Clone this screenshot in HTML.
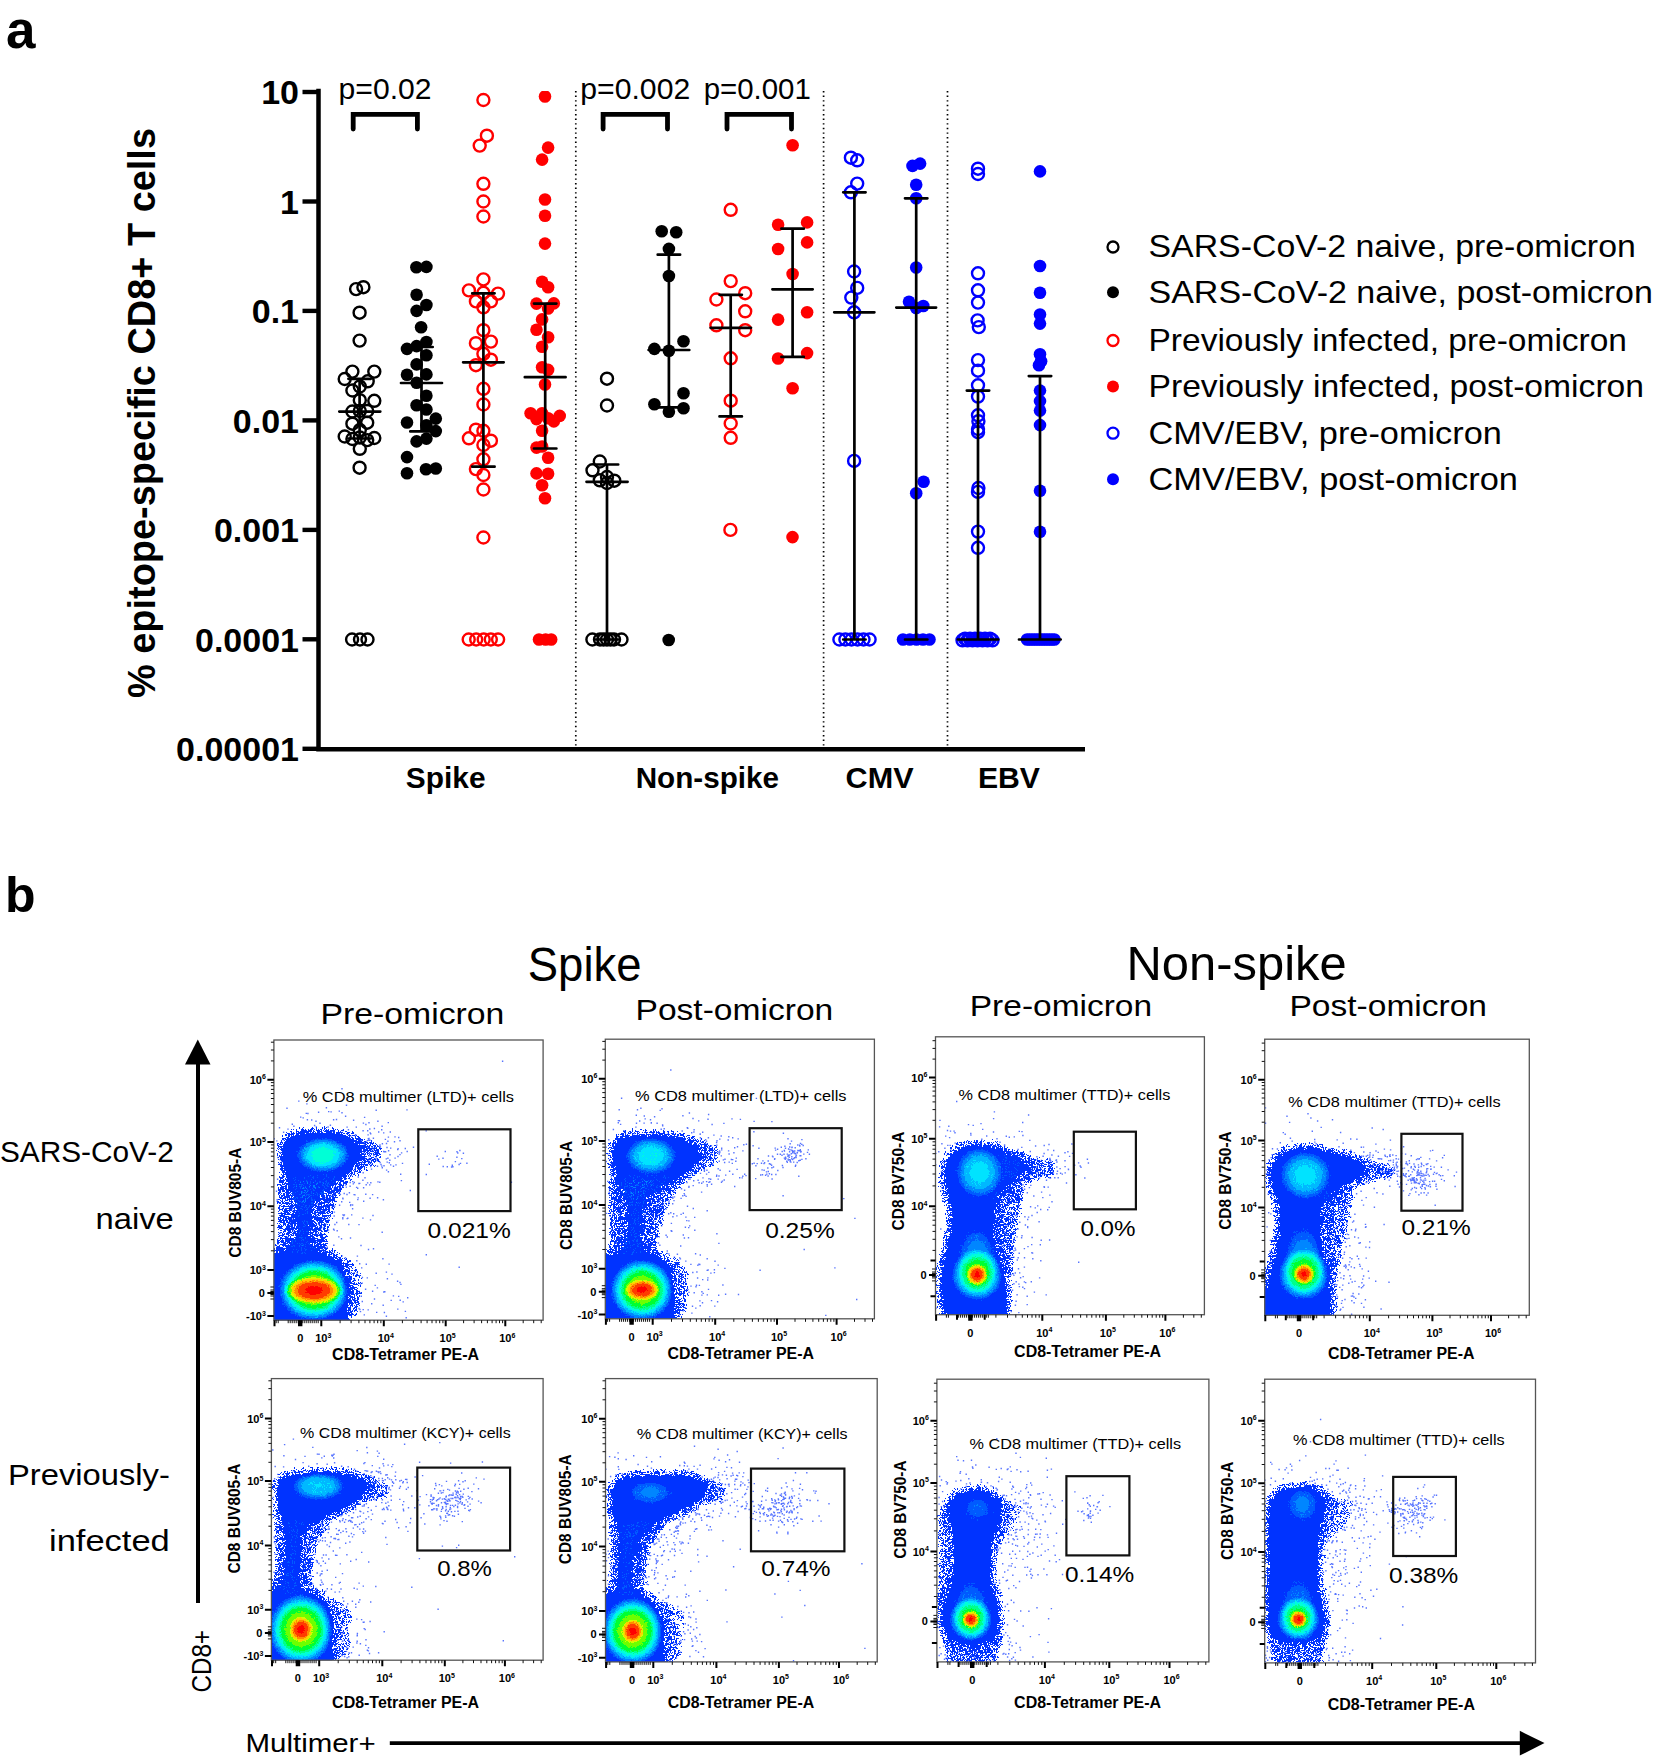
<!DOCTYPE html>
<html><head><meta charset="utf-8"><title>Figure</title>
<style>html,body{margin:0;padding:0;background:#fff;} svg{display:block;}</style></head>
<body>
<svg width="1654" height="1762" viewBox="0 0 1654 1762">
<defs>
<filter id="jet" x="0" y="0" width="1" height="1" color-interpolation-filters="sRGB">
 <feTurbulence type="fractalNoise" baseFrequency="0.8" numOctaves="1" seed="3" result="t"/>
 <feDisplacementMap in="SourceGraphic" in2="t" scale="3.5" xChannelSelector="R" yChannelSelector="G"/>
 <feColorMatrix type="matrix" values="1 0 0 0 0  0 1 0 0 0  0 0 1 0 0  1 0 0 0 0"/>
 <feComponentTransfer>
  <feFuncR type="discrete" tableValues="1 1 1 1 1 0 0 0 0 0 0 0 0 0 0 0 0 0 0 0 0 0 0 0 0 0 0 0 0 0 0 0 0 0 0 0 0 0 0 0 0 0 0 0 0 0 0 0 0 0 0 0 0 0 0 0 0 0 0 0 0 0 0 0 0 0 0 0 0 0 0 0 0 0 0 0 0.431 0.431 0.431 0.431 0.431 0.431 0.843 0.843 0.843 0.843 0.843 1 1 1 1 1 1 1 1 1 1 1 1 1"/>
  <feFuncG type="discrete" tableValues="1 1 1 1 1 0.2 0.2 0.2 0.2 0.2 0.2 0.2 0.2 0.2 0.2 0.2 0.2 0.2 0.2 0.2 0.2 0.2 0.2 0.2 0.2 0.2 0.2 0.2 0.353 0.353 0.353 0.353 0.353 0.353 0.353 0.353 0.529 0.529 0.529 0.529 0.529 0.529 0.529 0.529 0.725 0.725 0.725 0.725 0.725 0.725 0.725 0.894 0.894 0.894 0.894 0.894 0.894 1 1 1 1 1 1 1 1 1 1 1 1 1 1 1 1 1 1 1 1 1 1 1 1 1 0.98 0.98 0.98 0.98 0.98 0.804 0.804 0.804 0.804 0.804 0.549 0.549 0.549 0.549 0.235 0.235 0.235 0"/>
  <feFuncB type="discrete" tableValues="1 1 1 1 1 1 1 1 1 1 1 1 1 1 1 1 1 1 1 1 1 1 1 1 1 1 1 1 1 1 1 1 1 1 1 1 1 1 1 1 1 1 1 1 1 1 1 1 1 1 1 1 1 1 1 1 1 0.843 0.843 0.843 0.843 0.843 0.843 0.843 0.549 0.549 0.549 0.549 0.549 0.549 0.196 0.196 0.196 0.196 0.196 0.196 0 0 0 0 0 0 0 0 0 0 0 0 0 0 0 0 0 0 0 0 0 0 0 0"/>
  <feFuncA type="discrete" tableValues="0 0 0 0 0 1 1 1 1 1 1 1 1 1 1 1 1 1 1 1 1 1 1 1 1 1 1 1 1 1 1 1 1 1 1 1 1 1 1 1 1 1 1 1 1 1 1 1 1 1 1 1 1 1 1 1 1 1 1 1 1 1 1 1 1 1 1 1 1 1 1 1 1 1 1 1 1 1 1 1 1 1 1 1 1 1 1 1 1 1 1 1 1 1 1 1 1 1 1 1"/>
 </feComponentTransfer>
</filter>
<filter id="nz" x="-5%" y="-5%" width="110%" height="110%" color-interpolation-filters="sRGB">
 <feTurbulence type="fractalNoise" baseFrequency="0.9" numOctaves="2" seed="7"/>
 <feColorMatrix type="matrix" values="0 0 0 0 1  0 0 0 0 1  0 0 0 0 1  0 0 3.2 0 -1.1"/>
 <feComponentTransfer result="n"><feFuncA type="linear" slope="1" intercept="0"/></feComponentTransfer>
 <feComposite in="SourceGraphic" in2="n" operator="arithmetic" k1="2.0" k2="0.0" k3="0" k4="0"/>
</filter>
<filter id="eb" x="-20%" y="-20%" width="140%" height="140%" color-interpolation-filters="sRGB"><feMorphology operator="erode" radius="2.5"/><feGaussianBlur stdDeviation="2"/></filter>
<filter id="eb3" x="-30%" y="-30%" width="160%" height="160%" color-interpolation-filters="sRGB"><feGaussianBlur stdDeviation="3"/></filter>
<filter id="eb6" x="-40%" y="-40%" width="180%" height="180%" color-interpolation-filters="sRGB"><feGaussianBlur stdDeviation="7"/></filter>
<radialGradient id="rg"><stop offset="0" stop-color="#fff" stop-opacity="1"/><stop offset="0.4" stop-color="#fff" stop-opacity="0.93"/><stop offset="0.6" stop-color="#fff" stop-opacity="0.78"/><stop offset="0.8" stop-color="#fff" stop-opacity="0.45"/><stop offset="0.9" stop-color="#fff" stop-opacity="0.24"/><stop offset="1" stop-color="#fff" stop-opacity="0"/></radialGradient>
</defs>
<rect width="1654" height="1762" fill="#fff"/>
<text x="6" y="47.5" font-family="Liberation Sans, Arial, sans-serif" font-weight="700" font-size="53">a</text>
<text transform="translate(155.2,698) rotate(-90)" font-family="Liberation Sans, Arial, sans-serif" font-weight="700" font-size="38.6" textLength="570" lengthAdjust="spacingAndGlyphs">% epitope-specific CD8+ T cells</text>
<line x1="302.5" y1="92" x2="318" y2="92" stroke="#000" stroke-width="4.4"/>
<text x="299" y="104.3" text-anchor="end" font-family="Liberation Sans, Arial, sans-serif" font-weight="700" font-size="34">10</text>
<line x1="302.5" y1="201.5" x2="318" y2="201.5" stroke="#000" stroke-width="4.4"/>
<text x="299" y="213.8" text-anchor="end" font-family="Liberation Sans, Arial, sans-serif" font-weight="700" font-size="34">1</text>
<line x1="302.5" y1="310.9" x2="318" y2="310.9" stroke="#000" stroke-width="4.4"/>
<text x="299" y="323.2" text-anchor="end" font-family="Liberation Sans, Arial, sans-serif" font-weight="700" font-size="34">0.1</text>
<line x1="302.5" y1="420.4" x2="318" y2="420.4" stroke="#000" stroke-width="4.4"/>
<text x="299" y="432.7" text-anchor="end" font-family="Liberation Sans, Arial, sans-serif" font-weight="700" font-size="34">0.01</text>
<line x1="302.5" y1="529.9" x2="318" y2="529.9" stroke="#000" stroke-width="4.4"/>
<text x="299" y="542.1" text-anchor="end" font-family="Liberation Sans, Arial, sans-serif" font-weight="700" font-size="34">0.001</text>
<line x1="302.5" y1="639.3" x2="318" y2="639.3" stroke="#000" stroke-width="4.4"/>
<text x="299" y="651.6" text-anchor="end" font-family="Liberation Sans, Arial, sans-serif" font-weight="700" font-size="34">0.0001</text>
<line x1="302.5" y1="748.8" x2="318" y2="748.8" stroke="#000" stroke-width="4.4"/>
<text x="299" y="761" text-anchor="end" font-family="Liberation Sans, Arial, sans-serif" font-weight="700" font-size="34">0.00001</text>
<path d="M318.5 88.7 V751.5 M316.3 749.3 H1085" stroke="#000" stroke-width="4.5" fill="none"/>
<line x1="575.8" y1="91" x2="575.8" y2="747" stroke="#000" stroke-width="1.7" stroke-dasharray="1.4 3.2"/>
<line x1="823.6" y1="91" x2="823.6" y2="747" stroke="#000" stroke-width="1.7" stroke-dasharray="1.4 3.2"/>
<line x1="947.5" y1="91" x2="947.5" y2="747" stroke="#000" stroke-width="1.7" stroke-dasharray="1.4 3.2"/>
<text x="405.8" y="788" font-family="Liberation Sans, Arial, sans-serif" font-weight="700" font-size="29" textLength="79.7" lengthAdjust="spacingAndGlyphs">Spike</text>
<text x="635.7" y="788" font-family="Liberation Sans, Arial, sans-serif" font-weight="700" font-size="29" textLength="143.4" lengthAdjust="spacingAndGlyphs">Non-spike</text>
<text x="845.6" y="788" font-family="Liberation Sans, Arial, sans-serif" font-weight="700" font-size="29" textLength="68" lengthAdjust="spacingAndGlyphs">CMV</text>
<text x="977.9" y="788" font-family="Liberation Sans, Arial, sans-serif" font-weight="700" font-size="29" textLength="62.1" lengthAdjust="spacingAndGlyphs">EBV</text>
<text x="338.6" y="98.8" font-family="Liberation Sans, Arial, sans-serif" font-size="30" textLength="93" lengthAdjust="spacingAndGlyphs">p=0.02</text>
<text x="580.3" y="98.8" font-family="Liberation Sans, Arial, sans-serif" font-size="30" textLength="109.9" lengthAdjust="spacingAndGlyphs">p=0.002</text>
<text x="703.7" y="98.8" font-family="Liberation Sans, Arial, sans-serif" font-size="30" textLength="107.1" lengthAdjust="spacingAndGlyphs">p=0.001</text>
<path d="M353.2 129.1 V114.4 H417.4 V129.1" stroke="#000" stroke-width="4.8" fill="none" stroke-linecap="round"/>
<path d="M603.1 129.1 V114.4 H667.5 V129.1" stroke="#000" stroke-width="4.8" fill="none" stroke-linecap="round"/>
<path d="M727.0 129.1 V114.4 H791.5 V129.1" stroke="#000" stroke-width="4.8" fill="none" stroke-linecap="round"/>
<clipPath id="pa"><rect x="318" y="91" width="770" height="658"/></clipPath>
<g clip-path="url(#pa)">
<g fill="none" stroke="#000" stroke-width="2.4">
<circle cx="356.1" cy="289.1" r="6.0"/>
<circle cx="363.4" cy="287.2" r="6.0"/>
<circle cx="359.6" cy="312.7" r="6.0"/>
<circle cx="359.6" cy="340.6" r="6.0"/>
<circle cx="352.4" cy="371.6" r="6.0"/>
<circle cx="374.3" cy="371.6" r="6.0"/>
<circle cx="344.7" cy="379" r="6.0"/>
<circle cx="367.7" cy="381.3" r="6.0"/>
<circle cx="359.8" cy="386.5" r="6.0"/>
<circle cx="352.4" cy="390.5" r="6.0"/>
<circle cx="359.8" cy="400.2" r="6.0"/>
<circle cx="374.3" cy="400.8" r="6.0"/>
<circle cx="352.4" cy="411.5" r="6.0"/>
<circle cx="359.8" cy="411" r="6.0"/>
<circle cx="367.2" cy="411" r="6.0"/>
<circle cx="352.4" cy="423.7" r="6.0"/>
<circle cx="367.2" cy="422.7" r="6.0"/>
<circle cx="359.8" cy="430" r="6.0"/>
<circle cx="344.7" cy="436.5" r="6.0"/>
<circle cx="352.4" cy="439" r="6.0"/>
<circle cx="359.8" cy="437.5" r="6.0"/>
<circle cx="367.2" cy="440.1" r="6.0"/>
<circle cx="374.3" cy="438" r="6.0"/>
<circle cx="359.8" cy="448.8" r="6.0"/>
<circle cx="359.6" cy="467.7" r="6.0"/>
<circle cx="352.1" cy="639.5" r="6.0"/>
<circle cx="360" cy="639.5" r="6.0"/>
<circle cx="367.5" cy="639.5" r="6.0"/>
</g>
<g fill="#000">
<circle cx="416.4" cy="267.3" r="6.3"/>
<circle cx="426.4" cy="266.9" r="6.3"/>
<circle cx="416.6" cy="294.8" r="6.3"/>
<circle cx="426.4" cy="305" r="6.3"/>
<circle cx="416.6" cy="310.9" r="6.3"/>
<circle cx="421.1" cy="327.3" r="6.3"/>
<circle cx="426.4" cy="342" r="6.3"/>
<circle cx="416.6" cy="346.1" r="6.3"/>
<circle cx="407" cy="348.9" r="6.3"/>
<circle cx="426.4" cy="355.3" r="6.3"/>
<circle cx="416.6" cy="364.4" r="6.3"/>
<circle cx="407" cy="374.8" r="6.3"/>
<circle cx="426.4" cy="374.4" r="6.3"/>
<circle cx="416.6" cy="382.8" r="6.3"/>
<circle cx="426.4" cy="395.8" r="6.3"/>
<circle cx="416.6" cy="405.2" r="6.3"/>
<circle cx="426.4" cy="409.5" r="6.3"/>
<circle cx="435.8" cy="418.6" r="6.3"/>
<circle cx="407" cy="422.5" r="6.3"/>
<circle cx="426.4" cy="425.3" r="6.3"/>
<circle cx="435.8" cy="431.1" r="6.3"/>
<circle cx="426.4" cy="438.6" r="6.3"/>
<circle cx="416.6" cy="441.4" r="6.3"/>
<circle cx="407" cy="457.1" r="6.3"/>
<circle cx="407" cy="473.2" r="6.3"/>
<circle cx="426" cy="469.3" r="6.3"/>
<circle cx="435.8" cy="468.5" r="6.3"/>
</g>
<g fill="none" stroke="#ff0000" stroke-width="2.4">
<circle cx="483.4" cy="100" r="6.0"/>
<circle cx="486.9" cy="135.7" r="6.0"/>
<circle cx="479.7" cy="145.6" r="6.0"/>
<circle cx="483.4" cy="183.8" r="6.0"/>
<circle cx="483.4" cy="201.5" r="6.0"/>
<circle cx="483.4" cy="216.5" r="6.0"/>
<circle cx="483.4" cy="279.4" r="6.0"/>
<circle cx="468.9" cy="290.4" r="6.0"/>
<circle cx="483.4" cy="292.8" r="6.0"/>
<circle cx="498" cy="293.6" r="6.0"/>
<circle cx="475.9" cy="301.4" r="6.0"/>
<circle cx="490.9" cy="301.4" r="6.0"/>
<circle cx="483.4" cy="307.3" r="6.0"/>
<circle cx="483.4" cy="330.2" r="6.0"/>
<circle cx="475.9" cy="343.2" r="6.0"/>
<circle cx="490.9" cy="341.6" r="6.0"/>
<circle cx="483.4" cy="353.8" r="6.0"/>
<circle cx="490.9" cy="359.7" r="6.0"/>
<circle cx="475.9" cy="365.2" r="6.0"/>
<circle cx="483.4" cy="388.8" r="6.0"/>
<circle cx="483.4" cy="404.5" r="6.0"/>
<circle cx="475.9" cy="429.7" r="6.0"/>
<circle cx="483.4" cy="430.8" r="6.0"/>
<circle cx="468.9" cy="438.3" r="6.0"/>
<circle cx="490.9" cy="440.7" r="6.0"/>
<circle cx="483.4" cy="445" r="6.0"/>
<circle cx="483.4" cy="459.3" r="6.0"/>
<circle cx="475.9" cy="469.1" r="6.0"/>
<circle cx="483.4" cy="475" r="6.0"/>
<circle cx="483.4" cy="489.5" r="6.0"/>
<circle cx="483.4" cy="537.5" r="6.0"/>
<circle cx="468.7" cy="639.5" r="6.0"/>
<circle cx="476.2" cy="639.5" r="6.0"/>
<circle cx="483.7" cy="639.5" r="6.0"/>
<circle cx="490.8" cy="639.5" r="6.0"/>
<circle cx="498.1" cy="639.5" r="6.0"/>
</g>
<g fill="#ff0000">
<circle cx="545" cy="96.5" r="6.3"/>
<circle cx="548.1" cy="147.6" r="6.3"/>
<circle cx="542.1" cy="159.6" r="6.3"/>
<circle cx="545" cy="199.5" r="6.3"/>
<circle cx="545" cy="215.7" r="6.3"/>
<circle cx="545" cy="243.6" r="6.3"/>
<circle cx="542.1" cy="281.8" r="6.3"/>
<circle cx="548.1" cy="287.3" r="6.3"/>
<circle cx="536.5" cy="303.6" r="6.3"/>
<circle cx="553.8" cy="303.4" r="6.3"/>
<circle cx="548.1" cy="308.5" r="6.3"/>
<circle cx="542.1" cy="319.4" r="6.3"/>
<circle cx="536.5" cy="329.7" r="6.3"/>
<circle cx="548.1" cy="337.3" r="6.3"/>
<circle cx="542.1" cy="346.7" r="6.3"/>
<circle cx="542.1" cy="367.2" r="6.3"/>
<circle cx="548.1" cy="369.9" r="6.3"/>
<circle cx="545" cy="384.5" r="6.3"/>
<circle cx="530.6" cy="413.2" r="6.3"/>
<circle cx="542.1" cy="413.2" r="6.3"/>
<circle cx="536.5" cy="419.1" r="6.3"/>
<circle cx="548.1" cy="418.3" r="6.3"/>
<circle cx="553.8" cy="421.4" r="6.3"/>
<circle cx="559.7" cy="415.9" r="6.3"/>
<circle cx="542.1" cy="430.8" r="6.3"/>
<circle cx="536.5" cy="447.6" r="6.3"/>
<circle cx="542.1" cy="446.5" r="6.3"/>
<circle cx="548.1" cy="457.7" r="6.3"/>
<circle cx="536.5" cy="473.4" r="6.3"/>
<circle cx="548.1" cy="473.8" r="6.3"/>
<circle cx="542.1" cy="485.2" r="6.3"/>
<circle cx="545" cy="498.2" r="6.3"/>
<circle cx="539" cy="639.5" r="6.3"/>
<circle cx="545.6" cy="639.5" r="6.3"/>
<circle cx="551.2" cy="639.5" r="6.3"/>
</g>
<g fill="none" stroke="#000" stroke-width="2.4">
<circle cx="607" cy="378.7" r="6.0"/>
<circle cx="607" cy="405.5" r="6.0"/>
<circle cx="599.8" cy="461.5" r="6.0"/>
<circle cx="592.5" cy="470.3" r="6.0"/>
<circle cx="599.8" cy="480.3" r="6.0"/>
<circle cx="607" cy="483" r="6.0"/>
<circle cx="614.3" cy="480.7" r="6.0"/>
<circle cx="607" cy="477" r="6.0"/>
<circle cx="592.4" cy="639.5" r="6.0"/>
<circle cx="600" cy="639.5" r="6.0"/>
<circle cx="603.5" cy="639.5" r="6.0"/>
<circle cx="607" cy="639.5" r="6.0"/>
<circle cx="610.5" cy="639.5" r="6.0"/>
<circle cx="614" cy="639.5" r="6.0"/>
<circle cx="621.5" cy="639.5" r="6.0"/>
</g>
<g fill="#000">
<circle cx="661.7" cy="231.2" r="6.3"/>
<circle cx="676.2" cy="232.2" r="6.3"/>
<circle cx="668.9" cy="248.9" r="6.3"/>
<circle cx="668.9" cy="276" r="6.3"/>
<circle cx="683.5" cy="341.2" r="6.3"/>
<circle cx="654.4" cy="348.9" r="6.3"/>
<circle cx="668.9" cy="350.8" r="6.3"/>
<circle cx="683.5" cy="393.3" r="6.3"/>
<circle cx="654.4" cy="404.3" r="6.3"/>
<circle cx="668.9" cy="411.8" r="6.3"/>
<circle cx="683.5" cy="408.2" r="6.3"/>
<circle cx="668.7" cy="640" r="6.3"/>
</g>
<g fill="none" stroke="#ff0000" stroke-width="2.4">
<circle cx="730.7" cy="209.8" r="6.0"/>
<circle cx="730.7" cy="281.1" r="6.0"/>
<circle cx="745.2" cy="293.2" r="6.0"/>
<circle cx="716.4" cy="299.5" r="6.0"/>
<circle cx="745.2" cy="311.3" r="6.0"/>
<circle cx="716.4" cy="325.3" r="6.0"/>
<circle cx="745.2" cy="330.2" r="6.0"/>
<circle cx="730.7" cy="358.3" r="6.0"/>
<circle cx="730.7" cy="400.7" r="6.0"/>
<circle cx="730.7" cy="423.5" r="6.0"/>
<circle cx="730.7" cy="437.8" r="6.0"/>
<circle cx="730.4" cy="529.9" r="6.0"/>
</g>
<g fill="#ff0000">
<circle cx="792.6" cy="145.3" r="6.3"/>
<circle cx="778.1" cy="224.7" r="6.3"/>
<circle cx="807.1" cy="222.4" r="6.3"/>
<circle cx="778.1" cy="249" r="6.3"/>
<circle cx="807.1" cy="242.4" r="6.3"/>
<circle cx="792.6" cy="274" r="6.3"/>
<circle cx="807.1" cy="312.3" r="6.3"/>
<circle cx="778.1" cy="319.6" r="6.3"/>
<circle cx="807.1" cy="353.1" r="6.3"/>
<circle cx="778.1" cy="358.5" r="6.3"/>
<circle cx="792.6" cy="388.2" r="6.3"/>
<circle cx="792.5" cy="537.1" r="6.3"/>
</g>
<g fill="none" stroke="#0000ff" stroke-width="2.4">
<circle cx="850.9" cy="157.7" r="6.0"/>
<circle cx="857.2" cy="160.3" r="6.0"/>
<circle cx="857.2" cy="183.6" r="6.0"/>
<circle cx="850.9" cy="192.3" r="6.0"/>
<circle cx="854.1" cy="271.5" r="6.0"/>
<circle cx="857.2" cy="287.9" r="6.0"/>
<circle cx="851.3" cy="297.6" r="6.0"/>
<circle cx="854.1" cy="312.3" r="6.0"/>
<circle cx="854.1" cy="460.9" r="6.0"/>
<circle cx="839.4" cy="639.5" r="6.0"/>
<circle cx="845.4" cy="639.5" r="6.0"/>
<circle cx="851.5" cy="639.5" r="6.0"/>
<circle cx="857.5" cy="639.5" r="6.0"/>
<circle cx="863.5" cy="639.5" r="6.0"/>
<circle cx="869.6" cy="639.5" r="6.0"/>
</g>
<g fill="#0000ff">
<circle cx="912.5" cy="165.9" r="6.3"/>
<circle cx="920.1" cy="163.6" r="6.3"/>
<circle cx="916.2" cy="184.8" r="6.3"/>
<circle cx="916.2" cy="198.2" r="6.3"/>
<circle cx="916.2" cy="267.5" r="6.3"/>
<circle cx="909" cy="301.7" r="6.3"/>
<circle cx="923.3" cy="306" r="6.3"/>
<circle cx="916.2" cy="308" r="6.3"/>
<circle cx="923.6" cy="481.8" r="6.3"/>
<circle cx="916.2" cy="493.3" r="6.3"/>
<circle cx="903" cy="639.5" r="6.3"/>
<circle cx="909.8" cy="639.5" r="6.3"/>
<circle cx="916.5" cy="639.5" r="6.3"/>
<circle cx="923" cy="639.5" r="6.3"/>
<circle cx="929.5" cy="639.5" r="6.3"/>
</g>
<g fill="none" stroke="#0000ff" stroke-width="2.4">
<circle cx="978" cy="168.7" r="6.0"/>
<circle cx="978" cy="174" r="6.0"/>
<circle cx="978" cy="273.3" r="6.0"/>
<circle cx="978" cy="290.3" r="6.0"/>
<circle cx="978" cy="302.6" r="6.0"/>
<circle cx="977.6" cy="320.4" r="6.0"/>
<circle cx="978.8" cy="327.1" r="6.0"/>
<circle cx="978" cy="360.1" r="6.0"/>
<circle cx="978" cy="370.7" r="6.0"/>
<circle cx="978" cy="385.3" r="6.0"/>
<circle cx="978" cy="396.6" r="6.0"/>
<circle cx="978" cy="415.3" r="6.0"/>
<circle cx="978.4" cy="421.2" r="6.0"/>
<circle cx="978" cy="429" r="6.0"/>
<circle cx="978" cy="432.2" r="6.0"/>
<circle cx="978.4" cy="488" r="6.0"/>
<circle cx="978" cy="491.9" r="6.0"/>
<circle cx="978" cy="531.6" r="6.0"/>
<circle cx="978" cy="547.8" r="6.0"/>
<circle cx="962.5" cy="640.3" r="6.0"/>
<circle cx="965" cy="638.7" r="6.0"/>
<circle cx="967.5" cy="640.3" r="6.0"/>
<circle cx="970" cy="638.7" r="6.0"/>
<circle cx="972.5" cy="640.3" r="6.0"/>
<circle cx="975" cy="638.7" r="6.0"/>
<circle cx="977.5" cy="640.3" r="6.0"/>
<circle cx="980" cy="638.7" r="6.0"/>
<circle cx="982.5" cy="640.3" r="6.0"/>
<circle cx="985" cy="638.7" r="6.0"/>
<circle cx="987.5" cy="640.3" r="6.0"/>
<circle cx="990" cy="638.7" r="6.0"/>
<circle cx="992.5" cy="640.3" r="6.0"/>
</g>
<g fill="#0000ff">
<circle cx="1040" cy="171.4" r="6.3"/>
<circle cx="1040" cy="266" r="6.3"/>
<circle cx="1040" cy="292.7" r="6.3"/>
<circle cx="1040" cy="314.5" r="6.3"/>
<circle cx="1040" cy="323.6" r="6.3"/>
<circle cx="1040" cy="354.2" r="6.3"/>
<circle cx="1041.1" cy="361.3" r="6.3"/>
<circle cx="1039" cy="365.2" r="6.3"/>
<circle cx="1040" cy="390.6" r="6.3"/>
<circle cx="1040" cy="401.1" r="6.3"/>
<circle cx="1040" cy="410.6" r="6.3"/>
<circle cx="1040" cy="425.1" r="6.3"/>
<circle cx="1040" cy="490.7" r="6.3"/>
<circle cx="1040" cy="531.7" r="6.3"/>
<circle cx="1027" cy="639.5" r="6.3"/>
<circle cx="1029.5" cy="639.5" r="6.3"/>
<circle cx="1032" cy="639.5" r="6.3"/>
<circle cx="1034.5" cy="639.5" r="6.3"/>
<circle cx="1037" cy="639.5" r="6.3"/>
<circle cx="1039.5" cy="639.5" r="6.3"/>
<circle cx="1042" cy="639.5" r="6.3"/>
<circle cx="1044.5" cy="639.5" r="6.3"/>
<circle cx="1047" cy="639.5" r="6.3"/>
<circle cx="1049.5" cy="639.5" r="6.3"/>
<circle cx="1052" cy="639.5" r="6.3"/>
<circle cx="1054.5" cy="639.5" r="6.3"/>
</g>
<g stroke="#000" stroke-width="2.7" stroke-linecap="round" fill="none">
<path d="M359.6 378.8 V438.5 M348.4 378.8 H370.8 M348.4 438.5 H370.8 M339.3 411.6 H380.3"/>
<path d="M421.5 347 V431.4 M410.3 347 H432.7 M410.3 431.4 H432.7 M401 383 H442"/>
<path d="M483.4 293.3 V466.7 M472.2 293.3 H494.6 M472.2 466.7 H494.6 M463.1 362.3 H503.7"/>
<path d="M545.2 303.6 V448.5 M534 303.6 H556.4 M534 448.5 H556.4 M524.8 377.2 H565.6"/>
<path d="M607 464.5 V639.5 M595.8 464.5 H618.2 M595.8 639.5 H618.2 M586.5 481.8 H627.6"/>
<path d="M668.9 254.7 V407.4 M657.7 254.7 H680.1 M657.7 407.4 H680.1 M648.6 350 H689.3"/>
<path d="M730.7 294.8 V416.4 M719.5 294.8 H741.9 M719.5 416.4 H741.9 M710.6 327.8 H751"/>
<path d="M792.6 228.7 V356.9 M781.4 228.7 H803.8 M781.4 356.9 H803.8 M772.4 289.3 H812.7"/>
<path d="M854.4 192.3 V639.5 M843.2 192.3 H865.6 M843.2 639.5 H865.6 M834.2 312.3 H874.4"/>
<path d="M916.2 198.3 V639.5 M905 198.3 H927.4 M905 639.5 H927.4 M896.3 307.6 H936.1"/>
<path d="M978 390.6 V639.5 M966.8 390.6 H989.2 M966.8 639.5 H989.2 M957.8 639.5 H998.3"/>
<path d="M1040 376.1 V639.5 M1028.8 376.1 H1051.2 M1028.8 639.5 H1051.2 M1019 639.5 H1060.7"/>
</g></g>
<circle cx="1113" cy="247" r="5.5" fill="none" stroke="#000" stroke-width="2.3"/>
<text x="1148.5" y="257.3" font-family="Liberation Sans, Arial, sans-serif" font-size="32" textLength="487.3" lengthAdjust="spacingAndGlyphs">SARS-CoV-2 naive, pre-omicron</text>
<circle cx="1113" cy="292.2" r="6" fill="#000"/>
<text x="1148.5" y="302.5" font-family="Liberation Sans, Arial, sans-serif" font-size="32" textLength="504.4" lengthAdjust="spacingAndGlyphs">SARS-CoV-2 naive, post-omicron</text>
<circle cx="1113" cy="340.5" r="5.5" fill="none" stroke="#ff0000" stroke-width="2.3"/>
<text x="1148.5" y="350.8" font-family="Liberation Sans, Arial, sans-serif" font-size="32" textLength="478.5" lengthAdjust="spacingAndGlyphs">Previously infected, pre-omicron</text>
<circle cx="1113" cy="386.5" r="6" fill="#ff0000"/>
<text x="1148.5" y="396.8" font-family="Liberation Sans, Arial, sans-serif" font-size="32" textLength="495.5" lengthAdjust="spacingAndGlyphs">Previously infected, post-omicron</text>
<circle cx="1113" cy="433.2" r="5.5" fill="none" stroke="#0000ff" stroke-width="2.3"/>
<text x="1148.5" y="443.5" font-family="Liberation Sans, Arial, sans-serif" font-size="32" textLength="353.3" lengthAdjust="spacingAndGlyphs">CMV/EBV, pre-omicron</text>
<circle cx="1113" cy="479.3" r="6" fill="#0000ff"/>
<text x="1148.5" y="489.6" font-family="Liberation Sans, Arial, sans-serif" font-size="32" textLength="369.4" lengthAdjust="spacingAndGlyphs">CMV/EBV, post-omicron</text>
<text x="5" y="912" font-family="Liberation Sans, Arial, sans-serif" font-size="50" font-weight="700">b</text>
<text x="527.8" y="980.5" font-family="Liberation Sans, Arial, sans-serif" font-size="49" textLength="113.7" lengthAdjust="spacingAndGlyphs">Spike</text>
<text x="1126.5" y="980.3" font-family="Liberation Sans, Arial, sans-serif" font-size="47.5" textLength="220.2" lengthAdjust="spacingAndGlyphs">Non-spike</text>
<text x="320.5" y="1024.3" font-family="Liberation Sans, Arial, sans-serif" font-size="30.4" textLength="183.9" lengthAdjust="spacingAndGlyphs">Pre-omicron</text>
<text x="635.5" y="1019.6" font-family="Liberation Sans, Arial, sans-serif" font-size="30.4" textLength="197.8" lengthAdjust="spacingAndGlyphs">Post-omicron</text>
<text x="969.8" y="1016.4" font-family="Liberation Sans, Arial, sans-serif" font-size="30.4" textLength="182.3" lengthAdjust="spacingAndGlyphs">Pre-omicron</text>
<text x="1289.5" y="1016.4" font-family="Liberation Sans, Arial, sans-serif" font-size="30.4" textLength="197.5" lengthAdjust="spacingAndGlyphs">Post-omicron</text>
<text x="0" y="1162" font-family="Liberation Sans, Arial, sans-serif" font-size="30.3" textLength="173.8" lengthAdjust="spacingAndGlyphs">SARS-CoV-2</text>
<text x="95.5" y="1228.5" font-family="Liberation Sans, Arial, sans-serif" font-size="30.3" textLength="78.3" lengthAdjust="spacingAndGlyphs">naive</text>
<text x="8" y="1485.4" font-family="Liberation Sans, Arial, sans-serif" font-size="30.3" textLength="161.8" lengthAdjust="spacingAndGlyphs">Previously-</text>
<text x="49" y="1551.4" font-family="Liberation Sans, Arial, sans-serif" font-size="30.3" textLength="120.8" lengthAdjust="spacingAndGlyphs">infected</text>
<text transform="translate(211,1692.5) rotate(-90)" font-family="Liberation Sans, Arial, sans-serif" font-size="27.4" textLength="62.5" lengthAdjust="spacingAndGlyphs">CD8+</text>
<text x="245.5" y="1752" font-family="Liberation Sans, Arial, sans-serif" font-size="25.8" textLength="130.1" lengthAdjust="spacingAndGlyphs">Multimer+</text>
<path d="M198 1603 V1062" stroke="#000" stroke-width="4"/>
<path d="M185 1064.5 L197.8 1039.5 L210.5 1064.5 Z" fill="#000"/>
<path d="M389.8 1743.1 H1522" stroke="#000" stroke-width="3.8"/>
<path d="M1519.8 1730.8 L1544.5 1743.1 L1519.8 1755.5 Z" fill="#000"/>
<clipPath id="cp0"><rect x="273.9" y="1040" width="269.2" height="280.2"/></clipPath>
<g clip-path="url(#cp0)">
<path d="M333.6 1119.7h0M277.8 1157.5h0M367.3 1147.9h0M395.1 1158.1h0M426.2 1130.9h0M350.2 1182.5h0M398.0 1156.5h0M281.6 1158.6h0M358.3 1177.0h0M346.5 1105.3h0M363.1 1130.7h0M328.1 1127.0h0M347.0 1194.5h0M326.4 1107.8h0M374.4 1128.5h0M276.8 1140.9h0M364.4 1144.2h0M413.5 1147.3h0M396.0 1164.9h0M316.0 1121.2h0M359.0 1183.5h0M369.0 1138.5h0M283.6 1132.2h0M330.4 1125.2h0M339.3 1111.1h0M401.6 1152.9h0M429.3 1164.3h0M375.7 1151.1h0M367.7 1130.8h0M377.5 1166.3h0M384.4 1151.8h0M369.0 1122.8h0M339.6 1191.8h0M369.9 1140.3h0M383.4 1199.7h0M279.5 1127.7h0M300.7 1117.1h0M364.7 1142.8h0M342.7 1130.5h0M334.5 1192.7h0M318.6 1112.3h0M363.4 1123.1h0M282.0 1161.8h0M307.4 1119.8h0M298.8 1101.1h0M345.6 1116.2h0M380.0 1145.0h0M371.5 1169.1h0M277.6 1179.3h0M303.2 1117.9h0M365.9 1124.5h0M307.9 1113.5h0M386.3 1158.9h0M334.4 1212.1h0M377.4 1160.8h0M356.3 1127.1h0M355.2 1168.3h0M292.3 1124.2h0M358.6 1164.9h0M311.7 1120.0h0M365.0 1177.7h0M387.2 1162.1h0M342.0 1088.8h0M368.1 1134.9h0M274.3 1138.7h0M288.0 1129.1h0M367.0 1150.0h0M334.5 1187.2h0M331.1 1111.9h0M279.5 1163.6h0M306.3 1113.4h0M332.8 1131.5h0M320.0 1123.2h0M386.5 1143.5h0M388.3 1122.6h0M347.4 1133.9h0M348.4 1129.7h0M405.3 1148.5h0M280.2 1152.7h0M371.9 1147.9h0M349.4 1192.7h0M328.7 1111.6h0M342.0 1112.7h0M345.0 1182.9h0M292.6 1208.5h0M402.5 1163.4h0M276.5 1191.2h0M364.9 1158.2h0M368.6 1160.5h0M316.3 1126.9h0M352.7 1181.6h0M351.0 1136.1h0M368.9 1140.2h0M354.6 1171.1h0M362.1 1162.4h0M293.9 1126.3h0M306.9 1103.9h0M340.4 1194.5h0M287.0 1108.3h0M283.5 1139.9h0M334.7 1206.1h0M395.0 1136.9h0M357.6 1166.6h0M407.2 1151.5h0M336.5 1119.5h0M280.2 1159.7h0M377.9 1121.3h0M407.0 1109.9h0M347.1 1127.1h0M369.2 1158.5h0M314.6 1125.5h0M364.2 1148.0h0M390.0 1154.8h0M389.3 1162.8h0M380.4 1147.0h0M387.9 1158.3h0M368.6 1160.4h0M378.7 1132.0h0M354.9 1135.5h0M388.4 1137.1h0M368.2 1161.5h0M381.0 1164.5h0M372.7 1150.3h0M367.4 1140.6h0M361.7 1140.7h0M378.7 1161.4h0M370.7 1133.8h0M382.1 1126.2h0M370.7 1166.5h0M363.2 1162.6h0M376.2 1158.0h0M400.7 1174.2h0M381.8 1166.1h0M376.2 1110.3h0M369.8 1129.0h0M371.5 1164.4h0M371.5 1151.2h0M366.1 1159.1h0M371.4 1160.5h0M383.7 1151.5h0M373.7 1148.9h0M388.6 1150.8h0M379.8 1146.3h0M363.2 1172.7h0M390.7 1148.1h0M386.6 1170.1h0M364.3 1150.5h0M373.8 1155.6h0M380.1 1162.5h0M368.3 1138.7h0M364.6 1117.4h0M376.1 1147.7h0M377.0 1160.3h0M400.0 1154.6h0M382.3 1167.7h0M387.0 1147.5h0M375.0 1146.0h0M381.7 1129.8h0M369.1 1153.4h0M385.6 1151.7h0M373.4 1138.2h0M366.5 1146.9h0M398.1 1148.7h0M393.5 1166.3h0M370.2 1132.9h0M390.7 1164.9h0M387.9 1141.2h0M384.0 1165.7h0M376.3 1152.2h0M394.5 1141.7h0M382.4 1143.7h0M373.4 1153.4h0M385.4 1139.4h0M363.7 1153.3h0M375.5 1159.0h0M398.7 1137.5h0M400.0 1140.7h0M363.2 1309.6h0M359.3 1275.7h0M354.3 1272.6h0M374.5 1299.0h0M278.0 1244.0h0M355.2 1298.7h0M371.7 1303.7h0M361.7 1267.9h0M359.7 1263.7h0M290.6 1222.5h0M327.3 1247.3h0M334.2 1216.0h0M356.8 1260.7h0M357.4 1256.1h0M360.5 1284.1h0M352.8 1299.6h0M406.2 1317.8h0M360.5 1311.6h0M365.6 1289.2h0M357.2 1272.7h0M376.7 1312.4h0M366.3 1264.3h0M362.4 1277.5h0M397.6 1281.2h0M361.0 1245.5h0M347.1 1271.5h0M349.2 1283.3h0M345.4 1257.6h0M383.8 1292.0h0M362.3 1283.1h0M361.3 1296.3h0M359.9 1309.5h0M400.9 1284.4h0M373.5 1248.7h0M364.3 1314.9h0M387.4 1278.7h0M357.8 1199.6h0M333.8 1245.2h0M342.1 1255.9h0M332.3 1253.1h0M316.5 1233.6h0M360.0 1292.7h0M397.8 1309.1h0M367.3 1277.9h0M354.6 1279.9h0M407.7 1297.7h0M348.5 1277.0h0M372.6 1291.3h0M377.4 1287.9h0M350.3 1295.2h0M362.3 1301.5h0M382.9 1258.8h0M386.4 1272.1h0M357.5 1293.5h0M383.2 1305.2h0M359.3 1291.4h0M376.2 1273.2h0M405.4 1311.4h0M391.2 1300.4h0M368.2 1309.9h0M403.2 1301.9h0M400.2 1300.2h0M350.0 1273.2h0M398.7 1296.4h0M384.4 1312.5h0M386.4 1316.2h0M400.0 1282.5h0M375.2 1285.4h0M426.3 1254.8h0M392.0 1274.1h0M389.1 1264.1h0M393.4 1295.9h0M359.0 1308.5h0M459.1 1164.5h0M463.4 1153.2h0M438.8 1159.1h0M437.2 1156.3h0M457.8 1153.0h0M456.9 1157.2h0M466.9 1163.3h0M447.3 1166.7h0M460.5 1163.4h0M455.4 1161.6h0M443.2 1166.5h0M451.6 1167.0h0M452.3 1165.2h0M452.9 1166.7h0M443.0 1158.2h0M457.0 1151.8h0M445.3 1151.5h0M459.9 1150.5h0M351.7 1214.9h0M461.8 1158.6h0M401.4 1180.6h0M410.3 1190.5h0M511.4 1182.3h0M355.7 1134.7h0M368.5 1249.5h0M384.8 1291.7h0M502.6 1061.3h0M397.7 1149.6h0M459.2 1267.2h0M353.6 1120.3h0M372.8 1147.6h0M382.2 1232.2h0M365.8 1194.3h0M348.8 1224.5h0M426.3 1174.5h0M345.6 1185.0h0M338.8 1236.9h0M354.1 1194.6h0M363.7 1201.2h0M313.3 1210.0h0M325.9 1206.0h0M351.5 1175.3h0M325.7 1205.6h0M353.3 1183.9h0M320.3 1226.2h0M342.9 1186.3h0M358.2 1197.9h0M327.2 1202.0h0M328.5 1230.0h0M383.7 1132.9h0M328.8 1219.5h0M372.6 1194.6h0M338.8 1193.5h0M342.9 1214.9h0M337.2 1230.7h0M344.4 1214.9h0M335.8 1201.4h0M350.8 1204.6h0M362.9 1218.1h0M342.8 1198.3h0M281.0 1213.1h0M378.0 1181.9h0M354.3 1182.5h0M350.6 1205.6h0M337.9 1187.5h0M359.0 1224.6h0M389.8 1160.2h0M355.0 1194.9h0M350.1 1186.3h0M349.7 1202.4h0M341.3 1188.5h0M339.6 1205.2h0M352.6 1205.0h0M388.4 1171.7h0M341.7 1201.7h0M369.7 1184.9h0M347.2 1218.6h0M346.3 1187.1h0M362.9 1180.3h0M320.5 1209.8h0M365.9 1141.6h0M369.1 1156.0h0M343.8 1215.5h0M293.4 1218.9h0M316.2 1205.9h0M324.3 1203.2h0M363.6 1187.8h0M364.9 1158.3h0M366.6 1142.4h0M379.8 1182.2h0M370.3 1163.3h0M343.0 1198.9h0M370.1 1198.2h0M328.6 1201.3h0M359.7 1183.4h0M377.6 1197.8h0M333.7 1189.1h0M352.6 1208.7h0M366.2 1184.7h0M331.7 1207.5h0M357.7 1188.2h0M325.4 1197.7h0M326.3 1207.5h0M319.3 1206.3h0M390.3 1132.0h0M333.3 1195.4h0M336.5 1189.4h0M367.6 1182.9h0M370.5 1219.9h0M344.2 1193.5h0M346.1 1178.7h0M370.8 1182.8h0M356.6 1187.4h0M350.5 1179.6h0M292.2 1201.6h0M347.8 1218.2h0M292.2 1219.2h0M314.8 1239.2h0M350.5 1238.0h0M330.8 1195.2h0M334.9 1224.5h0M293.3 1233.6h0M326.9 1231.3h0M322.2 1249.2h0M328.0 1204.3h0M323.3 1227.4h0M287.9 1229.7h0M316.9 1242.3h0M290.9 1225.2h0M349.3 1277.5h0M317.0 1204.1h0M287.9 1237.2h0M310.7 1236.7h0M294.7 1211.5h0M310.8 1226.1h0M315.8 1214.9h0M325.0 1211.6h0M319.9 1229.8h0M333.9 1199.8h0M324.8 1251.5h0M334.2 1230.1h0M277.3 1246.6h0M333.6 1229.2h0M321.1 1228.6h0M330.6 1196.1h0M318.4 1210.2h0M289.2 1225.4h0M373.0 1215.5h0M314.4 1226.5h0M289.4 1228.3h0M336.7 1222.5h0M276.8 1248.0h0M325.5 1247.4h0M341.5 1238.8h0M312.3 1241.5h0M291.6 1228.0h0M293.0 1230.7h0M310.5 1227.8h0M280.2 1233.0h0M287.8 1218.6h0M320.3 1212.7h0M318.4 1224.4h0M317.6 1217.4h0M319.2 1235.1h0M291.8 1210.1h0M310.1 1234.0h0M324.3 1203.2h0M278.9 1250.2h0M342.8 1217.8h0M326.3 1197.5h0M312.2 1227.5h0M289.5 1221.8h0M322.6 1210.6h0M314.5 1231.1h0M322.1 1217.7h0M277.2 1201.3h0M277.2 1199.6h0M312.4 1233.6h0M319.5 1218.0h0M313.8 1221.6h0M316.7 1216.1h0M320.9 1233.1h0M311.3 1229.8h0M342.8 1218.8h0M295.5 1222.9h0M319.3 1212.0h0M325.9 1224.0h0" stroke="#3a5cff" stroke-opacity="0.85" stroke-width="1.4" stroke-linecap="square"/>
<g filter="url(#jet)">
<rect x="261.9" y="1028" width="293.2" height="304.2" fill="#000"/>
<g filter="url(#nz)">
<path d="M281.9 1144 L287.9 1135 L303.9 1132 L323.9 1131.5 L339.9 1133 L352.9 1137 L360.9 1144 L362.9 1153 L358.9 1164 L349.9 1174 L335.9 1186 L323.9 1195 L313.9 1206 L309.9 1222 L308.9 1240 L317.9 1249 L331.9 1254 L342.9 1262 L347.9 1280 L348.9 1302 L347.9 1330 L263.9 1330 L263.9 1254 L287.9 1248 L295.9 1230 L295.9 1208 L287.9 1188 L282.9 1168 L280.9 1152Z" fill="#fff" fill-opacity="0.13" filter="url(#eb6)"/>
<path d="M277.9 1180 L345.9 1176 L333.9 1205 L325.9 1240 L323.9 1252 L279.9 1252 L277.9 1220Z" fill="#fff" fill-opacity="0.075" filter="url(#eb3)"/>
<path d="M351.9 1138 L381.9 1144 L381.9 1162 L357.9 1174Z" fill="#fff" fill-opacity="0.06" filter="url(#eb3)"/>
<path d="M343.9 1255 L363.9 1270 L361.9 1315 L345.9 1315Z" fill="#fff" fill-opacity="0.04" filter="url(#eb3)"/>
</g>
<path d="M281.9 1144 L287.9 1135 L303.9 1132 L323.9 1131.5 L339.9 1133 L352.9 1137 L360.9 1144 L362.9 1153 L358.9 1164 L349.9 1174 L335.9 1186 L323.9 1195 L313.9 1206 L309.9 1222 L308.9 1240 L317.9 1249 L331.9 1254 L342.9 1262 L347.9 1280 L348.9 1302 L347.9 1330 L263.9 1330 L263.9 1254 L287.9 1248 L295.9 1230 L295.9 1208 L287.9 1188 L282.9 1168 L280.9 1152Z" fill="#333" filter="url(#eb)" style="mix-blend-mode:lighten"/>
<ellipse cx="322.9" cy="1155" rx="27" ry="18" fill="url(#rg)" fill-opacity="0.5"/>
<ellipse cx="313.9" cy="1290" rx="36" ry="31" fill="url(#rg)" fill-opacity="0.8"/>
<ellipse cx="313.9" cy="1290.5" rx="30" ry="14" fill="url(#rg)" fill-opacity="1.0"/>
</g></g>
<rect x="273.9" y="1040" width="269.2" height="280.2" fill="none" stroke="#555" stroke-width="1.3"/>
<path d="M270.9 1250.8h3M270.9 1239.6h3M270.9 1231.6h3M270.9 1225.4h3M270.9 1220.4h3M270.9 1216.1h3M270.9 1212.4h3M270.9 1209.1h3M270.9 1186.9h3M270.9 1175.6h3M270.9 1167.5h3M270.9 1161.3h3M270.9 1156.2h3M270.9 1151.9h3M270.9 1148.2h3M270.9 1144.9h3M270.9 1123.2h3M270.9 1112.3h3M270.9 1104.5h3M270.9 1098.5h3M270.9 1093.5h3M270.9 1089.4h3M270.9 1085.7h3M270.9 1082.6h3M270.9 1060.9h3M270.9 1050h3M270.9 1042.2h3M270.4 1299h3.5M270.4 1296h3.5M270.4 1294.5h3.5M270.4 1293h3.5M270.4 1291.5h3.5M270.4 1290h3.5M270.4 1287h3.5M340.1 1320.2v3M351.1 1320.2v3M358.9 1320.2v3M365 1320.2v3M369.9 1320.2v3M374.1 1320.2v3M377.7 1320.2v3M380.9 1320.2v3M402.4 1320.2v3M413.3 1320.2v3M421.1 1320.2v3M427.1 1320.2v3M432 1320.2v3M436.1 1320.2v3M439.7 1320.2v3M442.9 1320.2v3M463.6 1320.2v3M474.1 1320.2v3M481.6 1320.2v3M487.4 1320.2v3M492.1 1320.2v3M496.1 1320.2v3M499.5 1320.2v3M502.6 1320.2v3M523.2 1320.2v3M533.7 1320.2v3M541.2 1320.2v3M276.2 1320.2v3M278.2 1320.2v3M288.2 1320.2v3M290.2 1320.2v3M292.2 1320.2v3M294.2 1320.2v3M296.2 1320.2v3M298.2 1320.2v3M299.2 1320.2v3M300.2 1320.2v3M301.2 1320.2v3M302.2 1320.2v3M304.2 1320.2v3M306.2 1320.2v3M308.2 1320.2v3M310.2 1320.2v3M312.2 1320.2v3M314.2 1320.2v3M316.2 1320.2v3M318.2 1320.2v3" stroke="#111" stroke-width="1" fill="none"/>
<path d="M267.4 1316h6.5M267.4 1293h6.5M267.4 1270h6.5M267.4 1206.2h6.5M267.4 1142h6.5M267.4 1079.7h6.5M299 1320.2v6M300.2 1320.2v6M301.4 1320.2v6M274.5 1320.2v6M321.3 1320.2v6M383.8 1320.2v6M445.7 1320.2v6M505.3 1320.2v6" stroke="#000" stroke-width="2" fill="none"/>
<text x="265.9" y="1320" font-family="Liberation Sans, Arial, sans-serif" font-weight="700" font-size="11" text-anchor="end">-10<tspan font-size="7" dy="-4.5">3</tspan></text>
<text x="264.9" y="1297" font-family="Liberation Sans, Arial, sans-serif" font-weight="700" font-size="11" text-anchor="end">0</text>
<text x="265.9" y="1274" font-family="Liberation Sans, Arial, sans-serif" font-weight="700" font-size="11" text-anchor="end">10<tspan font-size="7" dy="-4.5">3</tspan></text>
<text x="265.9" y="1210.2" font-family="Liberation Sans, Arial, sans-serif" font-weight="700" font-size="11" text-anchor="end">10<tspan font-size="7" dy="-4.5">4</tspan></text>
<text x="265.9" y="1146" font-family="Liberation Sans, Arial, sans-serif" font-weight="700" font-size="11" text-anchor="end">10<tspan font-size="7" dy="-4.5">5</tspan></text>
<text x="265.9" y="1083.7" font-family="Liberation Sans, Arial, sans-serif" font-weight="700" font-size="11" text-anchor="end">10<tspan font-size="7" dy="-4.5">6</tspan></text>
<text x="300.2" y="1342.2" font-family="Liberation Sans, Arial, sans-serif" font-weight="700" font-size="11" text-anchor="middle">0</text>
<text x="323.3" y="1342.2" font-family="Liberation Sans, Arial, sans-serif" font-weight="700" font-size="11" text-anchor="middle">10<tspan font-size="7" dy="-4.5">3</tspan></text>
<text x="385.8" y="1342.2" font-family="Liberation Sans, Arial, sans-serif" font-weight="700" font-size="11" text-anchor="middle">10<tspan font-size="7" dy="-4.5">4</tspan></text>
<text x="447.7" y="1342.2" font-family="Liberation Sans, Arial, sans-serif" font-weight="700" font-size="11" text-anchor="middle">10<tspan font-size="7" dy="-4.5">5</tspan></text>
<text x="507.3" y="1342.2" font-family="Liberation Sans, Arial, sans-serif" font-weight="700" font-size="11" text-anchor="middle">10<tspan font-size="7" dy="-4.5">6</tspan></text>
<rect x="418.3" y="1129.3" width="92.2" height="81.8" fill="none" stroke="#111" stroke-width="2.2"/>
<text x="302.7" y="1102" font-family="Liberation Sans, Arial, sans-serif" font-size="15" textLength="211.3" lengthAdjust="spacingAndGlyphs">% CD8 multimer (LTD)+ cells</text>
<text x="427.6" y="1238" font-family="Liberation Sans, Arial, sans-serif" font-size="22" textLength="83.2" lengthAdjust="spacingAndGlyphs">0.021%</text>
<text transform="translate(240.6,1257.7) rotate(-90)" font-family="Liberation Sans, Arial, sans-serif" font-weight="700" font-size="16" textLength="110.1" lengthAdjust="spacingAndGlyphs">CD8 BUV805-A</text>
<text x="332.1" y="1360" font-family="Liberation Sans, Arial, sans-serif" font-size="16" font-weight="700" textLength="147" lengthAdjust="spacingAndGlyphs">CD8-Tetramer PE-A</text>
<clipPath id="cp1"><rect x="605.3" y="1039.2" width="269.1" height="279.6"/></clipPath>
<g clip-path="url(#cp1)">
<path d="M660.2 1110.4h0M724.2 1180.0h0M664.0 1132.3h0M650.5 1119.8h0M708.4 1137.8h0M620.6 1124.4h0M723.9 1123.4h0M732.7 1159.6h0M707.3 1186.1h0M698.4 1167.0h0M691.7 1132.7h0M705.3 1155.2h0M721.2 1136.0h0M609.6 1189.2h0M711.4 1158.6h0M722.4 1181.1h0M654.3 1201.5h0M607.9 1153.8h0M636.3 1115.2h0M681.5 1188.7h0M712.1 1124.5h0M718.2 1179.1h0M609.6 1159.8h0M729.6 1171.2h0M664.2 1128.8h0M619.5 1120.8h0M644.1 1123.1h0M732.0 1118.9h0M734.7 1186.5h0M623.8 1130.7h0M640.9 1108.2h0M661.2 1129.2h0M711.6 1184.3h0M652.4 1133.7h0M621.6 1098.2h0M713.0 1165.3h0M609.3 1192.2h0M706.2 1152.7h0M689.4 1113.0h0M700.2 1133.9h0M719.5 1152.9h0M662.6 1124.9h0M704.2 1169.0h0M725.7 1175.1h0M716.7 1175.2h0M608.8 1139.7h0M678.5 1135.9h0M703.1 1156.6h0M618.3 1122.7h0M728.8 1136.8h0M709.0 1178.7h0M606.1 1147.2h0M743.8 1144.8h0M662.7 1125.8h0M644.3 1116.0h0M753.9 1131.7h0M645.2 1118.9h0M635.9 1127.1h0M634.1 1133.8h0M654.6 1116.8h0M708.6 1114.5h0M618.4 1120.6h0M732.7 1137.8h0M703.5 1159.4h0M693.6 1097.9h0M706.4 1157.9h0M619.2 1109.8h0M606.3 1161.5h0M658.0 1204.8h0M695.2 1173.6h0M693.0 1118.5h0M636.5 1123.3h0M668.2 1133.3h0M694.1 1129.8h0M639.7 1121.0h0M687.3 1127.7h0M613.4 1129.5h0M682.2 1131.0h0M698.7 1120.9h0M701.6 1192.1h0M611.8 1164.3h0M657.1 1123.3h0M618.2 1186.8h0M703.3 1181.9h0M719.0 1176.0h0M637.5 1109.8h0M688.9 1187.3h0M616.4 1182.3h0M740.4 1119.4h0M687.8 1128.3h0M651.3 1122.8h0M613.5 1199.3h0M700.5 1173.4h0M723.4 1159.9h0M613.9 1180.6h0M742.9 1150.9h0M665.4 1201.6h0M682.9 1115.8h0M651.3 1123.0h0M699.1 1182.8h0M613.5 1203.2h0M737.5 1146.8h0M662.0 1108.8h0M719.9 1152.1h0M719.2 1154.3h0M710.8 1160.1h0M717.0 1140.8h0M729.2 1162.1h0M703.4 1166.8h0M710.5 1146.2h0M709.6 1150.6h0M721.3 1155.9h0M734.7 1147.8h0M732.8 1174.3h0M712.7 1164.1h0M752.3 1163.7h0M721.5 1182.2h0M701.8 1154.4h0M736.3 1158.1h0M709.0 1148.3h0M716.6 1142.5h0M719.8 1139.1h0M733.9 1152.7h0M691.1 1173.9h0M712.6 1164.7h0M703.0 1177.9h0M721.7 1149.9h0M705.5 1153.8h0M720.1 1170.2h0M728.2 1140.0h0M737.1 1169.4h0M711.4 1145.8h0M701.4 1139.1h0M729.1 1154.0h0M713.9 1135.1h0M716.6 1176.4h0M703.0 1166.2h0M708.3 1160.2h0M718.2 1168.7h0M716.8 1145.1h0M724.6 1162.5h0M725.0 1159.2h0M731.4 1159.5h0M706.5 1141.3h0M719.6 1150.9h0M714.7 1156.3h0M700.2 1134.4h0M702.7 1132.2h0M719.3 1161.3h0M708.8 1172.4h0M721.7 1148.2h0M735.8 1161.2h0M706.6 1181.6h0M728.6 1150.9h0M708.0 1119.3h0M712.5 1163.8h0M702.4 1153.7h0M718.3 1152.1h0M711.7 1158.6h0M746.4 1144.3h0M738.2 1138.9h0M693.9 1132.0h0M732.3 1163.4h0M710.7 1179.3h0M705.9 1155.9h0M705.6 1139.6h0M704.4 1171.2h0M705.1 1150.4h0M712.7 1150.2h0M700.4 1137.8h0M718.9 1243.4h0M688.9 1220.9h0M691.0 1286.1h0M666.1 1235.2h0M708.1 1270.0h0M707.7 1280.0h0M678.8 1275.8h0M695.8 1308.1h0M675.6 1311.1h0M677.4 1254.2h0M646.8 1244.5h0M680.4 1258.9h0M674.4 1257.2h0M714.4 1269.8h0M684.4 1238.0h0M681.1 1214.4h0M717.6 1301.8h0M675.7 1306.9h0M680.1 1291.9h0M694.2 1292.8h0M679.7 1257.9h0M667.3 1253.4h0M677.0 1264.7h0M675.1 1281.4h0M685.8 1261.1h0M667.3 1251.0h0M738.5 1294.5h0M703.2 1293.4h0M668.9 1254.0h0M725.6 1294.3h0M683.2 1310.7h0M702.5 1302.7h0M685.4 1307.8h0M650.1 1247.7h0M688.0 1289.6h0M649.9 1212.4h0M657.6 1206.4h0M686.1 1196.4h0M685.4 1227.2h0M718.7 1295.2h0M707.2 1270.4h0M718.2 1265.1h0M709.8 1316.7h0M724.9 1268.4h0M707.2 1258.7h0M699.4 1285.4h0M684.5 1291.1h0M699.9 1300.9h0M701.9 1295.1h0M685.6 1281.9h0M698.9 1264.1h0M708.5 1289.4h0M679.5 1314.7h0M691.9 1313.1h0M707.9 1277.9h0M710.9 1273.1h0M697.9 1265.3h0M681.8 1276.2h0M696.5 1285.3h0M707.3 1294.9h0M690.9 1264.4h0M678.9 1272.7h0M701.9 1291.7h0M714.8 1306.1h0M679.7 1274.1h0M692.8 1272.5h0M700.3 1255.0h0M700.2 1305.8h0M696.9 1272.0h0M689.0 1292.4h0M711.5 1300.6h0M692.5 1306.2h0M679.5 1274.3h0M702.7 1279.6h0M714.4 1272.6h0M688.3 1295.4h0M681.3 1285.1h0M715.0 1261.2h0M696.0 1286.7h0M699.8 1264.5h0M697.6 1278.0h0M799.1 1150.8h0M784.5 1151.1h0M797.4 1152.4h0M782.2 1151.5h0M790.9 1162.1h0M795.4 1166.2h0M791.9 1147.5h0M782.4 1165.5h0M800.1 1155.7h0M790.1 1149.9h0M791.5 1141.1h0M783.0 1167.5h0M790.2 1143.7h0M792.6 1159.6h0M800.3 1150.9h0M800.8 1152.1h0M791.3 1153.8h0M797.2 1162.5h0M789.6 1151.7h0M803.8 1154.1h0M795.9 1156.1h0M799.6 1150.6h0M785.8 1158.5h0M791.7 1150.1h0M796.0 1157.5h0M808.3 1149.9h0M792.1 1147.3h0M797.8 1145.0h0M788.2 1159.3h0M793.7 1162.1h0M796.4 1155.1h0M788.0 1138.7h0M791.8 1156.7h0M785.5 1148.3h0M809.4 1154.3h0M795.7 1165.2h0M788.5 1155.8h0M789.2 1157.2h0M790.2 1161.5h0M780.3 1154.2h0M794.3 1153.0h0M800.5 1143.4h0M793.5 1151.5h0M785.2 1159.3h0M803.2 1145.5h0M798.9 1160.6h0M799.7 1145.1h0M788.5 1160.1h0M786.8 1161.2h0M797.1 1153.0h0M801.9 1159.4h0M785.5 1157.3h0M799.8 1146.0h0M794.5 1157.8h0M784.3 1150.4h0M801.1 1151.4h0M787.7 1156.1h0M790.3 1160.3h0M805.9 1158.7h0M791.8 1158.8h0M798.8 1160.8h0M795.2 1153.5h0M789.7 1147.0h0M787.3 1154.1h0M775.2 1148.1h0M777.6 1149.3h0M785.9 1158.1h0M787.3 1162.3h0M792.5 1151.2h0M789.7 1159.6h0M792.6 1151.9h0M788.6 1149.0h0M801.8 1144.4h0M796.1 1157.5h0M792.6 1152.9h0M793.8 1158.6h0M801.9 1139.6h0M784.4 1158.1h0M781.3 1147.2h0M807.5 1152.4h0M784.9 1146.3h0M794.7 1151.0h0M795.2 1147.8h0M800.3 1149.8h0M795.4 1153.9h0M797.9 1150.5h0M789.7 1155.1h0M788.9 1154.9h0M800.2 1160.2h0M792.7 1150.6h0M784.0 1154.3h0M769.4 1173.8h0M768.2 1161.0h0M773.0 1156.9h0M746.0 1175.6h0M771.6 1165.3h0M766.8 1174.1h0M754.1 1163.2h0M755.9 1165.7h0M764.6 1162.7h0M762.9 1160.9h0M761.5 1163.3h0M764.0 1163.6h0M742.8 1176.3h0M768.3 1171.5h0M773.5 1167.0h0M762.5 1174.8h0M782.0 1155.2h0M762.1 1169.9h0M783.4 1133.2h0M769.4 1163.8h0M774.6 1159.2h0M775.9 1174.5h0M775.6 1150.1h0M774.8 1158.6h0M771.9 1167.8h0M758.9 1148.3h0M771.7 1174.5h0M755.7 1178.6h0M777.8 1170.5h0M772.5 1156.1h0M765.6 1175.2h0M770.6 1164.2h0M764.1 1170.3h0M768.1 1176.0h0M767.8 1168.0h0M760.7 1175.0h0M772.1 1179.0h0M766.5 1171.9h0M768.5 1156.0h0M742.2 1177.9h0M744.7 1174.3h0M757.2 1163.6h0M777.5 1154.3h0M739.7 1177.7h0M707.2 1184.6h0M854.9 1218.4h0M834.9 1267.9h0M771.9 1121.6h0M798.8 1176.3h0M804.2 1249.5h0M722.9 1285.0h0M695.6 1253.7h0M760.1 1270.3h0M753.1 1145.7h0M800.8 1155.7h0M711.4 1153.9h0M670.8 1070.0h0M843.8 1198.6h0M758.0 1158.8h0M756.4 1098.4h0M856.7 1299.5h0M825.8 1315.4h0M783.1 1195.7h0M754.1 1121.4h0M662.9 1191.6h0M658.4 1202.6h0M645.1 1209.8h0M686.8 1220.6h0M693.2 1185.6h0M659.8 1200.5h0M674.5 1196.9h0M672.7 1203.7h0M682.8 1195.8h0M656.3 1218.1h0M687.5 1206.2h0M646.4 1226.2h0M668.7 1213.8h0M649.4 1217.8h0M624.2 1203.1h0M662.4 1194.5h0M704.4 1170.0h0M705.7 1143.5h0M680.3 1180.9h0M624.7 1131.5h0M693.7 1180.7h0M657.0 1192.6h0M706.6 1174.1h0M689.7 1225.9h0M706.9 1170.2h0M707.2 1210.7h0M694.7 1217.4h0M701.0 1154.1h0M646.4 1207.9h0M647.3 1233.1h0M688.7 1227.6h0M709.9 1181.8h0M698.7 1164.2h0M654.0 1196.9h0M653.0 1213.4h0M683.3 1235.0h0M690.2 1179.1h0M672.4 1197.5h0M689.0 1186.4h0M708.9 1182.4h0M695.1 1171.3h0M666.8 1190.3h0M663.8 1191.5h0M672.8 1198.3h0M668.5 1205.2h0M688.7 1179.2h0M668.9 1202.3h0M698.1 1180.2h0M687.0 1182.5h0M653.6 1207.4h0M681.1 1198.4h0M684.7 1195.2h0M652.4 1207.9h0M672.9 1216.8h0M663.3 1189.8h0M672.8 1197.2h0M674.0 1200.6h0M663.3 1204.3h0M701.7 1183.3h0M662.4 1204.9h0M651.3 1244.1h0M657.3 1204.7h0M683.3 1213.3h0M693.3 1208.5h0M684.2 1193.6h0M651.2 1202.1h0M623.3 1200.5h0M667.2 1188.6h0M676.9 1215.9h0M684.6 1190.3h0M673.7 1213.8h0M660.5 1198.5h0M662.5 1206.0h0M685.9 1217.1h0M688.5 1237.8h0M614.4 1213.8h0M616.7 1194.5h0M655.0 1203.3h0M652.9 1216.6h0M661.4 1207.2h0M670.8 1212.7h0M667.3 1237.0h0M694.8 1230.2h0M611.3 1176.9h0M647.7 1244.9h0M610.3 1216.4h0M658.2 1230.8h0M623.6 1219.4h0M619.6 1212.9h0M644.2 1235.1h0M644.9 1227.2h0M620.0 1242.2h0M616.3 1243.2h0M648.7 1247.7h0M656.9 1237.3h0M648.9 1214.8h0M657.9 1214.0h0M658.4 1243.0h0M671.4 1223.4h0M671.8 1231.3h0M643.9 1221.7h0M643.6 1228.6h0M606.6 1213.4h0M660.6 1220.9h0M662.1 1188.8h0M609.2 1193.7h0M659.8 1245.2h0M620.2 1235.6h0M611.2 1234.6h0M620.3 1215.7h0M642.6 1218.7h0M656.5 1253.2h0M661.6 1225.7h0M645.0 1214.3h0M624.1 1209.1h0M645.0 1240.5h0M607.7 1181.4h0M651.7 1210.6h0M671.2 1230.8h0M656.6 1199.4h0M669.1 1200.9h0M616.0 1208.5h0M626.3 1236.4h0M612.6 1214.4h0M673.7 1191.8h0M620.3 1209.5h0M619.7 1207.1h0M625.0 1226.6h0M620.5 1238.7h0M621.1 1229.1h0M618.0 1233.0h0M614.8 1199.7h0M643.1 1231.6h0M653.8 1221.2h0M666.2 1209.1h0M716.9 1233.8h0M656.0 1207.0h0M660.5 1211.2h0M659.3 1236.9h0M616.6 1242.2h0M611.7 1229.6h0M646.5 1225.9h0M663.0 1201.8h0M680.7 1246.0h0M625.0 1214.8h0M647.6 1211.3h0M622.3 1220.9h0M646.2 1238.3h0M657.7 1205.8h0M620.4 1206.5h0M618.5 1244.3h0M621.2 1212.5h0M656.2 1224.2h0" stroke="#3a5cff" stroke-opacity="0.85" stroke-width="1.4" stroke-linecap="square"/>
<g filter="url(#jet)">
<rect x="593.3" y="1027.2" width="293.1" height="303.6" fill="#000"/>
<g filter="url(#nz)">
<path d="M612.3 1145.2 L617.3 1137.2 L635.3 1134.2 L660.3 1134.2 L680.3 1136.2 L694.3 1141.2 L701.3 1150.2 L700.3 1161.2 L693.3 1170.2 L679.3 1179.2 L661.3 1189.2 L649.3 1197.2 L643.3 1211.2 L641.3 1229.2 L641.3 1244.2 L649.3 1251.2 L663.3 1256.2 L672.3 1265.2 L675.3 1284.2 L675.3 1329.2 L595.3 1329.2 L595.3 1257.2 L619.3 1251.2 L627.3 1234.2 L627.3 1211.2 L621.3 1191.2 L614.3 1174.2 L611.3 1159.2Z" fill="#fff" fill-opacity="0.13" filter="url(#eb6)"/>
<path d="M609.3 1179.2 L685.3 1175.2 L667.3 1204.2 L657.3 1239.2 L655.3 1253.2 L611.3 1253.2 L609.3 1219.2Z" fill="#fff" fill-opacity="0.075" filter="url(#eb3)"/>
<path d="M693.3 1139.2 L717.3 1145.2 L717.3 1164.2 L695.3 1173.2Z" fill="#fff" fill-opacity="0.06" filter="url(#eb3)"/>
<path d="M671.3 1254.2 L691.3 1269.2 L689.3 1314.2 L673.3 1314.2Z" fill="#fff" fill-opacity="0.04" filter="url(#eb3)"/>
</g>
<path d="M612.3 1145.2 L617.3 1137.2 L635.3 1134.2 L660.3 1134.2 L680.3 1136.2 L694.3 1141.2 L701.3 1150.2 L700.3 1161.2 L693.3 1170.2 L679.3 1179.2 L661.3 1189.2 L649.3 1197.2 L643.3 1211.2 L641.3 1229.2 L641.3 1244.2 L649.3 1251.2 L663.3 1256.2 L672.3 1265.2 L675.3 1284.2 L675.3 1329.2 L595.3 1329.2 L595.3 1257.2 L619.3 1251.2 L627.3 1234.2 L627.3 1211.2 L621.3 1191.2 L614.3 1174.2 L611.3 1159.2Z" fill="#333" filter="url(#eb)" style="mix-blend-mode:lighten"/>
<ellipse cx="651" cy="1155.9" rx="26" ry="19" fill="url(#rg)" fill-opacity="0.45"/>
<ellipse cx="642" cy="1289.8" rx="32" ry="31" fill="url(#rg)" fill-opacity="0.78"/>
<ellipse cx="642" cy="1289.8" rx="18" ry="11" fill="url(#rg)" fill-opacity="1.0"/>
</g></g>
<rect x="605.3" y="1039.2" width="269.1" height="279.6" fill="none" stroke="#555" stroke-width="1.3"/>
<path d="M602.3 1249.5h3M602.3 1238.3h3M602.3 1230.4h3M602.3 1224.2h3M602.3 1219.2h3M602.3 1214.9h3M602.3 1211.2h3M602.3 1208h3M602.3 1185.8h3M602.3 1174.5h3M602.3 1166.5h3M602.3 1160.3h3M602.3 1155.2h3M602.3 1150.9h3M602.3 1147.2h3M602.3 1143.9h3M602.3 1122.3h3M602.3 1111.3h3M602.3 1103.6h3M602.3 1097.5h3M602.3 1092.6h3M602.3 1088.4h3M602.3 1084.8h3M602.3 1081.7h3M602.3 1060.1h3M602.3 1049.2h3M602.3 1041.4h3M601.8 1297.6h3.5M601.8 1294.7h3.5M601.8 1293.2h3.5M601.8 1291.7h3.5M601.8 1290.2h3.5M601.8 1288.7h3.5M601.8 1285.7h3.5M671.5 1318.8v3M682.5 1318.8v3M690.3 1318.8v3M696.4 1318.8v3M701.3 1318.8v3M705.5 1318.8v3M709.1 1318.8v3M712.3 1318.8v3M733.8 1318.8v3M744.7 1318.8v3M752.4 1318.8v3M758.4 1318.8v3M763.3 1318.8v3M767.5 1318.8v3M771 1318.8v3M774.2 1318.8v3M795 1318.8v3M805.5 1318.8v3M812.9 1318.8v3M818.7 1318.8v3M823.4 1318.8v3M827.4 1318.8v3M830.8 1318.8v3M833.9 1318.8v3M854.5 1318.8v3M865 1318.8v3M872.5 1318.8v3M607.6 1318.8v3M609.6 1318.8v3M619.6 1318.8v3M621.6 1318.8v3M623.6 1318.8v3M625.6 1318.8v3M627.6 1318.8v3M629.6 1318.8v3M630.6 1318.8v3M631.6 1318.8v3M632.6 1318.8v3M633.6 1318.8v3M635.6 1318.8v3M637.6 1318.8v3M639.6 1318.8v3M641.6 1318.8v3M643.6 1318.8v3M645.6 1318.8v3M647.6 1318.8v3M649.6 1318.8v3" stroke="#111" stroke-width="1" fill="none"/>
<path d="M598.8 1314.6h6.5M598.8 1291.7h6.5M598.8 1268.7h6.5M598.8 1205h6.5M598.8 1141h6.5M598.8 1078.8h6.5M630.4 1318.8v6M631.6 1318.8v6M632.8 1318.8v6M605.9 1318.8v6M652.7 1318.8v6M715.2 1318.8v6M777 1318.8v6M836.6 1318.8v6" stroke="#000" stroke-width="2" fill="none"/>
<text x="597.3" y="1318.6" font-family="Liberation Sans, Arial, sans-serif" font-weight="700" font-size="11" text-anchor="end">-10<tspan font-size="7" dy="-4.5">3</tspan></text>
<text x="596.3" y="1295.7" font-family="Liberation Sans, Arial, sans-serif" font-weight="700" font-size="11" text-anchor="end">0</text>
<text x="597.3" y="1272.7" font-family="Liberation Sans, Arial, sans-serif" font-weight="700" font-size="11" text-anchor="end">10<tspan font-size="7" dy="-4.5">3</tspan></text>
<text x="597.3" y="1209" font-family="Liberation Sans, Arial, sans-serif" font-weight="700" font-size="11" text-anchor="end">10<tspan font-size="7" dy="-4.5">4</tspan></text>
<text x="597.3" y="1145" font-family="Liberation Sans, Arial, sans-serif" font-weight="700" font-size="11" text-anchor="end">10<tspan font-size="7" dy="-4.5">5</tspan></text>
<text x="597.3" y="1082.8" font-family="Liberation Sans, Arial, sans-serif" font-weight="700" font-size="11" text-anchor="end">10<tspan font-size="7" dy="-4.5">6</tspan></text>
<text x="631.6" y="1340.8" font-family="Liberation Sans, Arial, sans-serif" font-weight="700" font-size="11" text-anchor="middle">0</text>
<text x="654.7" y="1340.8" font-family="Liberation Sans, Arial, sans-serif" font-weight="700" font-size="11" text-anchor="middle">10<tspan font-size="7" dy="-4.5">3</tspan></text>
<text x="717.2" y="1340.8" font-family="Liberation Sans, Arial, sans-serif" font-weight="700" font-size="11" text-anchor="middle">10<tspan font-size="7" dy="-4.5">4</tspan></text>
<text x="779" y="1340.8" font-family="Liberation Sans, Arial, sans-serif" font-weight="700" font-size="11" text-anchor="middle">10<tspan font-size="7" dy="-4.5">5</tspan></text>
<text x="838.6" y="1340.8" font-family="Liberation Sans, Arial, sans-serif" font-weight="700" font-size="11" text-anchor="middle">10<tspan font-size="7" dy="-4.5">6</tspan></text>
<rect x="749.6" y="1128.2" width="92.1" height="81.9" fill="none" stroke="#111" stroke-width="2.2"/>
<text x="635" y="1101" font-family="Liberation Sans, Arial, sans-serif" font-size="15" textLength="211.5" lengthAdjust="spacingAndGlyphs">% CD8 multimer (LTD)+ cells</text>
<text x="765.2" y="1238" font-family="Liberation Sans, Arial, sans-serif" font-size="22" textLength="69.5" lengthAdjust="spacingAndGlyphs">0.25%</text>
<text transform="translate(571.5,1250) rotate(-90)" font-family="Liberation Sans, Arial, sans-serif" font-weight="700" font-size="16" textLength="109" lengthAdjust="spacingAndGlyphs">CD8 BUV805-A</text>
<text x="667.5" y="1359" font-family="Liberation Sans, Arial, sans-serif" font-size="16" font-weight="700" textLength="146.5" lengthAdjust="spacingAndGlyphs">CD8-Tetramer PE-A</text>
<clipPath id="cp2"><rect x="935.5" y="1036.8" width="268.9" height="277.9"/></clipPath>
<g clip-path="url(#cp2)">
<path d="M941.9 1143.7h0M941.9 1187.8h0M955.0 1132.7h0M1004.6 1146.0h0M970.9 1135.1h0M1033.8 1196.0h0M981.0 1123.6h0M1022.4 1153.6h0M942.6 1200.6h0M968.5 1124.6h0M1010.8 1192.6h0M1022.9 1135.5h0M1024.2 1178.5h0M1065.0 1152.8h0M1028.6 1115.0h0M982.7 1129.4h0M950.5 1131.1h0M1022.7 1122.5h0M1027.3 1192.7h0M986.7 1136.0h0M947.5 1130.5h0M1029.8 1140.4h0M1002.7 1202.7h0M984.7 1144.2h0M1047.7 1209.7h0M945.7 1192.3h0M1031.8 1172.5h0M994.4 1111.9h0M1011.4 1196.5h0M1002.1 1201.2h0M1003.0 1194.5h0M1014.3 1136.9h0M1067.9 1151.8h0M940.0 1120.4h0M1023.0 1184.8h0M1052.0 1201.8h0M1010.4 1222.8h0M993.6 1118.6h0M1029.4 1187.6h0M1030.8 1185.4h0M1021.8 1147.4h0M1019.3 1131.4h0M1009.4 1193.1h0M993.5 1132.0h0M949.6 1137.6h0M941.9 1185.0h0M1018.1 1149.5h0M1006.3 1136.2h0M1074.7 1165.2h0M1004.6 1144.9h0M1003.2 1196.0h0M1024.6 1189.3h0M935.8 1153.4h0M973.2 1125.4h0M1048.2 1187.1h0M951.0 1150.0h0M947.8 1145.4h0M948.7 1206.7h0M1009.1 1152.3h0M939.6 1126.9h0M938.8 1151.7h0M1022.3 1188.1h0M997.0 1138.8h0M1041.2 1240.2h0M947.5 1154.1h0M941.4 1171.5h0M945.7 1136.1h0M1019.6 1181.2h0M942.2 1172.4h0M954.1 1131.1h0M1000.0 1142.2h0M944.9 1148.2h0M945.1 1161.1h0M940.7 1190.8h0M943.9 1163.4h0M1046.5 1180.3h0M997.1 1234.1h0M1038.2 1172.2h0M955.2 1143.1h0M1009.3 1137.2h0M981.8 1139.3h0M1031.1 1170.4h0M970.8 1133.5h0M950.2 1145.4h0M1008.0 1205.5h0M935.7 1164.6h0M948.8 1126.2h0M956.7 1101.5h0M1005.8 1193.5h0M1036.6 1166.9h0M1022.4 1187.7h0M1022.0 1131.6h0M1038.8 1160.9h0M1043.1 1156.3h0M1065.1 1166.6h0M1065.0 1160.7h0M1045.4 1161.0h0M1045.0 1164.4h0M1068.4 1169.1h0M1058.4 1156.2h0M1044.2 1145.5h0M1030.3 1151.5h0M1056.9 1162.0h0M1056.5 1160.0h0M1050.5 1178.1h0M1056.0 1160.4h0M1048.7 1164.7h0M1065.2 1172.9h0M1027.3 1175.9h0M1037.8 1165.3h0M1036.9 1174.6h0M1049.4 1177.8h0M1040.5 1172.4h0M1054.8 1177.7h0M1044.1 1153.5h0M1052.8 1170.8h0M1078.6 1162.9h0M1060.6 1173.3h0M1051.9 1155.0h0M1043.3 1170.4h0M1025.9 1176.2h0M1020.5 1156.8h0M1044.3 1172.6h0M1041.4 1160.4h0M1071.9 1144.0h0M1049.7 1160.3h0M1053.7 1150.5h0M1049.0 1144.5h0M1045.4 1174.4h0M1075.9 1174.8h0M1048.0 1149.9h0M1066.5 1183.0h0M1041.0 1168.1h0M1058.2 1177.7h0M1039.5 1178.0h0M1024.5 1180.1h0M1036.5 1168.5h0M1062.3 1174.1h0M1041.6 1192.1h0M1035.6 1146.0h0M1069.6 1156.4h0M1037.4 1171.4h0M1031.0 1174.7h0M1031.3 1158.6h0M1072.5 1153.4h0M1037.2 1159.7h0M1032.0 1171.6h0M1032.2 1172.1h0M1050.2 1159.8h0M1044.1 1186.8h0M1011.8 1153.2h0M1036.0 1173.0h0M1060.1 1168.6h0M1050.9 1162.5h0M1053.4 1173.0h0M1042.6 1174.5h0M1034.4 1169.4h0M1038.3 1161.7h0M1049.9 1195.1h0M1056.8 1167.0h0M1050.7 1160.9h0M1036.9 1156.8h0M1049.9 1158.5h0M1056.9 1173.7h0M1031.8 1167.9h0M1057.5 1171.2h0M1041.6 1164.3h0M1001.6 1200.3h0M1028.6 1217.1h0M1011.6 1200.5h0M1024.5 1288.6h0M1013.7 1232.6h0M1014.2 1238.4h0M1018.0 1229.0h0M1013.8 1257.3h0M1016.5 1201.9h0M997.9 1238.4h0M1040.8 1260.8h0M997.6 1224.9h0M1005.1 1233.2h0M1013.9 1250.8h0M1031.9 1252.8h0M1040.3 1244.7h0M1024.9 1216.7h0M1019.6 1222.1h0M997.5 1227.6h0M1042.8 1197.6h0M1017.1 1215.9h0M995.9 1236.2h0M1030.6 1206.7h0M1018.8 1206.1h0M1008.2 1189.0h0M1004.7 1231.7h0M1007.0 1233.6h0M997.4 1211.9h0M1010.0 1249.4h0M1003.3 1216.6h0M1027.7 1219.5h0M1017.1 1236.9h0M1035.3 1207.9h0M1018.3 1206.2h0M1003.1 1217.4h0M1012.5 1246.2h0M997.5 1246.2h0M1000.6 1208.8h0M1039.1 1221.8h0M1006.3 1253.7h0M1013.4 1240.6h0M1010.3 1218.6h0M1020.8 1181.0h0M1024.5 1257.8h0M1014.7 1183.6h0M1027.7 1226.6h0M1022.0 1235.7h0M1005.5 1226.3h0M1000.0 1211.8h0M999.4 1223.3h0M1037.2 1212.5h0M1005.3 1239.1h0M1006.1 1233.8h0M1003.4 1222.3h0M1007.2 1201.5h0M1001.4 1240.6h0M1010.5 1212.2h0M1012.3 1184.6h0M1032.6 1253.1h0M1037.7 1205.9h0M1006.6 1238.9h0M997.0 1226.7h0M996.2 1236.5h0M995.2 1225.2h0M1012.7 1194.1h0M997.4 1211.1h0M1018.3 1205.7h0M1011.1 1221.6h0M1040.7 1209.5h0M1032.1 1237.5h0M1007.0 1234.6h0M1007.4 1257.9h0M1005.1 1239.2h0M1009.1 1203.4h0M1027.7 1227.6h0M1000.3 1198.4h0M995.1 1220.9h0M1032.0 1215.5h0M1015.4 1215.5h0M1019.8 1222.4h0M1014.3 1239.8h0M995.7 1233.5h0M994.0 1233.4h0M996.2 1220.0h0M1003.1 1249.7h0M1044.4 1187.2h0M1004.1 1223.4h0M1008.9 1193.6h0M1013.9 1283.7h0M1018.9 1284.1h0M1001.6 1246.3h0M936.2 1308.1h0M1039.6 1277.9h0M940.7 1269.0h0M1046.2 1294.9h0M999.5 1239.4h0M1031.3 1281.8h0M1011.3 1311.5h0M1006.5 1263.9h0M1007.1 1226.0h0M999.5 1241.5h0M1003.9 1259.5h0M1011.0 1274.9h0M947.0 1230.5h0M1012.5 1290.2h0M1049.6 1240.0h0M1007.6 1305.0h0M1009.1 1245.2h0M1034.4 1292.1h0M1049.2 1207.4h0M995.4 1220.5h0M1028.0 1246.6h0M1031.7 1244.6h0M946.2 1245.6h0M1015.1 1248.3h0M936.0 1292.0h0M1015.6 1250.0h0M995.8 1218.0h0M948.8 1228.5h0M1001.1 1224.9h0M1002.0 1236.4h0M941.4 1262.6h0M1019.4 1286.6h0M1025.4 1225.0h0M1006.1 1227.2h0M1078.7 1262.2h0M940.8 1229.0h0M1004.4 1244.6h0M1013.9 1275.4h0M1003.1 1245.5h0M1024.4 1248.6h0M1025.7 1282.6h0M1018.5 1268.7h0M1005.9 1258.3h0M1020.6 1277.7h0M1022.8 1287.2h0M1017.3 1260.0h0M1016.1 1301.2h0M1016.2 1281.7h0M1021.6 1237.8h0M1013.2 1273.8h0M1024.4 1267.1h0M1018.2 1257.7h0M1009.2 1308.3h0M1024.4 1281.9h0M1019.2 1253.3h0M1007.5 1285.6h0M1018.8 1312.6h0M1009.8 1257.5h0M1000.7 1253.9h0M1027.2 1304.6h0M1015.4 1305.2h0M1032.8 1258.7h0M1017.1 1294.8h0M1007.1 1284.9h0M1007.9 1264.1h0M1019.7 1272.9h0M1015.3 1273.0h0M1000.6 1242.9h0M1023.2 1276.6h0M1008.9 1286.9h0M1011.5 1259.4h0M1027.2 1296.2h0M1068.5 1169.6h0M1081.0 1167.2h0M1087.4 1159.2h0M1084.8 1178.0h0M1088.4 1163.0h0M1080.2 1166.0h0" stroke="#3a5cff" stroke-opacity="0.85" stroke-width="1.4" stroke-linecap="square"/>
<g filter="url(#jet)">
<rect x="923.5" y="1024.8" width="292.9" height="301.9" fill="#000"/>
<g filter="url(#nz)">
<path d="M943.5 1166.8 L949.5 1152.8 L961.5 1145.8 L980.5 1143.8 L997.5 1146.8 L1007.5 1152.8 L1021.5 1159.8 L1031.5 1165.8 L1029.5 1172.8 L1018.5 1178.8 L1009.5 1185.8 L999.5 1197.8 L995.5 1212.8 L993.5 1232.8 L998.5 1251.8 L1004.5 1266.8 L1007.5 1288.8 L1006.5 1326.8 L947.5 1326.8 L941.5 1298.8 L939.5 1276.8 L944.5 1251.8 L950.5 1231.8 L950.5 1206.8 L944.5 1186.8Z" fill="#fff" fill-opacity="0.13" filter="url(#eb6)"/>
<path d="M995.5 1148.8 L1055.5 1161.8 L1053.5 1176.8 L1005.5 1186.8Z" fill="#fff" fill-opacity="0.06" filter="url(#eb3)"/>
<path d="M990.5 1186.8 L1025.5 1186.8 L1015.5 1236.8 L1010.5 1276.8 L993.5 1266.8Z" fill="#fff" fill-opacity="0.06" filter="url(#eb3)"/>
</g>
<path d="M943.5 1166.8 L949.5 1152.8 L961.5 1145.8 L980.5 1143.8 L997.5 1146.8 L1007.5 1152.8 L1021.5 1159.8 L1031.5 1165.8 L1029.5 1172.8 L1018.5 1178.8 L1009.5 1185.8 L999.5 1197.8 L995.5 1212.8 L993.5 1232.8 L998.5 1251.8 L1004.5 1266.8 L1007.5 1288.8 L1006.5 1326.8 L947.5 1326.8 L941.5 1298.8 L939.5 1276.8 L944.5 1251.8 L950.5 1231.8 L950.5 1206.8 L944.5 1186.8Z" fill="#333" filter="url(#eb)" style="mix-blend-mode:lighten"/>
<ellipse cx="979.5" cy="1172.3" rx="24" ry="26" fill="url(#rg)" fill-opacity="0.42"/>
<ellipse cx="977.1" cy="1260.8" rx="20" ry="34" fill="url(#rg)" fill-opacity="0.26"/>
<ellipse cx="977.1" cy="1274.8" rx="26" ry="26" fill="url(#rg)" fill-opacity="0.62"/>
<ellipse cx="977.1" cy="1274.8" rx="11" ry="11" fill="url(#rg)" fill-opacity="1.0"/>
</g></g>
<rect x="935.5" y="1036.8" width="268.9" height="277.9" fill="none" stroke="#555" stroke-width="1.3"/>
<path d="M932.5 1185.9h3M932.5 1174h3M932.5 1165.6h3M932.5 1159.1h3M932.5 1153.7h3M932.5 1149.2h3M932.5 1145.3h3M932.5 1141.8h3M932.5 1120.3h3M932.5 1109.6h3M932.5 1101.9h3M932.5 1096h3M932.5 1091.1h3M932.5 1087h3M932.5 1083.5h3M932.5 1080.4h3M932.5 1059.1h3M932.5 1048.4h3M932.5 1040.7h3M932 1280.9h3.5M932 1277.9h3.5M932 1276.4h3.5M932 1274.9h3.5M932 1273.4h3.5M932 1272h3.5M932 1269h3.5M1061.4 1314.7v3M1072.6 1314.7v3M1080.6 1314.7v3M1086.8 1314.7v3M1091.8 1314.7v3M1096.1 1314.7v3M1099.7 1314.7v3M1103 1314.7v3M1123.8 1314.7v3M1134.3 1314.7v3M1141.8 1314.7v3M1147.5 1314.7v3M1152.2 1314.7v3M1156.2 1314.7v3M1159.7 1314.7v3M1162.7 1314.7v3M1183.4 1314.7v3M1193.8 1314.7v3M1201.3 1314.7v3M946.4 1314.7v3M948.4 1314.7v3M958.4 1314.7v3M960.4 1314.7v3M962.4 1314.7v3M964.4 1314.7v3M966.4 1314.7v3M968.4 1314.7v3M969.4 1314.7v3M970.4 1314.7v3M971.4 1314.7v3M972.4 1314.7v3M974.4 1314.7v3M976.4 1314.7v3M978.4 1314.7v3M980.3 1314.7v3M982.3 1314.7v3M984.3 1314.7v3M986.3 1314.7v3M988.3 1314.7v3M995.9 1314.7v3M1007.5 1314.7v3M1015.8 1314.7v3M1022.3 1314.7v3M1027.5 1314.7v3M1032 1314.7v3M1035.8 1314.7v3M1039.2 1314.7v3M932.5 1250.4h3M932.5 1239.3h3M932.5 1231.4h3M932.5 1225.2h3M932.5 1220.2h3M932.5 1216h3M932.5 1212.3h3M932.5 1209.1h3" stroke="#111" stroke-width="1" fill="none"/>
<path d="M929 1274.9h6.5M929 1206.2h6.5M929 1138.8h6.5M929 1077.6h6.5M969.2 1314.7v6M970.4 1314.7v6M971.6 1314.7v6M957 1314.7v5M984.7 1314.7v5M930.5 1296.3h5M930.5 1260.6h5M936.1 1314.7v6M1042.3 1314.7v6M1105.9 1314.7v6M1165.4 1314.7v6" stroke="#000" stroke-width="2" fill="none"/>
<text x="926.5" y="1278.9" font-family="Liberation Sans, Arial, sans-serif" font-weight="700" font-size="11" text-anchor="end">0</text>
<text x="927.5" y="1210.2" font-family="Liberation Sans, Arial, sans-serif" font-weight="700" font-size="11" text-anchor="end">10<tspan font-size="7" dy="-4.5">4</tspan></text>
<text x="927.5" y="1142.8" font-family="Liberation Sans, Arial, sans-serif" font-weight="700" font-size="11" text-anchor="end">10<tspan font-size="7" dy="-4.5">5</tspan></text>
<text x="927.5" y="1081.6" font-family="Liberation Sans, Arial, sans-serif" font-weight="700" font-size="11" text-anchor="end">10<tspan font-size="7" dy="-4.5">6</tspan></text>
<text x="970.4" y="1336.7" font-family="Liberation Sans, Arial, sans-serif" font-weight="700" font-size="11" text-anchor="middle">0</text>
<text x="1044.3" y="1336.7" font-family="Liberation Sans, Arial, sans-serif" font-weight="700" font-size="11" text-anchor="middle">10<tspan font-size="7" dy="-4.5">4</tspan></text>
<text x="1107.9" y="1336.7" font-family="Liberation Sans, Arial, sans-serif" font-weight="700" font-size="11" text-anchor="middle">10<tspan font-size="7" dy="-4.5">5</tspan></text>
<text x="1167.4" y="1336.7" font-family="Liberation Sans, Arial, sans-serif" font-weight="700" font-size="11" text-anchor="middle">10<tspan font-size="7" dy="-4.5">6</tspan></text>
<rect x="1073.8" y="1131.7" width="62.1" height="77.6" fill="none" stroke="#111" stroke-width="2.2"/>
<text x="958.6" y="1100.3" font-family="Liberation Sans, Arial, sans-serif" font-size="15" textLength="211.7" lengthAdjust="spacingAndGlyphs">% CD8 multimer (TTD)+ cells</text>
<text x="1080.4" y="1235.5" font-family="Liberation Sans, Arial, sans-serif" font-size="22" textLength="55.1" lengthAdjust="spacingAndGlyphs">0.0%</text>
<text transform="translate(904,1230.4) rotate(-90)" font-family="Liberation Sans, Arial, sans-serif" font-weight="700" font-size="16" textLength="98.7" lengthAdjust="spacingAndGlyphs">CD8 BV750-A</text>
<text x="1014.1" y="1356.8" font-family="Liberation Sans, Arial, sans-serif" font-size="16" font-weight="700" textLength="147" lengthAdjust="spacingAndGlyphs">CD8-Tetramer PE-A</text>
<clipPath id="cp3"><rect x="1264.7" y="1039.2" width="264.6" height="276.1"/></clipPath>
<g clip-path="url(#cp3)">
<path d="M1300.2 1146.3h0M1350.8 1150.3h0M1363.5 1147.1h0M1325.5 1216.0h0M1343.4 1206.5h0M1330.8 1199.2h0M1266.2 1173.7h0M1271.6 1194.7h0M1296.9 1146.3h0M1435.2 1205.3h0M1367.7 1176.4h0M1377.0 1192.7h0M1310.9 1118.0h0M1268.3 1173.0h0M1265.5 1107.9h0M1268.1 1194.1h0M1316.2 1143.7h0M1349.7 1187.8h0M1343.7 1150.1h0M1366.2 1197.6h0M1327.4 1202.1h0M1337.2 1139.9h0M1386.8 1172.7h0M1369.9 1155.0h0M1269.1 1159.8h0M1377.8 1166.4h0M1321.2 1127.4h0M1367.7 1155.4h0M1271.2 1157.6h0M1274.5 1154.4h0M1301.3 1144.9h0M1332.5 1119.7h0M1354.4 1152.6h0M1328.3 1202.2h0M1285.2 1134.3h0M1267.7 1174.2h0M1322.5 1215.1h0M1339.0 1146.8h0M1358.7 1184.0h0M1390.6 1149.9h0M1331.1 1221.2h0M1363.5 1205.1h0M1383.2 1129.5h0M1270.1 1173.9h0M1266.4 1170.1h0M1356.9 1139.3h0M1328.9 1149.3h0M1314.8 1142.1h0M1267.7 1167.3h0M1268.7 1212.7h0M1272.5 1148.7h0M1361.9 1200.4h0M1372.2 1128.0h0M1276.5 1210.5h0M1340.9 1219.9h0M1363.8 1184.0h0M1355.6 1156.9h0M1270.8 1213.9h0M1353.7 1221.0h0M1265.5 1123.3h0M1270.0 1182.8h0M1375.9 1144.1h0M1308.0 1113.8h0M1289.6 1122.4h0M1327.5 1100.6h0M1314.7 1139.5h0M1374.4 1207.2h0M1287.0 1116.3h0M1283.3 1132.6h0M1292.2 1141.1h0M1290.4 1138.3h0M1272.2 1154.6h0M1277.4 1149.0h0M1396.3 1164.8h0M1342.1 1194.6h0M1403.6 1146.8h0M1350.7 1139.0h0M1276.1 1209.7h0M1356.6 1193.8h0M1368.1 1161.3h0M1361.6 1156.2h0M1280.3 1142.8h0M1312.3 1131.2h0M1329.9 1149.1h0M1340.6 1132.5h0M1317.6 1121.0h0M1385.8 1171.5h0M1373.2 1155.2h0M1381.0 1177.1h0M1389.8 1167.4h0M1401.5 1148.1h0M1376.6 1166.2h0M1401.6 1184.2h0M1417.5 1158.9h0M1390.1 1170.6h0M1405.9 1163.6h0M1378.2 1158.6h0M1376.0 1151.0h0M1378.7 1158.9h0M1389.5 1172.3h0M1401.4 1165.0h0M1358.5 1180.5h0M1381.1 1170.7h0M1366.3 1156.3h0M1409.3 1160.8h0M1387.3 1156.8h0M1374.6 1169.5h0M1382.8 1171.8h0M1373.5 1163.6h0M1401.1 1162.0h0M1363.7 1177.0h0M1385.0 1155.3h0M1380.0 1177.3h0M1423.8 1165.6h0M1406.4 1162.0h0M1388.2 1169.4h0M1387.6 1177.5h0M1373.0 1165.0h0M1379.9 1168.2h0M1397.1 1162.2h0M1398.5 1159.1h0M1392.5 1174.1h0M1388.5 1170.4h0M1390.7 1177.7h0M1382.5 1170.8h0M1378.7 1167.6h0M1393.4 1160.1h0M1384.8 1179.1h0M1366.8 1182.1h0M1394.5 1173.4h0M1398.4 1171.1h0M1397.0 1167.7h0M1409.5 1163.4h0M1385.0 1172.0h0M1385.1 1171.4h0M1404.9 1176.0h0M1380.0 1158.8h0M1405.6 1154.1h0M1394.3 1168.5h0M1393.3 1162.2h0M1383.5 1172.1h0M1376.6 1175.0h0M1401.6 1153.5h0M1407.6 1164.7h0M1420.5 1177.7h0M1385.7 1169.3h0M1373.3 1164.5h0M1411.2 1155.9h0M1394.4 1167.1h0M1388.3 1168.8h0M1351.0 1185.7h0M1372.7 1157.4h0M1361.3 1147.2h0M1392.8 1155.0h0M1393.3 1169.8h0M1370.6 1159.7h0M1389.7 1156.0h0M1366.1 1182.5h0M1383.4 1168.4h0M1390.0 1154.6h0M1394.9 1169.9h0M1396.2 1163.1h0M1397.6 1166.5h0M1413.6 1179.8h0M1371.7 1168.3h0M1388.3 1164.3h0M1368.5 1181.3h0M1426.7 1169.0h0M1426.3 1164.2h0M1389.8 1186.3h0M1368.8 1157.6h0M1377.5 1169.9h0M1393.4 1164.9h0M1390.4 1140.1h0M1390.7 1173.8h0M1402.7 1168.5h0M1390.6 1160.5h0M1388.8 1160.6h0M1374.2 1188.5h0M1389.2 1180.1h0M1397.1 1174.1h0M1367.1 1177.9h0M1385.4 1156.4h0M1381.6 1159.0h0M1363.4 1156.2h0M1406.5 1184.4h0M1386.1 1170.2h0M1369.7 1157.0h0M1384.4 1164.8h0M1378.2 1152.4h0M1390.2 1156.4h0M1431.0 1169.0h0M1396.5 1165.8h0M1366.3 1175.7h0M1377.0 1175.0h0M1375.7 1177.8h0M1393.3 1172.3h0M1385.0 1178.5h0M1397.0 1171.4h0M1363.8 1152.0h0M1370.1 1152.8h0M1384.4 1149.1h0M1410.9 1180.8h0M1414.6 1166.2h0M1432.7 1150.4h0M1408.5 1170.7h0M1426.5 1185.5h0M1419.3 1172.9h0M1430.4 1186.8h0M1405.1 1175.5h0M1448.1 1169.9h0M1419.9 1173.1h0M1436.6 1160.9h0M1424.8 1184.3h0M1418.1 1170.0h0M1436.0 1186.2h0M1399.5 1187.0h0M1418.4 1164.9h0M1430.5 1150.9h0M1423.9 1182.2h0M1412.3 1188.5h0M1403.5 1175.3h0M1408.2 1180.2h0M1418.9 1194.7h0M1442.6 1157.7h0M1408.8 1195.4h0M1421.4 1163.3h0M1426.6 1195.1h0M1426.2 1175.4h0M1421.1 1193.0h0M1410.2 1179.3h0M1415.8 1192.0h0M1406.2 1173.7h0M1409.9 1193.6h0M1428.1 1193.0h0M1421.8 1164.5h0M1414.5 1179.9h0M1436.3 1173.6h0M1412.3 1171.9h0M1420.6 1179.9h0M1424.9 1187.6h0M1403.4 1173.8h0M1420.2 1182.1h0M1429.6 1158.9h0M1414.5 1170.1h0M1411.3 1166.7h0M1389.5 1171.9h0M1418.1 1183.2h0M1417.0 1173.1h0M1418.0 1175.1h0M1410.9 1180.1h0M1437.1 1173.1h0M1421.2 1166.5h0M1420.8 1171.3h0M1432.6 1181.2h0M1418.0 1174.5h0M1422.3 1186.2h0M1413.5 1180.3h0M1412.6 1179.0h0M1434.5 1172.4h0M1406.0 1174.0h0M1418.6 1174.2h0M1426.6 1172.1h0M1420.6 1187.2h0M1419.2 1175.1h0M1442.8 1175.6h0M1416.8 1175.6h0M1426.8 1170.9h0M1430.7 1166.4h0M1421.5 1180.1h0M1430.8 1169.4h0M1418.7 1167.2h0M1408.7 1176.4h0M1439.1 1174.7h0M1424.1 1192.7h0M1444.3 1180.8h0M1419.3 1183.8h0M1441.4 1167.2h0M1416.5 1159.6h0M1424.9 1175.1h0M1414.3 1182.8h0M1436.9 1189.2h0M1418.3 1170.2h0M1411.5 1183.1h0M1389.8 1171.6h0M1434.2 1167.1h0M1436.1 1184.2h0M1414.0 1164.0h0M1433.5 1174.3h0M1414.8 1181.3h0M1431.0 1169.4h0M1415.9 1182.1h0M1397.3 1181.3h0M1404.5 1168.1h0M1423.4 1184.3h0M1456.5 1172.1h0M1411.3 1155.6h0M1423.6 1175.9h0M1416.4 1188.3h0M1454.3 1175.8h0M1421.3 1173.1h0M1422.5 1176.0h0M1414.1 1181.0h0M1410.7 1174.7h0M1422.8 1181.3h0M1424.1 1180.1h0M1410.7 1179.7h0M1412.0 1178.1h0M1444.3 1155.4h0M1418.9 1159.1h0M1441.5 1179.4h0M1426.2 1172.9h0M1418.2 1172.1h0M1412.0 1180.2h0M1425.3 1189.0h0M1423.4 1174.1h0M1416.5 1178.8h0M1427.7 1168.6h0M1417.1 1179.6h0M1428.1 1174.5h0M1400.8 1182.8h0M1417.4 1171.8h0M1425.1 1178.4h0M1413.4 1169.2h0M1429.9 1184.5h0M1455.1 1186.5h0M1426.8 1164.5h0M1416.3 1182.6h0M1419.3 1158.8h0M1403.5 1190.9h0M1423.9 1175.9h0M1417.0 1180.2h0M1406.9 1163.7h0M1420.8 1157.4h0M1400.2 1176.8h0M1415.3 1167.3h0M1411.2 1189.9h0M1421.2 1175.7h0M1429.6 1181.6h0M1422.1 1184.7h0M1440.6 1175.7h0M1413.3 1178.7h0M1419.7 1175.0h0M1434.6 1181.2h0M1427.9 1163.6h0M1415.6 1182.8h0M1425.7 1180.1h0M1414.3 1177.7h0M1417.4 1175.2h0M1411.1 1167.7h0M1397.7 1176.2h0M1429.3 1176.0h0M1398.1 1184.3h0M1414.6 1187.5h0M1421.6 1188.6h0M1421.8 1173.6h0M1412.8 1178.0h0M1406.1 1176.7h0M1409.3 1176.2h0M1396.2 1158.8h0M1428.4 1186.0h0M1396.1 1155.6h0M1366.2 1258.1h0M1382.9 1194.0h0M1366.0 1226.7h0M1350.7 1217.1h0M1342.1 1289.7h0M1338.0 1210.9h0M1344.2 1266.2h0M1323.5 1244.4h0M1347.2 1234.1h0M1338.7 1254.3h0M1346.9 1222.8h0M1323.9 1206.0h0M1389.0 1282.2h0M1330.6 1203.4h0M1360.3 1242.7h0M1330.1 1238.8h0M1345.7 1187.4h0M1334.1 1239.3h0M1349.0 1238.4h0M1342.5 1237.0h0M1365.5 1227.4h0M1347.1 1204.9h0M1354.7 1237.0h0M1328.5 1240.4h0M1335.6 1198.5h0M1338.9 1220.9h0M1329.0 1272.0h0M1325.4 1254.6h0M1348.2 1269.7h0M1323.0 1243.8h0M1355.8 1229.3h0M1343.6 1278.8h0M1343.2 1143.3h0M1335.0 1240.2h0M1351.5 1229.7h0M1335.9 1243.4h0M1365.9 1247.1h0M1332.3 1218.7h0M1361.1 1191.2h0M1355.5 1230.7h0M1341.7 1216.2h0M1346.9 1238.8h0M1339.1 1212.1h0M1329.7 1236.0h0M1336.4 1227.1h0M1365.5 1224.4h0M1334.2 1229.5h0M1349.8 1245.8h0M1352.6 1222.1h0M1343.2 1211.0h0M1348.7 1198.2h0M1345.5 1265.0h0M1346.2 1246.7h0M1350.1 1257.6h0M1332.8 1235.3h0M1335.1 1236.8h0M1369.5 1247.5h0M1349.1 1264.8h0M1345.2 1188.9h0M1354.9 1214.2h0M1338.8 1220.8h0M1338.7 1257.2h0M1334.3 1236.4h0M1342.6 1258.2h0M1332.8 1258.5h0M1384.1 1224.5h0M1333.3 1215.2h0M1344.5 1252.3h0M1334.5 1285.0h0M1345.3 1242.2h0M1328.0 1232.9h0M1330.6 1219.4h0M1336.8 1228.8h0M1333.2 1264.9h0M1348.5 1234.6h0M1341.0 1209.0h0M1334.7 1202.5h0M1342.6 1231.1h0M1330.7 1272.5h0M1362.2 1268.9h0M1358.4 1237.9h0M1325.7 1257.6h0M1359.1 1243.3h0M1369.7 1241.9h0M1333.1 1261.1h0M1346.1 1266.3h0M1339.3 1225.3h0M1332.3 1279.2h0M1272.9 1256.7h0M1331.4 1262.0h0M1348.8 1283.3h0M1270.7 1260.9h0M1270.4 1240.4h0M1351.9 1258.8h0M1362.8 1286.6h0M1336.8 1274.4h0M1271.8 1251.8h0M1351.6 1314.3h0M1270.1 1251.3h0M1274.1 1230.2h0M1336.8 1257.1h0M1345.8 1267.7h0M1277.7 1211.9h0M1267.1 1226.9h0M1268.6 1266.9h0M1351.3 1266.9h0M1342.7 1216.4h0M1350.0 1275.7h0M1270.7 1265.4h0M1355.0 1281.4h0M1273.3 1210.9h0M1340.7 1309.2h0M1365.4 1299.8h0M1274.3 1244.0h0M1354.4 1267.7h0M1381.1 1309.0h0M1369.2 1278.1h0M1325.3 1255.5h0M1340.1 1310.2h0M1361.5 1287.7h0M1332.0 1297.0h0M1349.8 1261.9h0M1375.7 1281.3h0M1351.8 1300.7h0M1269.1 1267.4h0M1336.7 1306.8h0M1329.8 1272.9h0M1343.0 1307.4h0M1368.4 1271.3h0M1362.7 1279.1h0M1352.2 1282.0h0M1328.9 1265.3h0M1336.8 1284.7h0M1353.1 1293.5h0M1333.1 1294.8h0M1332.7 1293.7h0M1358.8 1294.0h0M1359.6 1264.4h0M1352.7 1296.0h0M1337.5 1296.9h0M1342.2 1300.6h0M1334.7 1272.6h0M1333.2 1303.3h0M1363.6 1276.0h0M1344.0 1275.7h0M1363.8 1285.3h0M1361.9 1282.7h0M1334.3 1278.1h0M1337.7 1280.6h0M1350.7 1279.1h0M1341.5 1303.4h0M1336.7 1294.9h0M1351.4 1296.1h0M1354.1 1302.8h0M1363.9 1307.3h0M1335.9 1305.2h0M1361.5 1303.4h0M1335.1 1284.3h0M1333.1 1294.6h0M1355.7 1298.4h0M1339.7 1287.4h0M1344.3 1254.4h0M1357.3 1256.2h0M1359.0 1286.7h0M1345.0 1299.5h0M1331.7 1284.1h0M1360.2 1266.3h0M1354.0 1297.0h0M1340.0 1272.8h0M1358.6 1258.7h0M1340.9 1277.9h0M1342.8 1285.1h0" stroke="#3a5cff" stroke-opacity="0.85" stroke-width="1.4" stroke-linecap="square"/>
<g filter="url(#jet)">
<rect x="1252.7" y="1027.2" width="288.6" height="300.1" fill="#000"/>
<g filter="url(#nz)">
<path d="M1270.7 1165.2 L1278.7 1153.2 L1294.7 1148.2 L1314.7 1148.2 L1334.7 1151.2 L1348.7 1156.2 L1362.7 1162.2 L1369.7 1168.2 L1365.7 1175.2 L1352.7 1183.2 L1338.7 1191.2 L1323.7 1205.2 L1320.7 1224.2 L1321.7 1244.2 L1327.7 1264.2 L1331.7 1289.2 L1330.7 1329.2 L1254.7 1329.2 L1266.7 1284.2 L1272.7 1259.2 L1278.7 1234.2 L1278.7 1209.2 L1270.7 1189.2Z" fill="#fff" fill-opacity="0.13" filter="url(#eb6)"/>
<path d="M1354.7 1157.2 L1394.7 1165.2 L1394.7 1177.2 L1359.7 1184.2Z" fill="#fff" fill-opacity="0.06" filter="url(#eb3)"/>
<path d="M1319.7 1189.2 L1354.7 1189.2 L1344.7 1239.2 L1336.7 1279.2 L1322.7 1269.2Z" fill="#fff" fill-opacity="0.06" filter="url(#eb3)"/>
</g>
<path d="M1270.7 1165.2 L1278.7 1153.2 L1294.7 1148.2 L1314.7 1148.2 L1334.7 1151.2 L1348.7 1156.2 L1362.7 1162.2 L1369.7 1168.2 L1365.7 1175.2 L1352.7 1183.2 L1338.7 1191.2 L1323.7 1205.2 L1320.7 1224.2 L1321.7 1244.2 L1327.7 1264.2 L1331.7 1289.2 L1330.7 1329.2 L1254.7 1329.2 L1266.7 1284.2 L1272.7 1259.2 L1278.7 1234.2 L1278.7 1209.2 L1270.7 1189.2Z" fill="#333" filter="url(#eb)" style="mix-blend-mode:lighten"/>
<ellipse cx="1305.5" cy="1175.2" rx="26" ry="25" fill="url(#rg)" fill-opacity="0.42"/>
<ellipse cx="1303.9" cy="1260.2" rx="20" ry="34" fill="url(#rg)" fill-opacity="0.26"/>
<ellipse cx="1303.9" cy="1274.2" rx="26" ry="26" fill="url(#rg)" fill-opacity="0.62"/>
<ellipse cx="1303.9" cy="1274.2" rx="10.5" ry="10.5" fill="url(#rg)" fill-opacity="1.0"/>
</g></g>
<rect x="1264.7" y="1039.2" width="264.6" height="276.1" fill="none" stroke="#555" stroke-width="1.3"/>
<path d="M1261.7 1187.3h3M1261.7 1175.5h3M1261.7 1167.2h3M1261.7 1160.7h3M1261.7 1155.4h3M1261.7 1150.9h3M1261.7 1147h3M1261.7 1143.6h3M1261.7 1122.2h3M1261.7 1111.5h3M1261.7 1103.9h3M1261.7 1098h3M1261.7 1093.2h3M1261.7 1089.1h3M1261.7 1085.6h3M1261.7 1082.5h3M1261.7 1061.4h3M1261.7 1050.7h3M1261.7 1043.1h3M1261.2 1281.7h3.5M1261.2 1278.7h3.5M1261.2 1277.3h3.5M1261.2 1275.8h3.5M1261.2 1274.3h3.5M1261.2 1272.8h3.5M1261.2 1269.9h3.5M1388.6 1315.3v3M1399.6 1315.3v3M1407.5 1315.3v3M1413.5 1315.3v3M1418.5 1315.3v3M1422.7 1315.3v3M1426.3 1315.3v3M1429.5 1315.3v3M1450 1315.3v3M1460.3 1315.3v3M1467.7 1315.3v3M1473.3 1315.3v3M1478 1315.3v3M1481.9 1315.3v3M1485.3 1315.3v3M1488.3 1315.3v3M1508.6 1315.3v3M1518.9 1315.3v3M1526.2 1315.3v3M1275.4 1315.3v3M1277.4 1315.3v3M1287.2 1315.3v3M1289.2 1315.3v3M1291.1 1315.3v3M1293.1 1315.3v3M1295.1 1315.3v3M1297 1315.3v3M1298 1315.3v3M1299 1315.3v3M1300 1315.3v3M1301 1315.3v3M1302.9 1315.3v3M1304.9 1315.3v3M1306.9 1315.3v3M1308.8 1315.3v3M1310.8 1315.3v3M1312.8 1315.3v3M1314.7 1315.3v3M1316.7 1315.3v3M1324.1 1315.3v3M1335.6 1315.3v3M1343.8 1315.3v3M1350.1 1315.3v3M1355.3 1315.3v3M1359.6 1315.3v3M1363.4 1315.3v3M1366.8 1315.3v3M1261.7 1251.4h3M1261.7 1240.4h3M1261.7 1232.5h3M1261.7 1226.4h3M1261.7 1221.4h3M1261.7 1217.2h3M1261.7 1213.6h3M1261.7 1210.4h3" stroke="#111" stroke-width="1" fill="none"/>
<path d="M1258.2 1275.8h6.5M1258.2 1207.5h6.5M1258.2 1140.5h6.5M1258.2 1079.7h6.5M1297.8 1315.3v6M1299 1315.3v6M1300.2 1315.3v6M1285.8 1315.3v5M1313.2 1315.3v5M1259.7 1297h5M1259.7 1261.6h5M1265.3 1315.3v6M1369.8 1315.3v6M1432.4 1315.3v6M1491 1315.3v6" stroke="#000" stroke-width="2" fill="none"/>
<text x="1255.7" y="1279.8" font-family="Liberation Sans, Arial, sans-serif" font-weight="700" font-size="11" text-anchor="end">0</text>
<text x="1256.7" y="1211.5" font-family="Liberation Sans, Arial, sans-serif" font-weight="700" font-size="11" text-anchor="end">10<tspan font-size="7" dy="-4.5">4</tspan></text>
<text x="1256.7" y="1144.5" font-family="Liberation Sans, Arial, sans-serif" font-weight="700" font-size="11" text-anchor="end">10<tspan font-size="7" dy="-4.5">5</tspan></text>
<text x="1256.7" y="1083.7" font-family="Liberation Sans, Arial, sans-serif" font-weight="700" font-size="11" text-anchor="end">10<tspan font-size="7" dy="-4.5">6</tspan></text>
<text x="1299" y="1337.3" font-family="Liberation Sans, Arial, sans-serif" font-weight="700" font-size="11" text-anchor="middle">0</text>
<text x="1371.8" y="1337.3" font-family="Liberation Sans, Arial, sans-serif" font-weight="700" font-size="11" text-anchor="middle">10<tspan font-size="7" dy="-4.5">4</tspan></text>
<text x="1434.4" y="1337.3" font-family="Liberation Sans, Arial, sans-serif" font-weight="700" font-size="11" text-anchor="middle">10<tspan font-size="7" dy="-4.5">5</tspan></text>
<text x="1493" y="1337.3" font-family="Liberation Sans, Arial, sans-serif" font-weight="700" font-size="11" text-anchor="middle">10<tspan font-size="7" dy="-4.5">6</tspan></text>
<rect x="1401.4" y="1133.8" width="61.1" height="76.9" fill="none" stroke="#111" stroke-width="2.2"/>
<text x="1288.3" y="1106.5" font-family="Liberation Sans, Arial, sans-serif" font-size="15" textLength="212.3" lengthAdjust="spacingAndGlyphs">% CD8 multimer (TTD)+ cells</text>
<text x="1401.5" y="1234.5" font-family="Liberation Sans, Arial, sans-serif" font-size="22" textLength="69.2" lengthAdjust="spacingAndGlyphs">0.21%</text>
<text transform="translate(1230.5,1229.8) rotate(-90)" font-family="Liberation Sans, Arial, sans-serif" font-weight="700" font-size="16" textLength="98.5" lengthAdjust="spacingAndGlyphs">CD8 BV750-A</text>
<text x="1328" y="1359.3" font-family="Liberation Sans, Arial, sans-serif" font-size="16" font-weight="700" textLength="146.5" lengthAdjust="spacingAndGlyphs">CD8-Tetramer PE-A</text>
<clipPath id="cp4"><rect x="271.4" y="1378.6" width="271.7" height="281.6"/></clipPath>
<g clip-path="url(#cp4)">
<path d="M275.2 1466.5h0M367.4 1452.8h0M342.4 1514.7h0M305.0 1456.4h0M357.2 1450.6h0M346.5 1471.4h0M410.1 1522.8h0M446.4 1504.5h0M416.8 1490.7h0M399.8 1499.4h0M283.9 1455.8h0M360.0 1503.3h0M382.4 1523.4h0M271.6 1481.4h0M317.1 1463.8h0M271.4 1449.4h0M395.2 1476.2h0M377.8 1456.4h0M383.1 1463.8h0M303.1 1462.6h0M348.9 1515.6h0M295.5 1459.5h0M399.5 1488.2h0M392.4 1485.8h0M415.1 1477.0h0M273.2 1497.4h0M344.6 1522.2h0M312.8 1447.4h0M325.5 1471.5h0M276.3 1523.9h0M371.2 1472.5h0M367.6 1471.1h0M380.8 1473.5h0M354.5 1469.2h0M333.7 1458.0h0M365.1 1470.6h0M293.3 1470.7h0M379.5 1468.0h0M319.0 1454.3h0M284.6 1444.6h0M277.8 1474.4h0M345.5 1472.2h0M342.5 1520.5h0M411.7 1438.1h0M278.2 1477.1h0M379.1 1453.3h0M366.8 1447.5h0M439.8 1442.6h0M274.6 1478.8h0M405.6 1479.4h0M371.5 1486.2h0M349.1 1511.1h0M327.3 1435.2h0M364.1 1473.8h0M331.8 1455.2h0M276.7 1485.3h0M383.7 1459.3h0M397.1 1522.5h0M356.8 1471.3h0M419.6 1462.3h0M332.3 1456.1h0M348.2 1466.7h0M383.7 1465.9h0M341.6 1466.3h0M308.7 1466.2h0M364.9 1462.6h0M283.6 1466.9h0M383.8 1495.3h0M371.3 1519.6h0M315.5 1531.8h0M366.6 1471.0h0M322.5 1467.9h0M403.6 1510.7h0M410.7 1518.5h0M377.4 1451.1h0M355.5 1507.2h0M309.2 1533.6h0M372.3 1465.6h0M321.8 1457.9h0M317.4 1454.1h0M324.3 1456.2h0M272.8 1450.0h0M360.0 1500.3h0M364.3 1504.8h0M391.5 1479.9h0M333.0 1455.2h0M388.1 1465.1h0M327.2 1464.3h0M302.9 1471.9h0M447.9 1503.8h0M402.7 1504.8h0M271.7 1502.9h0M275.9 1488.5h0M343.4 1511.5h0M373.3 1477.2h0M418.4 1500.1h0M406.1 1526.7h0M293.4 1439.1h0M450.6 1463.1h0M385.8 1475.0h0M334.0 1454.2h0M385.2 1479.7h0M334.6 1462.7h0M422.6 1475.6h0M408.2 1487.5h0M376.9 1495.9h0M392.8 1464.6h0M362.4 1506.1h0M385.8 1503.2h0M402.8 1482.7h0M392.5 1481.8h0M387.1 1486.6h0M372.3 1494.9h0M376.4 1471.3h0M390.5 1489.9h0M386.2 1491.6h0M381.5 1490.6h0M369.9 1500.0h0M385.0 1521.3h0M372.6 1497.5h0M383.0 1492.5h0M388.8 1505.8h0M400.4 1486.5h0M401.4 1480.4h0M373.1 1483.6h0M366.4 1475.1h0M381.8 1502.6h0M378.7 1496.2h0M387.1 1474.7h0M393.6 1483.3h0M378.1 1471.8h0M374.3 1498.5h0M365.1 1477.5h0M382.4 1478.5h0M376.0 1506.4h0M380.1 1471.6h0M406.4 1489.2h0M375.3 1489.6h0M375.2 1499.8h0M376.4 1483.0h0M389.3 1487.4h0M386.9 1493.0h0M372.2 1493.8h0M378.8 1472.6h0M382.5 1480.6h0M375.1 1482.8h0M403.3 1481.7h0M389.5 1479.1h0M370.8 1475.7h0M391.3 1500.2h0M386.2 1486.7h0M388.9 1488.4h0M363.9 1463.5h0M406.8 1479.5h0M382.2 1486.7h0M392.7 1482.4h0M408.5 1507.7h0M383.3 1480.7h0M382.6 1495.0h0M386.3 1489.3h0M403.7 1501.6h0M368.8 1498.1h0M372.5 1514.1h0M386.6 1507.3h0M388.0 1502.1h0M407.2 1482.5h0M370.8 1490.6h0M391.8 1466.6h0M388.9 1489.1h0M372.1 1471.7h0M376.1 1482.0h0M391.1 1496.0h0M371.3 1510.3h0M387.7 1477.7h0M395.6 1472.1h0M395.8 1479.7h0M381.4 1485.0h0M379.1 1480.6h0M382.1 1495.3h0M382.4 1509.5h0M387.5 1509.3h0M403.4 1509.3h0M377.5 1497.8h0M370.7 1488.0h0M316.4 1560.5h0M310.8 1536.7h0M310.6 1563.7h0M283.4 1542.6h0M305.2 1565.7h0M274.3 1536.9h0M323.5 1555.0h0M274.4 1542.1h0M313.0 1545.0h0M317.1 1573.1h0M309.2 1543.0h0M304.1 1563.9h0M300.5 1555.7h0M327.1 1544.9h0M328.8 1559.0h0M330.5 1542.5h0M276.2 1530.1h0M275.1 1572.8h0M338.8 1539.5h0M311.5 1582.6h0M309.2 1546.3h0M323.1 1584.3h0M279.6 1563.9h0M339.8 1547.9h0M328.1 1597.3h0M305.1 1564.2h0M320.4 1584.8h0M303.5 1563.8h0M304.2 1551.8h0M326.1 1555.0h0M317.6 1539.6h0M304.2 1559.1h0M277.1 1540.6h0M310.0 1569.1h0M302.8 1570.1h0M310.0 1573.4h0M309.8 1585.5h0M335.6 1555.3h0M300.3 1571.7h0M281.0 1563.7h0M276.1 1545.9h0M275.3 1543.9h0M317.3 1562.2h0M307.6 1576.8h0M317.3 1573.0h0M311.1 1558.3h0M277.2 1528.0h0M284.4 1540.3h0M321.8 1573.7h0M341.1 1514.9h0M312.6 1583.9h0M280.2 1522.9h0M277.2 1583.8h0M330.2 1602.1h0M311.9 1588.8h0M284.0 1539.4h0M273.9 1586.8h0M340.3 1563.9h0M307.8 1537.2h0M305.8 1578.4h0M320.7 1585.2h0M325.3 1541.0h0M299.5 1567.1h0M310.2 1585.8h0M322.1 1571.3h0M302.0 1569.5h0M305.2 1563.3h0M274.8 1516.2h0M341.0 1589.0h0M320.6 1526.2h0M315.2 1537.2h0M310.9 1576.0h0M300.9 1555.7h0M274.4 1537.9h0M315.1 1554.4h0M276.6 1509.8h0M304.4 1569.3h0M305.8 1542.4h0M323.3 1561.2h0M327.3 1570.2h0M317.3 1561.0h0M307.3 1570.5h0M280.1 1573.7h0M299.5 1575.5h0M306.5 1548.3h0M299.6 1564.0h0M322.1 1557.9h0M320.1 1575.6h0M309.3 1562.1h0M318.9 1563.5h0M271.7 1518.2h0M316.2 1589.7h0M281.4 1559.8h0M280.6 1576.4h0M316.5 1588.5h0M275.2 1554.2h0M331.4 1589.2h0M304.6 1537.4h0M325.4 1563.3h0M305.7 1552.1h0M341.8 1627.2h0M333.5 1613.4h0M301.0 1577.1h0M363.3 1586.1h0M368.4 1650.9h0M321.9 1582.2h0M335.1 1592.1h0M321.2 1580.1h0M271.6 1580.4h0M342.4 1624.4h0M340.3 1582.4h0M348.7 1640.4h0M325.8 1591.1h0M365.8 1645.4h0M375.8 1586.5h0M320.9 1565.7h0M342.5 1573.6h0M357.2 1589.1h0M307.9 1560.9h0M378.6 1652.8h0M343.7 1601.2h0M345.1 1654.2h0M354.2 1588.2h0M337.3 1612.3h0M369.5 1653.5h0M339.5 1591.9h0M327.3 1588.8h0M336.1 1654.7h0M274.0 1572.3h0M349.3 1653.2h0M364.2 1628.6h0M359.8 1599.8h0M339.3 1583.1h0M343.3 1605.2h0M343.0 1609.7h0M346.5 1651.4h0M309.5 1583.8h0M358.8 1602.3h0M357.3 1635.2h0M347.0 1649.1h0M347.1 1657.8h0M367.4 1650.3h0M347.3 1630.2h0M347.7 1603.9h0M346.6 1606.5h0M334.0 1648.8h0M333.6 1642.4h0M339.7 1630.8h0M339.6 1651.0h0M355.7 1604.2h0M351.5 1652.7h0M346.5 1647.2h0M352.4 1601.2h0M331.9 1584.8h0M356.9 1643.0h0M366.0 1639.8h0M336.0 1622.7h0M349.0 1652.9h0M338.1 1640.4h0M342.2 1655.6h0M338.0 1653.4h0M338.5 1616.4h0M357.4 1633.5h0M370.1 1621.5h0M341.8 1654.8h0M337.1 1629.8h0M345.6 1611.8h0M348.8 1656.7h0M343.1 1632.2h0M363.3 1622.2h0M365.2 1629.5h0M368.5 1647.8h0M359.1 1583.1h0M355.8 1607.3h0M342.4 1641.2h0M359.2 1655.2h0M346.9 1628.4h0M335.7 1623.2h0M342.9 1640.9h0M353.2 1647.1h0M338.1 1612.4h0M335.6 1656.2h0M344.6 1656.5h0M360.4 1643.7h0M335.7 1577.4h0M344.5 1653.7h0M361.6 1619.6h0M342.0 1646.7h0M356.8 1619.1h0M340.6 1628.9h0M342.1 1634.0h0M342.8 1597.7h0M357.2 1635.9h0M370.7 1602.0h0M357.2 1641.2h0M364.2 1622.1h0M345.2 1636.1h0M332.9 1619.6h0M348.5 1634.1h0M348.0 1648.3h0M347.6 1640.1h0M334.8 1646.3h0M454.8 1497.5h0M430.5 1499.6h0M438.5 1504.7h0M459.1 1488.4h0M469.5 1510.9h0M464.1 1505.3h0M441.7 1509.4h0M442.9 1492.6h0M468.7 1510.4h0M466.2 1499.9h0M432.7 1509.8h0M447.5 1513.3h0M440.7 1490.9h0M463.9 1489.2h0M430.5 1501.7h0M457.3 1491.2h0M445.8 1499.5h0M432.5 1503.3h0M460.5 1501.4h0M452.5 1505.4h0M463.3 1494.1h0M460.9 1498.1h0M431.7 1509.7h0M461.7 1473.0h0M460.3 1499.2h0M456.5 1492.5h0M478.5 1488.8h0M454.8 1485.8h0M457.6 1507.5h0M433.4 1499.3h0M470.1 1504.1h0M459.7 1484.4h0M421.1 1517.7h0M451.1 1498.5h0M455.4 1484.3h0M433.6 1508.9h0M438.4 1506.0h0M468.3 1496.4h0M440.0 1490.9h0M440.1 1524.9h0M457.0 1500.9h0M455.6 1497.2h0M444.3 1498.7h0M464.7 1504.8h0M435.6 1483.5h0M456.2 1494.3h0M446.5 1481.4h0M453.1 1493.1h0M452.7 1498.5h0M450.1 1500.9h0M444.7 1499.1h0M431.4 1503.4h0M460.7 1491.3h0M448.9 1495.6h0M459.6 1494.6h0M468.2 1488.2h0M440.9 1518.9h0M465.2 1480.7h0M458.1 1503.9h0M462.3 1521.6h0M446.1 1506.7h0M473.8 1484.1h0M458.2 1501.6h0M450.5 1505.4h0M442.8 1508.3h0M419.8 1504.9h0M456.0 1497.7h0M434.0 1497.8h0M424.8 1524.0h0M432.3 1500.0h0M460.6 1496.4h0M469.0 1498.6h0M441.5 1502.7h0M446.0 1497.0h0M472.2 1499.0h0M471.9 1491.6h0M432.1 1504.4h0M448.3 1499.3h0M452.5 1495.3h0M445.3 1503.6h0M450.3 1507.4h0M460.8 1498.0h0M463.0 1481.8h0M448.3 1515.0h0M457.6 1506.5h0M457.9 1497.5h0M445.6 1515.9h0M476.3 1477.9h0M459.8 1498.4h0M451.1 1495.0h0M439.4 1484.6h0M458.0 1491.8h0M443.5 1490.5h0M446.8 1503.8h0M428.9 1505.7h0M469.9 1497.4h0M434.7 1488.8h0M441.3 1493.0h0M441.3 1511.4h0M453.8 1506.5h0M459.4 1498.8h0M449.8 1509.1h0M445.6 1510.8h0M458.6 1480.7h0M458.1 1497.4h0M436.9 1508.6h0M458.4 1514.2h0M458.2 1493.1h0M446.2 1509.5h0M454.9 1511.4h0M436.5 1500.8h0M445.8 1517.4h0M440.1 1497.9h0M440.7 1517.3h0M449.6 1514.7h0M440.0 1516.2h0M436.5 1505.5h0M449.5 1490.1h0M453.2 1495.0h0M444.4 1502.4h0M467.6 1501.9h0M470.4 1509.6h0M452.6 1515.8h0M449.4 1500.8h0M431.1 1496.2h0M452.8 1498.5h0M458.0 1511.2h0M447.0 1521.3h0M414.8 1507.7h0M446.3 1496.2h0M462.8 1497.2h0M438.4 1493.2h0M441.8 1485.9h0M465.0 1508.4h0M481.1 1502.8h0M455.4 1505.2h0M423.9 1513.7h0M436.0 1485.5h0M449.8 1509.5h0M459.9 1502.7h0M449.1 1499.2h0M450.7 1508.9h0M442.5 1506.7h0M444.0 1520.6h0M449.5 1494.9h0M484.0 1479.1h0M431.1 1494.9h0M451.5 1511.7h0M436.9 1510.0h0M433.1 1497.5h0M457.5 1495.7h0M434.7 1508.9h0M447.0 1500.6h0M454.4 1516.2h0M437.5 1499.8h0M455.4 1491.0h0M447.7 1501.2h0M462.0 1504.3h0M462.3 1502.8h0M462.2 1496.4h0M468.0 1506.3h0M438.9 1499.0h0M478.6 1501.1h0M426.5 1494.6h0M445.6 1502.3h0M434.0 1503.4h0M455.8 1500.4h0M446.8 1513.4h0M442.4 1499.1h0M447.8 1489.4h0M448.3 1511.3h0M384.2 1631.7h0M404.6 1444.2h0M407.9 1531.4h0M328.3 1532.6h0M411.8 1587.2h0M399.8 1481.0h0M484.8 1435.5h0M387.0 1544.4h0M438.1 1609.3h0M368.7 1562.0h0M458.7 1545.2h0M442.4 1546.1h0M419.4 1558.6h0M503.3 1640.7h0M514.7 1556.7h0M456.6 1547.6h0M482.4 1462.0h0M387.0 1507.8h0M350.7 1521.6h0M335.3 1538.4h0M310.9 1543.3h0M366.4 1503.7h0M312.4 1539.0h0M359.6 1524.2h0M341.0 1515.8h0M360.0 1511.3h0M385.8 1537.5h0M364.0 1506.0h0M360.7 1511.6h0M339.3 1530.2h0M321.3 1523.5h0M340.8 1532.6h0M334.0 1538.5h0M328.7 1526.7h0M351.9 1517.8h0M411.8 1496.0h0M351.4 1533.5h0M353.9 1534.6h0M325.2 1537.6h0M322.8 1528.1h0M339.6 1471.6h0M363.7 1522.1h0M362.8 1531.6h0M322.4 1525.3h0M368.4 1507.6h0M335.5 1538.8h0M336.9 1555.4h0M348.9 1536.3h0M328.2 1524.4h0M352.7 1517.8h0M351.6 1517.7h0M398.7 1527.8h0M345.9 1528.7h0M342.0 1513.2h0M320.3 1540.3h0M318.8 1541.7h0M322.9 1521.8h0M322.5 1540.8h0M329.3 1529.0h0M363.6 1533.2h0M378.8 1478.5h0M346.5 1531.7h0M366.1 1518.7h0M352.2 1522.3h0M359.8 1529.1h0M312.6 1527.2h0M321.6 1521.5h0M322.5 1538.0h0M354.5 1506.9h0M384.1 1509.6h0M383.7 1508.4h0M306.8 1541.6h0M343.1 1518.8h0M340.1 1521.8h0M363.6 1529.0h0M328.4 1518.1h0M316.2 1540.2h0M363.5 1513.1h0M353.3 1528.1h0M321.3 1523.3h0M338.6 1530.6h0M355.7 1509.5h0M320.8 1534.1h0M318.4 1528.4h0M355.9 1524.6h0M343.1 1531.3h0M353.5 1512.7h0M346.3 1513.9h0M349.8 1520.4h0M318.2 1531.6h0M357.6 1526.7h0M336.7 1534.3h0M331.1 1536.7h0M346.3 1510.0h0M395.7 1519.5h0M350.9 1521.0h0M354.7 1524.9h0M360.2 1516.3h0M345.7 1519.6h0M365.4 1531.1h0M345.7 1543.2h0M383.0 1523.8h0M323.7 1531.5h0M382.4 1499.7h0M348.6 1521.0h0M336.3 1528.6h0M346.6 1510.7h0M349.9 1542.0h0M305.8 1548.0h0M337.9 1539.6h0M357.7 1517.0h0M339.7 1520.6h0M344.9 1511.7h0M367.8 1511.6h0M420.1 1496.6h0M346.9 1554.8h0M350.7 1561.2h0M368.6 1516.9h0M331.5 1522.1h0M387.9 1509.5h0M390.8 1510.1h0M333.3 1551.0h0M329.4 1546.5h0M324.6 1528.2h0M328.1 1529.3h0M315.4 1537.0h0M356.2 1559.5h0M361.7 1552.4h0M312.7 1532.6h0M336.9 1515.5h0M352.5 1536.9h0M361.7 1522.7h0M320.5 1574.1h0M338.2 1534.4h0" stroke="#3a5cff" stroke-opacity="0.85" stroke-width="1.4" stroke-linecap="square"/>
<g filter="url(#jet)">
<rect x="259.4" y="1366.6" width="295.7" height="305.6" fill="#000"/>
<g filter="url(#nz)">
<path d="M277.4 1480.6 L285.4 1474.6 L311.4 1472.6 L339.4 1472.6 L355.4 1474.6 L367.4 1479.6 L371.4 1486.6 L366.4 1495.6 L355.4 1503.6 L339.4 1512.6 L321.4 1520.6 L309.4 1527.6 L301.4 1540.6 L299.4 1563.6 L299.4 1583.6 L311.4 1591.6 L326.4 1597.6 L332.4 1613.6 L333.4 1668.6 L261.4 1668.6 L261.4 1593.6 L280.4 1583.6 L284.4 1558.6 L284.4 1533.6 L279.4 1518.6 L276.4 1498.6Z" fill="#fff" fill-opacity="0.13" filter="url(#eb6)"/>
<path d="M276.4 1523.6 L331.4 1518.6 L316.4 1548.6 L311.4 1583.6 L306.4 1592.6 L276.4 1592.6Z" fill="#fff" fill-opacity="0.055" filter="url(#eb3)"/>
<path d="M367.4 1476.6 L389.4 1482.6 L387.4 1498.6 L367.4 1502.6Z" fill="#fff" fill-opacity="0.05" filter="url(#eb3)"/>
<path d="M331.4 1593.6 L353.4 1610.6 L351.4 1658.6 L333.4 1658.6Z" fill="#fff" fill-opacity="0.04" filter="url(#eb3)"/>
</g>
<path d="M277.4 1480.6 L285.4 1474.6 L311.4 1472.6 L339.4 1472.6 L355.4 1474.6 L367.4 1479.6 L371.4 1486.6 L366.4 1495.6 L355.4 1503.6 L339.4 1512.6 L321.4 1520.6 L309.4 1527.6 L301.4 1540.6 L299.4 1563.6 L299.4 1583.6 L311.4 1591.6 L326.4 1597.6 L332.4 1613.6 L333.4 1668.6 L261.4 1668.6 L261.4 1593.6 L280.4 1583.6 L284.4 1558.6 L284.4 1533.6 L279.4 1518.6 L276.4 1498.6Z" fill="#333" filter="url(#eb)" style="mix-blend-mode:lighten"/>
<ellipse cx="318.4" cy="1485.9" rx="27" ry="15" fill="url(#rg)" fill-opacity="0.4"/>
<ellipse cx="301.1" cy="1629.5" rx="33" ry="36" fill="url(#rg)" fill-opacity="0.8"/>
<ellipse cx="301.1" cy="1629.5" rx="12" ry="13" fill="url(#rg)" fill-opacity="1.0"/>
</g></g>
<rect x="271.4" y="1378.6" width="271.7" height="281.6" fill="none" stroke="#555" stroke-width="1.3"/>
<path d="M268.4 1590.4h3M268.4 1579.2h3M268.4 1571.1h3M268.4 1564.9h3M268.4 1559.9h3M268.4 1555.6h3M268.4 1551.8h3M268.4 1548.6h3M268.4 1526.2h3M268.4 1514.8h3M268.4 1506.8h3M268.4 1500.5h3M268.4 1495.4h3M268.4 1491.1h3M268.4 1487.4h3M268.4 1484.1h3M268.4 1462.3h3M268.4 1451.2h3M268.4 1443.4h3M268.4 1437.3h3M268.4 1432.4h3M268.4 1428.2h3M268.4 1424.6h3M268.4 1421.4h3M268.4 1399.7h3M268.4 1388.6h3M268.4 1380.8h3M267.9 1638.9h3.5M267.9 1635.9h3.5M267.9 1634.4h3.5M267.9 1632.9h3.5M267.9 1631.4h3.5M267.9 1629.8h3.5M267.9 1626.8h3.5M338.2 1660.2v3M349.3 1660.2v3M357.2 1660.2v3M363.3 1660.2v3M368.3 1660.2v3M372.5 1660.2v3M376.2 1660.2v3M379.4 1660.2v3M401.1 1660.2v3M412.1 1660.2v3M419.9 1660.2v3M426 1660.2v3M430.9 1660.2v3M435.1 1660.2v3M438.7 1660.2v3M441.9 1660.2v3M462.9 1660.2v3M473.5 1660.2v3M481 1660.2v3M486.8 1660.2v3M491.6 1660.2v3M495.6 1660.2v3M499.1 1660.2v3M502.2 1660.2v3M523.1 1660.2v3M533.6 1660.2v3M541.2 1660.2v3M273.7 1660.2v3M275.7 1660.2v3M285.8 1660.2v3M287.9 1660.2v3M289.9 1660.2v3M291.9 1660.2v3M293.9 1660.2v3M295.9 1660.2v3M296.9 1660.2v3M297.9 1660.2v3M299 1660.2v3M300 1660.2v3M302 1660.2v3M304 1660.2v3M306 1660.2v3M308 1660.2v3M310.1 1660.2v3M312.1 1660.2v3M314.1 1660.2v3M316.1 1660.2v3" stroke="#111" stroke-width="1" fill="none"/>
<path d="M264.9 1656h6.5M264.9 1632.9h6.5M264.9 1609.7h6.5M264.9 1545.6h6.5M264.9 1481.1h6.5M264.9 1418.5h6.5M296.7 1660.2v6M297.9 1660.2v6M299.2 1660.2v6M272 1660.2v6M319.2 1660.2v6M382.3 1660.2v6M444.8 1660.2v6M504.9 1660.2v6" stroke="#000" stroke-width="2" fill="none"/>
<text x="263.4" y="1660" font-family="Liberation Sans, Arial, sans-serif" font-weight="700" font-size="11" text-anchor="end">-10<tspan font-size="7" dy="-4.5">3</tspan></text>
<text x="262.4" y="1636.9" font-family="Liberation Sans, Arial, sans-serif" font-weight="700" font-size="11" text-anchor="end">0</text>
<text x="263.4" y="1613.7" font-family="Liberation Sans, Arial, sans-serif" font-weight="700" font-size="11" text-anchor="end">10<tspan font-size="7" dy="-4.5">3</tspan></text>
<text x="263.4" y="1549.6" font-family="Liberation Sans, Arial, sans-serif" font-weight="700" font-size="11" text-anchor="end">10<tspan font-size="7" dy="-4.5">4</tspan></text>
<text x="263.4" y="1485.1" font-family="Liberation Sans, Arial, sans-serif" font-weight="700" font-size="11" text-anchor="end">10<tspan font-size="7" dy="-4.5">5</tspan></text>
<text x="263.4" y="1422.5" font-family="Liberation Sans, Arial, sans-serif" font-weight="700" font-size="11" text-anchor="end">10<tspan font-size="7" dy="-4.5">6</tspan></text>
<text x="297.9" y="1682.2" font-family="Liberation Sans, Arial, sans-serif" font-weight="700" font-size="11" text-anchor="middle">0</text>
<text x="321.2" y="1682.2" font-family="Liberation Sans, Arial, sans-serif" font-weight="700" font-size="11" text-anchor="middle">10<tspan font-size="7" dy="-4.5">3</tspan></text>
<text x="384.3" y="1682.2" font-family="Liberation Sans, Arial, sans-serif" font-weight="700" font-size="11" text-anchor="middle">10<tspan font-size="7" dy="-4.5">4</tspan></text>
<text x="446.8" y="1682.2" font-family="Liberation Sans, Arial, sans-serif" font-weight="700" font-size="11" text-anchor="middle">10<tspan font-size="7" dy="-4.5">5</tspan></text>
<text x="506.9" y="1682.2" font-family="Liberation Sans, Arial, sans-serif" font-weight="700" font-size="11" text-anchor="middle">10<tspan font-size="7" dy="-4.5">6</tspan></text>
<rect x="417.3" y="1467.6" width="92.8" height="82.9" fill="none" stroke="#111" stroke-width="2.2"/>
<text x="300.1" y="1437.8" font-family="Liberation Sans, Arial, sans-serif" font-size="15" textLength="210.6" lengthAdjust="spacingAndGlyphs">% CD8 multimer (KCY)+ cells</text>
<text x="437.3" y="1575.6" font-family="Liberation Sans, Arial, sans-serif" font-size="22" textLength="54.6" lengthAdjust="spacingAndGlyphs">0.8%</text>
<text transform="translate(239.5,1573.5) rotate(-90)" font-family="Liberation Sans, Arial, sans-serif" font-weight="700" font-size="16" textLength="110" lengthAdjust="spacingAndGlyphs">CD8 BUV805-A</text>
<text x="332.1" y="1707.5" font-family="Liberation Sans, Arial, sans-serif" font-size="16" font-weight="700" textLength="147" lengthAdjust="spacingAndGlyphs">CD8-Tetramer PE-A</text>
<clipPath id="cp5"><rect x="605.5" y="1378.6" width="271.7" height="283.3"/></clipPath>
<g clip-path="url(#cp5)">
<path d="M684.9 1463.2h0M666.4 1472.5h0M605.6 1520.9h0M647.5 1466.3h0M650.0 1536.5h0M614.9 1457.2h0M684.3 1465.7h0M746.9 1489.4h0M723.2 1493.8h0M711.4 1479.3h0M694.1 1466.4h0M693.1 1510.6h0M702.1 1477.0h0M708.6 1494.9h0M661.3 1537.2h0M746.1 1501.9h0M739.5 1462.2h0M720.9 1513.2h0M651.7 1461.7h0M683.9 1470.4h0M692.7 1519.0h0M637.5 1432.1h0M618.3 1466.8h0M638.1 1464.5h0M721.0 1502.5h0M718.1 1491.0h0M610.2 1492.8h0M618.8 1469.4h0M618.1 1452.9h0M735.4 1433.5h0M610.6 1476.5h0M700.1 1465.2h0M765.7 1490.5h0M759.7 1512.4h0M719.1 1460.3h0M626.1 1459.5h0M615.9 1475.0h0M704.5 1515.3h0M628.6 1474.6h0M712.7 1499.9h0M687.0 1510.7h0M697.5 1469.1h0M748.0 1486.9h0M719.7 1479.9h0M717.6 1487.2h0M696.6 1476.1h0M735.1 1489.3h0M606.5 1496.0h0M609.6 1456.6h0M712.6 1500.9h0M694.5 1446.2h0M618.3 1458.8h0M709.8 1500.3h0M673.8 1542.6h0M739.2 1472.9h0M726.9 1467.4h0M795.5 1472.7h0M714.0 1458.9h0M687.4 1466.1h0M672.5 1517.6h0M708.2 1516.3h0M622.4 1474.0h0M721.3 1503.4h0M688.9 1469.1h0M646.5 1457.4h0M727.1 1478.8h0M651.4 1468.1h0M718.1 1449.3h0M696.7 1528.9h0M711.6 1499.3h0M718.2 1484.0h0M711.6 1469.0h0M633.7 1455.7h0M778.1 1458.6h0M722.5 1474.9h0M605.8 1469.3h0M610.3 1490.2h0M740.8 1484.6h0M708.2 1497.2h0M679.7 1465.5h0M749.2 1509.5h0M679.1 1519.7h0M715.7 1467.4h0M698.0 1509.5h0M660.4 1456.7h0M684.3 1462.2h0M754.5 1511.4h0M714.8 1457.4h0M712.9 1486.0h0M689.8 1510.8h0M737.6 1475.7h0M715.2 1477.1h0M744.8 1485.0h0M731.6 1492.6h0M763.8 1507.5h0M742.9 1483.1h0M719.5 1516.1h0M728.5 1484.5h0M714.0 1481.8h0M718.0 1477.5h0M736.7 1479.2h0M734.7 1484.5h0M744.7 1494.5h0M733.1 1475.2h0M714.4 1499.7h0M741.0 1481.9h0M754.3 1483.6h0M728.6 1513.5h0M712.6 1490.9h0M708.0 1485.0h0M725.2 1500.5h0M723.6 1491.1h0M725.6 1461.8h0M722.8 1502.2h0M708.6 1513.4h0M737.5 1489.4h0M745.7 1493.5h0M722.1 1483.8h0M710.4 1503.2h0M724.2 1489.0h0M705.5 1497.6h0M731.9 1498.1h0M735.5 1479.2h0M742.9 1476.6h0M736.9 1505.9h0M724.6 1471.4h0M736.7 1475.4h0M748.2 1480.1h0M721.4 1487.6h0M708.1 1499.7h0M729.0 1484.2h0M720.5 1491.2h0M717.9 1496.6h0M710.1 1483.7h0M724.1 1490.7h0M725.4 1484.5h0M731.5 1467.7h0M713.7 1478.1h0M734.3 1502.3h0M726.8 1493.8h0M721.6 1499.8h0M742.4 1506.3h0M715.4 1487.7h0M724.0 1490.2h0M734.9 1481.1h0M711.0 1496.7h0M715.1 1492.8h0M719.9 1497.9h0M707.8 1488.9h0M687.5 1471.1h0M729.2 1486.1h0M744.9 1508.7h0M737.4 1500.6h0M727.6 1455.0h0M719.0 1488.5h0M741.4 1506.7h0M746.5 1506.0h0M717.0 1493.1h0M708.4 1489.3h0M735.4 1516.7h0M740.5 1485.8h0M731.1 1476.0h0M718.6 1472.6h0M749.0 1482.6h0M719.8 1489.8h0M732.6 1473.1h0M709.9 1491.4h0M718.5 1475.0h0M743.7 1472.9h0M742.5 1497.1h0M709.3 1479.9h0M727.2 1500.1h0M713.2 1480.4h0M730.3 1505.5h0M637.7 1560.9h0M612.0 1521.4h0M647.1 1559.4h0M657.4 1539.0h0M666.1 1598.4h0M644.8 1544.1h0M653.6 1596.2h0M643.7 1579.8h0M654.3 1574.7h0M642.6 1579.3h0M617.0 1538.2h0M647.1 1542.0h0M646.5 1548.3h0M634.7 1582.7h0M636.7 1580.5h0M675.3 1551.2h0M613.3 1572.0h0M642.3 1543.8h0M650.6 1555.6h0M662.2 1564.4h0M655.6 1527.2h0M645.5 1577.2h0M615.0 1573.8h0M636.3 1579.1h0M641.0 1555.7h0M634.5 1584.2h0M659.0 1592.7h0M611.5 1562.6h0M643.5 1571.7h0M636.6 1566.6h0M647.2 1538.1h0M644.6 1553.5h0M633.9 1572.9h0M616.5 1561.4h0M645.7 1565.8h0M657.0 1562.2h0M606.0 1554.2h0M655.7 1577.9h0M639.8 1578.3h0M651.9 1570.2h0M638.3 1579.5h0M608.5 1557.6h0M663.7 1551.5h0M663.2 1589.9h0M641.0 1568.1h0M642.8 1571.5h0M648.4 1584.6h0M644.1 1539.9h0M608.5 1575.8h0M677.9 1606.5h0M648.9 1576.7h0M664.4 1550.6h0M617.2 1558.2h0M608.4 1584.3h0M672.7 1577.2h0M617.5 1543.0h0M649.2 1555.3h0M636.3 1586.0h0M614.3 1549.8h0M654.2 1544.5h0M645.9 1547.2h0M656.3 1567.7h0M608.9 1554.4h0M656.3 1563.5h0M636.4 1566.3h0M655.8 1535.9h0M613.7 1579.4h0M606.5 1560.7h0M645.4 1555.9h0M613.8 1579.4h0M644.8 1545.2h0M643.6 1565.2h0M655.9 1559.0h0M654.2 1554.4h0M668.1 1521.0h0M657.9 1583.4h0M654.7 1570.6h0M616.8 1560.0h0M667.8 1544.9h0M612.8 1579.6h0M648.0 1564.4h0M617.9 1547.4h0M656.5 1560.7h0M610.6 1566.6h0M657.9 1572.9h0M637.0 1557.8h0M639.0 1575.0h0M615.7 1562.1h0M608.2 1539.0h0M654.7 1572.7h0M610.9 1532.1h0M615.9 1566.3h0M649.7 1559.1h0M641.8 1571.3h0M611.7 1565.7h0M617.3 1541.2h0M609.0 1509.4h0M617.8 1567.4h0M707.3 1600.4h0M681.2 1636.2h0M615.3 1568.8h0M665.2 1602.6h0M693.6 1629.5h0M701.6 1641.6h0M667.2 1619.3h0M668.6 1596.0h0M666.1 1575.7h0M667.8 1641.5h0M678.5 1631.7h0M688.9 1616.8h0M680.7 1652.2h0M699.9 1591.2h0M669.4 1629.2h0M645.5 1575.6h0M660.0 1606.8h0M733.6 1566.7h0M673.8 1642.8h0M647.1 1584.3h0M674.5 1555.5h0M679.7 1643.2h0M697.2 1641.1h0M669.9 1632.4h0M641.4 1556.6h0M608.2 1551.1h0M692.2 1646.4h0M670.0 1612.5h0M654.6 1578.7h0M674.4 1576.7h0M692.4 1641.1h0M668.3 1597.5h0M667.4 1579.0h0M727.0 1621.9h0M680.8 1640.4h0M675.8 1644.4h0M676.8 1645.1h0M686.6 1607.2h0M646.5 1577.8h0M668.2 1621.7h0M669.5 1639.5h0M681.0 1642.2h0M690.6 1617.5h0M691.7 1639.0h0M696.4 1638.0h0M675.0 1624.0h0M664.8 1620.6h0M680.0 1642.7h0M674.9 1652.3h0M676.5 1658.0h0M672.0 1623.9h0M666.9 1602.7h0M690.8 1626.8h0M689.0 1612.7h0M670.1 1660.6h0M683.2 1615.7h0M678.7 1617.1h0M685.2 1585.1h0M685.3 1623.8h0M699.9 1634.5h0M688.1 1630.0h0M662.6 1607.9h0M665.0 1630.1h0M696.0 1619.0h0M662.9 1600.4h0M681.2 1611.0h0M666.9 1638.4h0M689.9 1656.5h0M674.3 1644.8h0M690.3 1633.3h0M667.9 1640.8h0M683.6 1612.4h0M688.3 1625.3h0M676.3 1648.3h0M691.1 1605.9h0M670.1 1629.0h0M677.1 1596.9h0M688.8 1595.8h0M698.5 1652.3h0M693.7 1612.0h0M696.8 1627.8h0M661.6 1611.5h0M685.7 1597.0h0M686.4 1594.3h0M676.5 1643.7h0M673.2 1627.3h0M684.9 1633.7h0M684.5 1639.6h0M695.9 1650.6h0M683.6 1631.7h0M673.1 1627.9h0M695.2 1636.5h0M696.1 1622.1h0M692.9 1645.8h0M703.5 1656.8h0M674.0 1636.3h0M705.1 1648.6h0M776.5 1502.9h0M796.8 1517.2h0M785.5 1498.2h0M817.8 1500.5h0M792.9 1490.9h0M783.5 1497.9h0M752.8 1518.6h0M778.4 1509.5h0M776.4 1503.6h0M771.0 1524.8h0M786.6 1506.9h0M753.3 1513.6h0M798.6 1498.4h0M821.1 1521.1h0M772.6 1518.1h0M819.1 1516.0h0M790.9 1510.5h0M771.7 1498.7h0M760.3 1513.5h0M784.4 1509.7h0M799.8 1503.8h0M778.3 1499.0h0M791.0 1519.4h0M782.3 1513.7h0M750.5 1517.5h0M763.9 1514.8h0M765.5 1521.0h0M807.4 1500.0h0M792.8 1521.8h0M772.4 1514.9h0M787.9 1532.2h0M781.7 1521.8h0M784.4 1493.3h0M789.6 1512.0h0M784.4 1498.3h0M779.6 1512.7h0M781.4 1503.6h0M796.7 1507.6h0M781.3 1504.3h0M787.1 1511.2h0M816.0 1491.2h0M791.5 1512.1h0M802.1 1519.4h0M780.7 1495.3h0M753.2 1491.4h0M772.2 1500.3h0M760.0 1521.3h0M789.7 1506.3h0M758.5 1504.9h0M759.9 1505.6h0M781.4 1511.7h0M771.9 1502.6h0M751.2 1511.2h0M789.6 1497.3h0M760.1 1516.9h0M794.1 1508.6h0M777.5 1516.4h0M793.2 1505.9h0M766.7 1514.7h0M781.5 1509.3h0M784.3 1524.7h0M774.9 1503.9h0M754.0 1506.2h0M788.5 1502.5h0M806.9 1499.6h0M800.9 1518.9h0M764.5 1512.7h0M762.3 1496.5h0M773.1 1520.3h0M773.4 1516.3h0M812.8 1521.3h0M774.8 1499.9h0M778.6 1521.1h0M799.6 1488.4h0M775.2 1501.6h0M782.6 1522.5h0M793.4 1480.5h0M773.6 1506.2h0M783.5 1496.9h0M777.9 1512.8h0M782.3 1503.5h0M790.5 1501.7h0M753.0 1501.5h0M758.8 1509.3h0M778.5 1499.7h0M763.7 1507.1h0M781.5 1493.9h0M794.4 1495.9h0M775.5 1500.6h0M794.1 1509.6h0M747.1 1503.7h0M773.0 1502.9h0M796.4 1518.4h0M762.4 1508.7h0M777.0 1509.8h0M763.3 1513.6h0M767.5 1491.3h0M776.0 1493.5h0M791.8 1502.8h0M792.0 1488.9h0M784.1 1515.0h0M786.6 1512.2h0M770.8 1515.0h0M752.5 1501.5h0M810.1 1500.5h0M761.6 1501.2h0M797.5 1506.8h0M738.1 1511.5h0M781.6 1496.2h0M800.3 1505.9h0M800.4 1484.3h0M782.8 1499.6h0M763.5 1508.9h0M778.5 1502.7h0M790.8 1500.4h0M792.2 1512.7h0M767.6 1488.3h0M770.4 1509.5h0M785.2 1492.3h0M755.5 1519.6h0M787.5 1519.7h0M767.4 1516.4h0M777.0 1533.1h0M769.8 1508.2h0M780.2 1495.3h0M789.1 1512.8h0M801.4 1506.1h0M785.6 1495.0h0M780.5 1520.3h0M776.3 1507.9h0M774.3 1515.9h0M768.9 1510.9h0M745.8 1508.5h0M806.8 1472.8h0M784.0 1508.0h0M756.4 1512.4h0M766.0 1500.1h0M793.8 1525.7h0M797.8 1512.7h0M787.1 1486.7h0M768.4 1509.2h0M767.9 1509.0h0M775.0 1515.2h0M751.0 1498.1h0M761.4 1504.8h0M760.4 1507.0h0M794.6 1519.0h0M774.4 1512.7h0M789.3 1498.5h0M813.8 1490.9h0M787.1 1506.5h0M792.2 1498.4h0M797.6 1523.2h0M783.6 1503.2h0M790.9 1502.3h0M775.1 1507.0h0M774.4 1515.8h0M783.1 1505.7h0M773.9 1506.9h0M771.4 1513.9h0M773.7 1512.1h0M758.6 1530.8h0M780.0 1516.6h0M784.0 1499.4h0M781.5 1500.8h0M780.9 1510.7h0M778.6 1527.1h0M789.0 1517.4h0M771.1 1508.8h0M784.4 1504.1h0M799.1 1494.1h0M782.6 1506.4h0M788.1 1521.3h0M786.1 1483.0h0M787.8 1503.8h0M785.4 1494.2h0M784.2 1518.4h0M800.0 1500.5h0M781.6 1488.0h0M787.9 1533.8h0M779.2 1502.8h0M792.1 1511.4h0M829.0 1503.7h0M770.1 1520.2h0M802.5 1489.8h0M768.4 1515.7h0M776.8 1532.1h0M792.2 1497.4h0M791.7 1496.4h0M815.2 1493.1h0M774.9 1594.0h0M800.2 1590.4h0M722.4 1510.0h0M804.8 1605.5h0M783.1 1448.0h0M697.7 1555.0h0M725.9 1590.0h0M737.2 1451.5h0M781.9 1617.1h0M788.4 1581.4h0M861.9 1563.7h0M793.5 1660.7h0M729.5 1459.8h0M864.9 1648.4h0M665.4 1585.3h0M740.2 1549.2h0M675.1 1571.2h0M777.7 1437.5h0M676.9 1526.2h0M649.7 1538.0h0M659.1 1541.3h0M647.8 1536.5h0M677.5 1528.0h0M682.8 1519.3h0M675.4 1531.3h0M669.8 1529.8h0M680.2 1523.5h0M655.1 1544.0h0M676.5 1538.1h0M694.3 1510.7h0M675.0 1519.2h0M682.1 1542.2h0M706.5 1509.8h0M673.8 1516.1h0M694.4 1531.4h0M706.8 1516.6h0M660.3 1547.3h0M659.8 1530.0h0M675.0 1544.8h0M712.5 1517.5h0M707.0 1556.3h0M661.5 1555.7h0M683.1 1543.0h0M696.8 1528.6h0M701.3 1517.8h0M688.8 1517.2h0M676.1 1531.3h0M710.3 1526.7h0M670.2 1551.5h0M723.0 1540.8h0M713.3 1511.0h0M662.5 1555.2h0M675.7 1527.5h0M683.0 1523.1h0M682.0 1553.4h0M680.8 1522.0h0M644.0 1542.4h0M678.5 1526.2h0M682.6 1518.0h0M669.0 1518.1h0M674.0 1519.5h0M643.7 1542.6h0M647.1 1541.1h0M674.2 1532.2h0M709.6 1516.5h0M661.7 1534.9h0M694.7 1521.7h0M706.9 1525.2h0M680.5 1524.8h0M663.4 1545.4h0M696.0 1515.0h0M637.9 1562.1h0M672.0 1518.8h0M672.1 1549.0h0M715.1 1504.2h0M688.4 1543.3h0M708.8 1530.0h0M653.4 1542.6h0M698.6 1561.9h0M697.8 1549.5h0M614.3 1542.3h0M715.6 1500.7h0M660.9 1527.7h0M690.1 1536.0h0M701.7 1520.3h0M721.5 1508.4h0M690.8 1571.2h0M689.5 1515.8h0M664.4 1534.8h0M691.0 1521.3h0M668.5 1559.7h0M698.1 1508.9h0M656.6 1543.1h0M676.7 1528.4h0M657.5 1555.8h0M697.1 1513.7h0M658.8 1539.1h0M726.4 1475.3h0M699.0 1514.0h0M671.4 1534.4h0M695.5 1512.8h0M666.0 1523.0h0M694.9 1508.1h0M654.4 1534.4h0M680.5 1516.7h0M677.9 1533.7h0M650.0 1552.6h0M667.1 1541.7h0M699.6 1514.5h0M679.8 1541.9h0M674.4 1549.2h0M690.0 1538.9h0M711.4 1529.9h0M690.1 1510.2h0M678.4 1531.0h0M674.3 1536.2h0M717.6 1499.2h0M680.1 1550.1h0M685.4 1522.9h0M677.8 1530.8h0M611.2 1532.7h0M695.5 1529.2h0M666.4 1537.6h0M658.1 1560.9h0M704.0 1502.1h0M681.1 1543.8h0M649.3 1538.5h0" stroke="#3a5cff" stroke-opacity="0.85" stroke-width="1.4" stroke-linecap="square"/>
<g filter="url(#jet)">
<rect x="593.5" y="1366.6" width="295.7" height="307.3" fill="#000"/>
<g filter="url(#nz)">
<path d="M611.5 1484.6 L619.5 1477.6 L645.5 1474.6 L683.5 1474.6 L699.5 1477.6 L707.5 1483.6 L707.5 1493.6 L701.5 1501.6 L685.5 1509.6 L665.5 1519.6 L650.5 1529.6 L639.5 1542.6 L634.5 1563.6 L632.5 1583.6 L640.5 1592.6 L655.5 1600.6 L664.5 1618.6 L666.5 1668.6 L595.5 1668.6 L595.5 1598.6 L614.5 1588.6 L618.5 1563.6 L618.5 1538.6 L613.5 1523.6 L610.5 1503.6Z" fill="#fff" fill-opacity="0.13" filter="url(#eb6)"/>
<path d="M610.5 1526.6 L665.5 1520.6 L650.5 1548.6 L645.5 1583.6 L640.5 1594.6 L610.5 1594.6Z" fill="#fff" fill-opacity="0.055" filter="url(#eb3)"/>
<path d="M705.5 1478.6 L727.5 1484.6 L725.5 1500.6 L705.5 1504.6Z" fill="#fff" fill-opacity="0.05" filter="url(#eb3)"/>
<path d="M663.5 1596.6 L685.5 1612.6 L683.5 1660.6 L665.5 1660.6Z" fill="#fff" fill-opacity="0.04" filter="url(#eb3)"/>
</g>
<path d="M611.5 1484.6 L619.5 1477.6 L645.5 1474.6 L683.5 1474.6 L699.5 1477.6 L707.5 1483.6 L707.5 1493.6 L701.5 1501.6 L685.5 1509.6 L665.5 1519.6 L650.5 1529.6 L639.5 1542.6 L634.5 1563.6 L632.5 1583.6 L640.5 1592.6 L655.5 1600.6 L664.5 1618.6 L666.5 1668.6 L595.5 1668.6 L595.5 1598.6 L614.5 1588.6 L618.5 1563.6 L618.5 1538.6 L613.5 1523.6 L610.5 1503.6Z" fill="#333" filter="url(#eb)" style="mix-blend-mode:lighten"/>
<ellipse cx="650.1" cy="1492.5" rx="22" ry="12" fill="url(#rg)" fill-opacity="0.22"/>
<ellipse cx="632.7" cy="1631.1" rx="31" ry="34" fill="url(#rg)" fill-opacity="0.8"/>
<ellipse cx="632.7" cy="1631.1" rx="11" ry="12" fill="url(#rg)" fill-opacity="1.0"/>
</g></g>
<rect x="605.5" y="1378.6" width="271.7" height="283.3" fill="none" stroke="#555" stroke-width="1.3"/>
<path d="M602.5 1591.7h3M602.5 1580.4h3M602.5 1572.3h3M602.5 1566.1h3M602.5 1560.9h3M602.5 1556.6h3M602.5 1552.9h3M602.5 1549.6h3M602.5 1527.1h3M602.5 1515.7h3M602.5 1507.6h3M602.5 1501.3h3M602.5 1496.1h3M602.5 1491.8h3M602.5 1488h3M602.5 1484.7h3M602.5 1462.8h3M602.5 1451.7h3M602.5 1443.8h3M602.5 1437.7h3M602.5 1432.7h3M602.5 1428.5h3M602.5 1424.8h3M602.5 1421.6h3M602.5 1399.8h3M602.5 1388.7h3M602.5 1380.8h3M602 1640.5h3.5M602 1637.4h3.5M602 1635.9h3.5M602 1634.4h3.5M602 1632.9h3.5M602 1631.4h3.5M602 1628.3h3.5M672.3 1661.9v3M683.4 1661.9v3M691.3 1661.9v3M697.4 1661.9v3M702.4 1661.9v3M706.6 1661.9v3M710.3 1661.9v3M713.5 1661.9v3M735.2 1661.9v3M746.2 1661.9v3M754 1661.9v3M760.1 1661.9v3M765 1661.9v3M769.2 1661.9v3M772.8 1661.9v3M776 1661.9v3M797 1661.9v3M807.6 1661.9v3M815.1 1661.9v3M820.9 1661.9v3M825.7 1661.9v3M829.7 1661.9v3M833.2 1661.9v3M836.3 1661.9v3M857.2 1661.9v3M867.7 1661.9v3M875.3 1661.9v3M607.8 1661.9v3M609.8 1661.9v3M619.9 1661.9v3M622 1661.9v3M624 1661.9v3M626 1661.9v3M628 1661.9v3M630 1661.9v3M631 1661.9v3M632 1661.9v3M633.1 1661.9v3M634.1 1661.9v3M636.1 1661.9v3M638.1 1661.9v3M640.1 1661.9v3M642.1 1661.9v3M644.2 1661.9v3M646.2 1661.9v3M648.2 1661.9v3M650.2 1661.9v3" stroke="#111" stroke-width="1" fill="none"/>
<path d="M599 1657.7h6.5M599 1634.4h6.5M599 1611.1h6.5M599 1546.6h6.5M599 1481.7h6.5M599 1418.7h6.5M630.8 1661.9v6M632 1661.9v6M633.3 1661.9v6M606.1 1661.9v6M653.3 1661.9v6M716.4 1661.9v6M778.9 1661.9v6M839 1661.9v6" stroke="#000" stroke-width="2" fill="none"/>
<text x="597.5" y="1661.7" font-family="Liberation Sans, Arial, sans-serif" font-weight="700" font-size="11" text-anchor="end">-10<tspan font-size="7" dy="-4.5">3</tspan></text>
<text x="596.5" y="1638.4" font-family="Liberation Sans, Arial, sans-serif" font-weight="700" font-size="11" text-anchor="end">0</text>
<text x="597.5" y="1615.1" font-family="Liberation Sans, Arial, sans-serif" font-weight="700" font-size="11" text-anchor="end">10<tspan font-size="7" dy="-4.5">3</tspan></text>
<text x="597.5" y="1550.6" font-family="Liberation Sans, Arial, sans-serif" font-weight="700" font-size="11" text-anchor="end">10<tspan font-size="7" dy="-4.5">4</tspan></text>
<text x="597.5" y="1485.7" font-family="Liberation Sans, Arial, sans-serif" font-weight="700" font-size="11" text-anchor="end">10<tspan font-size="7" dy="-4.5">5</tspan></text>
<text x="597.5" y="1422.7" font-family="Liberation Sans, Arial, sans-serif" font-weight="700" font-size="11" text-anchor="end">10<tspan font-size="7" dy="-4.5">6</tspan></text>
<text x="632" y="1683.9" font-family="Liberation Sans, Arial, sans-serif" font-weight="700" font-size="11" text-anchor="middle">0</text>
<text x="655.3" y="1683.9" font-family="Liberation Sans, Arial, sans-serif" font-weight="700" font-size="11" text-anchor="middle">10<tspan font-size="7" dy="-4.5">3</tspan></text>
<text x="718.4" y="1683.9" font-family="Liberation Sans, Arial, sans-serif" font-weight="700" font-size="11" text-anchor="middle">10<tspan font-size="7" dy="-4.5">4</tspan></text>
<text x="780.9" y="1683.9" font-family="Liberation Sans, Arial, sans-serif" font-weight="700" font-size="11" text-anchor="middle">10<tspan font-size="7" dy="-4.5">5</tspan></text>
<text x="841" y="1683.9" font-family="Liberation Sans, Arial, sans-serif" font-weight="700" font-size="11" text-anchor="middle">10<tspan font-size="7" dy="-4.5">6</tspan></text>
<rect x="751" y="1468.6" width="93.4" height="82.7" fill="none" stroke="#111" stroke-width="2.2"/>
<text x="636.9" y="1438.9" font-family="Liberation Sans, Arial, sans-serif" font-size="15" textLength="210.6" lengthAdjust="spacingAndGlyphs">% CD8 multimer (KCY)+ cells</text>
<text x="761.3" y="1576" font-family="Liberation Sans, Arial, sans-serif" font-size="22" textLength="69.2" lengthAdjust="spacingAndGlyphs">0.74%</text>
<text transform="translate(571.3,1564.2) rotate(-90)" font-family="Liberation Sans, Arial, sans-serif" font-weight="700" font-size="16" textLength="109.9" lengthAdjust="spacingAndGlyphs">CD8 BUV805-A</text>
<text x="667.7" y="1707.5" font-family="Liberation Sans, Arial, sans-serif" font-size="16" font-weight="700" textLength="146.5" lengthAdjust="spacingAndGlyphs">CD8-Tetramer PE-A</text>
<clipPath id="cp6"><rect x="936.9" y="1379.2" width="272" height="282.7"/></clipPath>
<g clip-path="url(#cp6)">
<path d="M1050.6 1513.5h0M979.1 1488.6h0M996.0 1494.4h0M972.9 1468.2h0M996.8 1438.8h0M986.3 1486.9h0M944.4 1505.4h0M947.5 1482.6h0M970.0 1483.0h0M1015.0 1499.4h0M998.6 1481.5h0M1020.4 1457.4h0M1003.0 1495.5h0M1010.9 1516.6h0M1037.9 1494.0h0M1013.8 1518.7h0M981.3 1479.7h0M1008.1 1538.8h0M1015.7 1545.4h0M1028.9 1516.6h0M1000.1 1548.0h0M939.6 1476.5h0M1007.3 1469.5h0M1011.3 1558.4h0M981.5 1482.1h0M971.5 1460.2h0M1001.2 1468.5h0M954.0 1492.0h0M1006.6 1514.7h0M939.1 1504.1h0M942.6 1501.5h0M960.1 1473.2h0M1032.7 1518.7h0M947.7 1528.5h0M958.0 1460.2h0M997.3 1528.5h0M941.4 1506.6h0M997.4 1489.4h0M1011.1 1471.4h0M966.2 1474.3h0M1012.7 1486.2h0M997.6 1550.9h0M939.6 1533.8h0M972.5 1467.0h0M1014.7 1507.0h0M1052.0 1499.6h0M939.1 1497.5h0M1047.3 1477.2h0M1026.6 1512.1h0M1017.0 1529.4h0M945.4 1515.9h0M1025.9 1503.9h0M991.0 1485.9h0M943.9 1523.9h0M1084.1 1513.8h0M1008.1 1468.9h0M1011.9 1489.0h0M978.6 1486.6h0M1008.8 1534.7h0M968.8 1478.8h0M1009.7 1554.2h0M981.3 1482.3h0M963.5 1460.7h0M1017.0 1469.7h0M956.0 1481.1h0M960.8 1480.5h0M941.5 1480.0h0M962.9 1490.2h0M1008.7 1542.3h0M996.5 1492.8h0M942.6 1491.6h0M1047.5 1534.9h0M947.1 1484.0h0M987.5 1482.8h0M1005.3 1499.0h0M960.5 1471.6h0M1001.9 1479.1h0M995.8 1539.9h0M1015.8 1536.1h0M975.8 1465.0h0M940.2 1485.8h0M1010.2 1482.2h0M992.9 1486.6h0M1008.4 1520.5h0M1008.3 1508.4h0M1043.0 1514.7h0M1015.7 1502.9h0M996.3 1469.4h0M1008.5 1502.7h0M956.7 1456.6h0M944.0 1506.8h0M1023.9 1503.5h0M966.2 1486.5h0M946.2 1481.6h0M960.8 1488.9h0M989.1 1467.2h0M1051.4 1469.1h0M950.4 1542.5h0M1020.7 1471.8h0M1016.7 1536.4h0M1004.2 1495.2h0M1005.6 1525.3h0M966.5 1483.9h0M1011.6 1494.6h0M1028.3 1492.2h0M1048.2 1549.6h0M1021.8 1508.3h0M1028.6 1524.0h0M1025.0 1567.4h0M1015.2 1532.9h0M1020.0 1530.0h0M1023.9 1511.1h0M1039.5 1493.7h0M1024.4 1538.3h0M1021.5 1526.6h0M1000.4 1532.3h0M1027.8 1544.0h0M1025.8 1488.6h0M1018.5 1512.2h0M1015.4 1554.2h0M1027.8 1507.2h0M1059.5 1559.6h0M1007.1 1522.0h0M1030.7 1483.0h0M1053.9 1545.9h0M1037.3 1547.0h0M1015.8 1511.7h0M1048.1 1537.4h0M1038.9 1524.0h0M1026.8 1484.6h0M1041.0 1499.2h0M1012.1 1563.6h0M1027.8 1551.5h0M1010.3 1466.9h0M1040.8 1529.6h0M1030.3 1494.6h0M1016.1 1532.4h0M1035.7 1529.2h0M991.9 1560.7h0M1004.4 1529.3h0M1028.8 1542.5h0M1018.6 1516.8h0M1030.6 1495.2h0M1036.8 1520.1h0M1047.4 1470.3h0M1014.1 1539.8h0M1028.1 1471.3h0M1014.4 1506.9h0M1027.4 1556.4h0M1030.3 1508.1h0M1020.7 1491.1h0M1012.5 1544.0h0M1016.0 1453.3h0M1045.2 1551.1h0M996.1 1488.2h0M1062.7 1524.3h0M1050.1 1495.0h0M1045.4 1521.9h0M1007.4 1529.6h0M1074.2 1570.1h0M1031.7 1485.1h0M1006.1 1527.9h0M1035.6 1534.3h0M1031.2 1506.8h0M1045.1 1521.2h0M1029.9 1554.2h0M998.4 1549.9h0M1039.8 1537.5h0M1034.6 1537.3h0M1010.5 1530.1h0M1041.2 1555.3h0M1012.1 1506.8h0M1012.7 1551.3h0M1056.5 1533.2h0M1024.0 1546.4h0M1011.4 1535.0h0M1037.1 1534.1h0M1015.2 1567.4h0M1056.2 1561.8h0M1013.1 1538.7h0M1047.4 1504.2h0M1015.1 1504.9h0M1055.2 1507.4h0M1043.2 1492.6h0M1046.9 1574.7h0M997.7 1548.9h0M1049.5 1561.0h0M1038.0 1556.4h0M1013.4 1487.3h0M1053.6 1506.1h0M1041.4 1505.1h0M1074.9 1491.9h0M1031.0 1569.3h0M1015.6 1492.4h0M1026.1 1502.6h0M1026.6 1487.3h0M1003.5 1522.5h0M1030.0 1512.8h0M1031.5 1516.1h0M1009.6 1522.4h0M1011.6 1518.4h0M1016.5 1558.4h0M1032.9 1513.6h0M1055.2 1555.3h0M1023.5 1500.1h0M997.1 1490.0h0M1020.5 1501.3h0M1040.2 1534.0h0M1034.2 1539.9h0M1028.1 1503.5h0M1023.6 1536.6h0M1008.8 1588.5h0M1028.4 1529.9h0M999.3 1477.3h0M1022.2 1529.3h0M1031.9 1518.1h0M1032.4 1575.5h0M1062.5 1574.5h0M1028.2 1534.5h0M1046.3 1458.2h0M1015.8 1529.8h0M1020.1 1522.0h0M1028.8 1497.8h0M1020.5 1510.6h0M1025.1 1522.1h0M1043.9 1569.0h0M1019.7 1551.1h0M1016.2 1506.5h0M1002.3 1497.1h0M1013.6 1519.5h0M1065.7 1519.4h0M1046.0 1506.8h0M1019.0 1493.5h0M1004.7 1572.0h0M1027.1 1513.9h0M1005.6 1542.9h0M1015.9 1587.7h0M1027.5 1567.2h0M999.4 1580.2h0M1007.5 1624.7h0M938.6 1593.4h0M997.7 1546.2h0M1028.9 1611.3h0M1007.9 1570.1h0M939.2 1577.8h0M999.8 1589.7h0M1012.8 1575.3h0M995.2 1582.9h0M995.9 1571.8h0M1032.9 1553.0h0M1013.7 1585.6h0M975.9 1655.3h0M995.9 1548.6h0M995.4 1549.2h0M949.9 1580.9h0M940.5 1600.3h0M942.4 1549.3h0M1007.4 1580.2h0M1017.5 1539.3h0M1001.9 1626.6h0M998.4 1541.3h0M1002.7 1563.8h0M947.2 1559.2h0M1000.8 1544.0h0M1011.3 1600.3h0M944.0 1587.0h0M997.3 1551.4h0M941.3 1578.0h0M994.7 1550.1h0M1006.3 1580.7h0M1017.5 1546.0h0M1031.4 1578.0h0M1030.4 1636.6h0M1001.6 1553.2h0M1041.8 1544.1h0M1017.1 1621.0h0M1038.0 1574.7h0M1006.5 1495.8h0M947.1 1589.2h0M1019.5 1581.5h0M1023.0 1559.4h0M1011.2 1566.0h0M938.8 1627.5h0M941.7 1596.3h0M1005.3 1606.5h0M1010.6 1642.1h0M1030.8 1574.3h0M971.4 1646.5h0M939.9 1647.6h0M959.8 1648.0h0M1008.7 1653.8h0M945.1 1654.8h0M977.1 1655.5h0M961.8 1654.4h0M943.5 1646.1h0M971.3 1657.3h0M974.4 1658.3h0M1000.3 1640.9h0M980.2 1659.2h0M946.8 1658.9h0M974.0 1656.4h0M976.5 1651.8h0M973.8 1650.2h0M986.8 1651.5h0M963.2 1657.9h0M952.0 1654.7h0M982.1 1656.3h0M946.6 1649.3h0M939.2 1655.5h0M1003.0 1654.1h0M1009.6 1660.4h0M1015.4 1660.1h0M941.1 1653.8h0M998.0 1639.3h0M979.1 1658.7h0M989.4 1660.0h0M994.5 1656.7h0M972.9 1659.2h0M1020.5 1650.1h0M953.0 1650.2h0M997.3 1642.5h0M986.6 1656.3h0M991.1 1656.9h0M974.4 1657.1h0M975.9 1658.0h0M1005.8 1654.3h0M1003.9 1653.5h0M977.4 1648.5h0M975.9 1653.4h0M1020.0 1647.5h0M1009.3 1649.5h0M981.7 1651.7h0M963.2 1657.0h0M959.1 1658.6h0M948.9 1650.9h0M981.4 1652.1h0M971.9 1651.8h0M951.4 1660.1h0M971.8 1655.7h0M953.0 1653.6h0M946.0 1658.2h0M968.0 1654.9h0M987.6 1650.8h0M966.4 1654.8h0M957.3 1652.7h0M976.0 1658.2h0M968.8 1651.0h0M990.1 1649.7h0M961.2 1660.1h0M947.2 1656.1h0M994.7 1657.9h0M960.0 1645.7h0M993.2 1659.7h0M966.2 1654.7h0M991.2 1650.0h0M944.5 1659.2h0M1015.2 1652.6h0M967.3 1659.8h0M1007.6 1657.0h0M1000.4 1628.6h0M1003.9 1635.0h0M998.2 1631.7h0M940.4 1563.4h0M967.8 1648.7h0M1005.7 1632.6h0M1007.7 1635.6h0M960.8 1658.6h0M1016.2 1643.2h0M1051.4 1608.6h0M1039.1 1634.6h0M1013.4 1657.3h0M982.9 1653.2h0M977.4 1649.2h0M1014.5 1619.4h0M1048.9 1652.1h0M1009.4 1644.5h0M999.6 1583.3h0M1003.0 1577.4h0M1008.2 1641.4h0M1032.9 1657.0h0M939.1 1623.3h0M1009.0 1565.9h0M952.9 1650.3h0M968.7 1660.8h0M1030.0 1571.2h0M1023.2 1626.0h0M1009.6 1638.0h0M997.6 1636.1h0M1037.0 1607.8h0M1012.1 1645.7h0M940.3 1620.9h0M995.4 1655.1h0M970.3 1652.8h0M1020.7 1611.0h0M1048.6 1618.8h0M1048.0 1642.4h0M1007.5 1604.2h0M1008.6 1610.7h0M1026.7 1575.0h0M1011.8 1658.8h0M944.8 1596.0h0M958.9 1652.0h0M1013.8 1602.5h0M947.4 1658.5h0M950.4 1642.9h0M1090.2 1513.2h0M1091.3 1522.2h0M1090.9 1516.5h0M1082.7 1511.1h0M1078.0 1511.3h0M1087.3 1515.5h0M1088.4 1518.1h0M1089.2 1504.8h0M1098.1 1502.7h0M1083.8 1520.5h0M1090.5 1511.0h0M1109.9 1506.6h0M1098.1 1513.1h0M1097.1 1506.8h0M1092.9 1515.3h0M1097.4 1506.9h0M1100.2 1510.3h0M1089.1 1516.8h0M1088.7 1516.0h0M1102.9 1495.4h0M1099.2 1501.7h0M1087.0 1497.8h0M1087.8 1503.4h0M1081.6 1511.7h0M1088.4 1514.7h0M1090.5 1518.4h0M1087.7 1508.9h0M1090.1 1495.8h0M1090.3 1506.3h0M1095.7 1509.4h0M1062.3 1500.8h0M1083.3 1498.4h0M1093.7 1505.5h0M1087.7 1503.0h0M1090.4 1511.2h0" stroke="#3a5cff" stroke-opacity="0.85" stroke-width="1.4" stroke-linecap="square"/>
<g filter="url(#jet)">
<rect x="924.9" y="1367.2" width="296" height="306.7" fill="#000"/>
<g filter="url(#nz)">
<path d="M946.9 1505.2 L954.9 1492.2 L971.9 1489.2 L986.9 1490.2 L996.9 1495.2 L1003.9 1505.2 L1001.9 1519.2 L994.9 1529.2 L991.9 1554.2 L990.9 1584.2 L996.9 1594.2 L999.9 1619.2 L996.9 1637.2 L986.9 1644.2 L966.9 1646.2 L948.9 1641.2 L941.9 1629.2 L941.9 1604.2 L948.9 1591.2 L952.9 1569.2 L952.9 1539.2 L948.9 1524.2Z" fill="#fff" fill-opacity="0.13" filter="url(#eb6)"/>
<path d="M991.9 1497.2 L1024.9 1505.2 L1016.9 1529.2 L996.9 1549.2 L991.9 1529.2Z" fill="#fff" fill-opacity="0.04" filter="url(#eb3)"/>
<path d="M944.9 1637.2 L1001.9 1635.2 L996.9 1669.2 L946.9 1669.2Z" fill="#fff" fill-opacity="0.06" filter="url(#eb3)"/>
<path d="M936.9 1509.2 L952.9 1509.2 L952.9 1609.2 L936.9 1609.2Z" fill="#fff" fill-opacity="0.045" filter="url(#eb3)"/>
</g>
<path d="M946.9 1505.2 L954.9 1492.2 L971.9 1489.2 L986.9 1490.2 L996.9 1495.2 L1003.9 1505.2 L1001.9 1519.2 L994.9 1529.2 L991.9 1554.2 L990.9 1584.2 L996.9 1594.2 L999.9 1619.2 L996.9 1637.2 L986.9 1644.2 L966.9 1646.2 L948.9 1641.2 L941.9 1629.2 L941.9 1604.2 L948.9 1591.2 L952.9 1569.2 L952.9 1539.2 L948.9 1524.2Z" fill="#333" filter="url(#eb)" style="mix-blend-mode:lighten"/>
<ellipse cx="977.5" cy="1508.4" rx="14" ry="13" fill="url(#rg)" fill-opacity="0.15"/>
<ellipse cx="970.9" cy="1610.2" rx="18" ry="30" fill="url(#rg)" fill-opacity="0.22"/>
<ellipse cx="970.9" cy="1619.4" rx="22" ry="22" fill="url(#rg)" fill-opacity="0.6"/>
<ellipse cx="970.9" cy="1619.4" rx="9" ry="9" fill="url(#rg)" fill-opacity="1.0"/>
</g></g>
<rect x="936.9" y="1379.2" width="272" height="282.7" fill="none" stroke="#555" stroke-width="1.3"/>
<path d="M933.9 1530.9h3M933.9 1518.8h3M933.9 1510.2h3M933.9 1503.6h3M933.9 1498.1h3M933.9 1493.5h3M933.9 1489.6h3M933.9 1486.1h3M933.9 1464.2h3M933.9 1453.2h3M933.9 1445.4h3M933.9 1439.4h3M933.9 1434.5h3M933.9 1430.3h3M933.9 1426.7h3M933.9 1423.5h3M933.9 1401.9h3M933.9 1391h3M933.9 1383.2h3M933.4 1627.5h3.5M933.4 1624.5h3.5M933.4 1623h3.5M933.4 1621.4h3.5M933.4 1619.9h3.5M933.4 1618.4h3.5M933.4 1615.4h3.5M1064.3 1661.9v3M1075.6 1661.9v3M1083.7 1661.9v3M1089.9 1661.9v3M1095 1661.9v3M1099.3 1661.9v3M1103 1661.9v3M1106.3 1661.9v3M1127.4 1661.9v3M1138 1661.9v3M1145.5 1661.9v3M1151.4 1661.9v3M1156.1 1661.9v3M1160.2 1661.9v3M1163.7 1661.9v3M1166.7 1661.9v3M1187.6 1661.9v3M1198.2 1661.9v3M1205.8 1661.9v3M947.9 1661.9v3M949.9 1661.9v3M960 1661.9v3M962.1 1661.9v3M964.1 1661.9v3M966.1 1661.9v3M968.1 1661.9v3M970.1 1661.9v3M971.2 1661.9v3M972.2 1661.9v3M973.2 1661.9v3M974.2 1661.9v3M976.2 1661.9v3M978.2 1661.9v3M980.2 1661.9v3M982.3 1661.9v3M984.3 1661.9v3M986.3 1661.9v3M988.3 1661.9v3M990.4 1661.9v3M997.9 1661.9v3M1009.8 1661.9v3M1018.2 1661.9v3M1024.7 1661.9v3M1030 1661.9v3M1034.5 1661.9v3M1038.4 1661.9v3M1041.8 1661.9v3M933.9 1596.5h3M933.9 1585.2h3M933.9 1577.1h3M933.9 1570.9h3M933.9 1565.8h3M933.9 1561.5h3M933.9 1557.8h3M933.9 1554.5h3" stroke="#111" stroke-width="1" fill="none"/>
<path d="M930.4 1621.4h6.5M930.4 1551.5h6.5M930.4 1482.9h6.5M930.4 1420.7h6.5M971 1661.9v6M972.2 1661.9v6M973.4 1661.9v6M958.6 1661.9v5M986.7 1661.9v5M931.9 1643.1h5M931.9 1606.9h5M937.5 1661.9v6M1044.9 1661.9v6M1109.3 1661.9v6M1169.5 1661.9v6" stroke="#000" stroke-width="2" fill="none"/>
<text x="927.9" y="1625.4" font-family="Liberation Sans, Arial, sans-serif" font-weight="700" font-size="11" text-anchor="end">0</text>
<text x="928.9" y="1555.5" font-family="Liberation Sans, Arial, sans-serif" font-weight="700" font-size="11" text-anchor="end">10<tspan font-size="7" dy="-4.5">4</tspan></text>
<text x="928.9" y="1486.9" font-family="Liberation Sans, Arial, sans-serif" font-weight="700" font-size="11" text-anchor="end">10<tspan font-size="7" dy="-4.5">5</tspan></text>
<text x="928.9" y="1424.7" font-family="Liberation Sans, Arial, sans-serif" font-weight="700" font-size="11" text-anchor="end">10<tspan font-size="7" dy="-4.5">6</tspan></text>
<text x="972.2" y="1683.9" font-family="Liberation Sans, Arial, sans-serif" font-weight="700" font-size="11" text-anchor="middle">0</text>
<text x="1046.9" y="1683.9" font-family="Liberation Sans, Arial, sans-serif" font-weight="700" font-size="11" text-anchor="middle">10<tspan font-size="7" dy="-4.5">4</tspan></text>
<text x="1111.3" y="1683.9" font-family="Liberation Sans, Arial, sans-serif" font-weight="700" font-size="11" text-anchor="middle">10<tspan font-size="7" dy="-4.5">5</tspan></text>
<text x="1171.5" y="1683.9" font-family="Liberation Sans, Arial, sans-serif" font-weight="700" font-size="11" text-anchor="middle">10<tspan font-size="7" dy="-4.5">6</tspan></text>
<rect x="1066.4" y="1476.2" width="63" height="79.2" fill="none" stroke="#111" stroke-width="2.2"/>
<text x="969.5" y="1448.5" font-family="Liberation Sans, Arial, sans-serif" font-size="15" textLength="211.5" lengthAdjust="spacingAndGlyphs">% CD8 multimer (TTD)+ cells</text>
<text x="1065" y="1581.7" font-family="Liberation Sans, Arial, sans-serif" font-size="22" textLength="69.2" lengthAdjust="spacingAndGlyphs">0.14%</text>
<text transform="translate(905.5,1558.7) rotate(-90)" font-family="Liberation Sans, Arial, sans-serif" font-weight="700" font-size="16" textLength="98.3" lengthAdjust="spacingAndGlyphs">CD8 BV750-A</text>
<text x="1014.1" y="1708" font-family="Liberation Sans, Arial, sans-serif" font-size="16" font-weight="700" textLength="147" lengthAdjust="spacingAndGlyphs">CD8-Tetramer PE-A</text>
<clipPath id="cp7"><rect x="1264.7" y="1379.2" width="270.8" height="283.7"/></clipPath>
<g clip-path="url(#cp7)">
<path d="M1338.2 1470.3h0M1299.6 1460.5h0M1275.4 1481.3h0M1364.1 1480.8h0M1354.5 1541.2h0M1345.9 1492.0h0M1343.7 1509.4h0M1374.9 1539.2h0M1358.8 1517.6h0M1325.8 1520.8h0M1304.5 1485.3h0M1327.6 1508.0h0M1348.1 1468.2h0M1265.5 1501.3h0M1310.5 1477.4h0M1321.1 1490.1h0M1346.8 1527.1h0M1321.7 1533.9h0M1354.0 1509.7h0M1286.5 1467.9h0M1268.0 1514.3h0M1332.8 1512.1h0M1279.1 1469.5h0M1323.6 1537.5h0M1270.5 1484.8h0M1341.6 1501.6h0M1321.2 1539.9h0M1373.6 1524.9h0M1355.5 1519.0h0M1329.4 1468.5h0M1326.5 1493.3h0M1344.5 1561.3h0M1325.8 1468.5h0M1320.1 1541.4h0M1331.7 1507.9h0M1288.1 1473.1h0M1312.2 1481.3h0M1328.0 1489.2h0M1265.0 1480.1h0M1336.1 1507.1h0M1325.1 1533.1h0M1291.9 1470.0h0M1336.0 1460.9h0M1290.4 1464.3h0M1326.9 1521.6h0M1360.3 1515.6h0M1319.6 1535.1h0M1332.0 1521.1h0M1334.1 1464.1h0M1339.6 1502.3h0M1337.1 1505.8h0M1290.6 1483.1h0M1331.8 1514.8h0M1327.4 1537.3h0M1321.9 1550.8h0M1392.8 1501.4h0M1333.0 1540.8h0M1283.3 1478.7h0M1264.8 1484.9h0M1310.1 1484.9h0M1320.6 1419.5h0M1270.1 1495.9h0M1330.1 1476.5h0M1366.3 1512.4h0M1363.3 1515.0h0M1333.5 1519.0h0M1329.8 1522.2h0M1267.5 1534.7h0M1321.7 1553.9h0M1355.6 1485.7h0M1291.7 1466.1h0M1305.8 1455.9h0M1285.1 1469.7h0M1336.9 1470.3h0M1271.9 1464.1h0M1310.5 1441.7h0M1270.7 1462.4h0M1335.9 1512.8h0M1332.3 1491.8h0M1338.8 1486.8h0M1315.2 1483.2h0M1347.5 1500.3h0M1331.5 1525.3h0M1337.5 1532.4h0M1387.5 1504.7h0M1352.5 1501.5h0M1364.4 1518.2h0M1362.0 1508.6h0M1357.0 1503.4h0M1344.2 1502.5h0M1372.2 1503.2h0M1350.7 1510.0h0M1343.7 1490.2h0M1399.5 1508.7h0M1335.1 1499.6h0M1341.3 1528.2h0M1359.0 1507.7h0M1349.9 1492.3h0M1365.4 1455.1h0M1329.0 1501.1h0M1343.2 1483.8h0M1361.8 1510.3h0M1336.7 1483.1h0M1365.4 1509.3h0M1342.8 1529.6h0M1359.4 1508.5h0M1322.7 1478.9h0M1355.6 1488.8h0M1391.6 1503.0h0M1345.4 1482.5h0M1363.8 1497.3h0M1345.3 1530.4h0M1344.9 1501.0h0M1348.9 1497.7h0M1374.3 1496.7h0M1380.5 1496.7h0M1338.4 1506.6h0M1344.6 1530.0h0M1336.1 1504.1h0M1386.9 1501.9h0M1329.7 1481.5h0M1342.6 1491.3h0M1361.0 1503.2h0M1350.4 1485.5h0M1334.2 1525.0h0M1326.5 1485.2h0M1336.8 1525.8h0M1346.5 1493.1h0M1344.4 1527.5h0M1364.4 1478.6h0M1340.0 1479.2h0M1355.9 1501.0h0M1327.2 1499.5h0M1400.8 1504.2h0M1331.6 1507.5h0M1348.3 1503.3h0M1354.1 1528.3h0M1317.2 1479.3h0M1351.9 1505.2h0M1322.7 1490.7h0M1369.1 1498.9h0M1349.4 1488.3h0M1369.0 1498.8h0M1333.2 1498.6h0M1363.3 1489.9h0M1352.5 1525.5h0M1382.6 1475.9h0M1332.1 1519.8h0M1328.6 1512.9h0M1350.9 1484.9h0M1376.5 1490.9h0M1309.7 1481.5h0M1321.8 1484.8h0M1360.3 1514.3h0M1326.9 1515.8h0M1348.0 1496.1h0M1316.2 1472.5h0M1364.8 1486.0h0M1351.3 1513.3h0M1360.1 1496.2h0M1340.1 1493.5h0M1333.0 1475.1h0M1376.6 1514.5h0M1358.2 1511.3h0M1355.8 1505.5h0M1354.9 1505.3h0M1351.3 1527.9h0M1326.7 1500.8h0M1306.0 1481.9h0M1355.5 1516.9h0M1348.7 1490.1h0M1364.1 1524.8h0M1341.5 1510.8h0M1368.4 1499.0h0M1381.3 1489.6h0M1373.6 1512.4h0M1356.0 1497.3h0M1340.0 1493.4h0M1366.7 1521.5h0M1331.7 1563.7h0M1338.6 1594.6h0M1345.3 1554.0h0M1337.3 1556.4h0M1320.0 1551.3h0M1335.9 1572.5h0M1346.1 1566.6h0M1345.3 1586.1h0M1332.8 1574.5h0M1347.2 1572.9h0M1327.6 1539.9h0M1402.9 1606.7h0M1328.7 1595.1h0M1323.4 1572.2h0M1343.4 1513.8h0M1370.9 1590.3h0M1327.1 1541.8h0M1389.4 1564.1h0M1340.1 1553.9h0M1361.3 1572.2h0M1354.4 1568.4h0M1349.4 1583.2h0M1363.4 1553.1h0M1357.3 1548.4h0M1334.2 1580.6h0M1322.9 1531.7h0M1336.0 1550.8h0M1333.6 1584.0h0M1376.8 1589.2h0M1363.1 1542.9h0M1334.5 1575.4h0M1336.0 1594.2h0M1328.0 1607.9h0M1343.7 1567.9h0M1340.3 1549.6h0M1327.9 1558.3h0M1331.9 1542.7h0M1331.1 1516.5h0M1392.1 1527.2h0M1406.3 1556.5h0M1370.3 1565.6h0M1360.0 1561.3h0M1366.4 1504.3h0M1314.3 1480.3h0M1380.0 1532.1h0M1340.6 1573.5h0M1345.3 1523.0h0M1360.5 1582.0h0M1327.5 1550.3h0M1370.0 1543.9h0M1345.0 1559.3h0M1390.7 1577.4h0M1336.3 1537.4h0M1321.6 1586.7h0M1329.0 1535.5h0M1344.3 1549.9h0M1325.6 1562.2h0M1352.3 1537.8h0M1342.3 1542.2h0M1324.7 1549.5h0M1336.0 1551.9h0M1345.8 1550.2h0M1331.9 1566.8h0M1330.8 1504.3h0M1324.7 1540.8h0M1330.6 1591.9h0M1345.3 1574.0h0M1359.3 1538.3h0M1332.4 1541.9h0M1360.7 1558.9h0M1329.3 1540.8h0M1358.2 1567.2h0M1337.7 1598.7h0M1370.9 1536.2h0M1345.8 1569.6h0M1322.8 1579.6h0M1339.3 1523.3h0M1337.0 1540.7h0M1365.2 1599.6h0M1364.0 1537.9h0M1338.6 1570.6h0M1345.2 1518.2h0M1331.8 1530.6h0M1368.2 1536.8h0M1359.2 1606.0h0M1332.8 1564.3h0M1324.5 1598.7h0M1339.0 1576.4h0M1356.7 1586.6h0M1366.8 1557.6h0M1360.0 1593.7h0M1373.5 1596.2h0M1335.1 1594.4h0M1335.5 1554.9h0M1340.5 1580.4h0M1346.8 1619.8h0M1404.1 1520.6h0M1424.1 1509.6h0M1404.7 1498.0h0M1427.0 1503.3h0M1395.2 1508.7h0M1402.8 1509.7h0M1394.3 1509.3h0M1414.1 1513.1h0M1394.8 1511.8h0M1423.5 1487.1h0M1423.5 1503.2h0M1430.6 1503.8h0M1403.0 1500.3h0M1435.2 1503.8h0M1434.4 1495.1h0M1397.0 1528.4h0M1412.8 1506.4h0M1420.8 1510.4h0M1420.2 1503.2h0M1426.3 1499.4h0M1403.3 1517.4h0M1402.6 1513.6h0M1394.7 1513.9h0M1395.2 1512.6h0M1410.7 1512.2h0M1403.8 1524.8h0M1399.6 1500.5h0M1402.9 1513.4h0M1391.6 1510.3h0M1405.3 1532.9h0M1423.5 1515.9h0M1409.5 1509.4h0M1410.4 1504.0h0M1416.8 1505.4h0M1405.3 1504.2h0M1408.5 1513.2h0M1420.4 1507.7h0M1411.6 1515.9h0M1424.9 1498.7h0M1418.1 1514.4h0M1424.9 1506.7h0M1427.2 1517.6h0M1416.8 1515.4h0M1404.1 1509.6h0M1418.1 1504.2h0M1403.1 1514.0h0M1412.1 1510.3h0M1421.0 1498.6h0M1422.5 1526.8h0M1412.7 1512.3h0M1395.9 1505.1h0M1401.1 1508.9h0M1404.5 1517.1h0M1396.1 1509.1h0M1416.2 1496.7h0M1429.8 1501.2h0M1430.5 1517.4h0M1416.2 1509.4h0M1412.3 1521.2h0M1406.6 1519.7h0M1413.4 1519.7h0M1408.0 1505.1h0M1413.4 1514.5h0M1397.7 1512.0h0M1400.0 1520.9h0M1414.7 1508.2h0M1424.0 1514.2h0M1405.1 1510.5h0M1420.4 1527.4h0M1392.5 1510.8h0M1411.4 1505.0h0M1415.0 1511.4h0M1421.8 1513.2h0M1444.9 1519.9h0M1422.8 1500.7h0M1425.0 1518.0h0M1426.8 1508.3h0M1398.1 1521.6h0M1421.6 1528.5h0M1413.6 1524.5h0M1413.1 1500.7h0M1401.5 1526.4h0M1389.2 1509.6h0M1422.8 1522.7h0M1389.6 1511.3h0M1413.1 1514.5h0M1422.0 1500.3h0M1424.7 1513.6h0M1433.1 1497.0h0M1404.2 1518.2h0M1412.6 1515.6h0M1400.8 1513.8h0M1398.8 1533.5h0M1416.6 1498.6h0M1412.4 1521.9h0M1418.3 1509.7h0M1404.3 1520.9h0M1388.1 1506.9h0M1409.1 1521.6h0M1413.0 1503.0h0M1419.1 1513.7h0M1414.6 1500.3h0M1418.7 1508.5h0M1391.8 1508.5h0M1424.0 1505.8h0M1383.2 1510.7h0M1422.0 1515.1h0M1415.0 1518.1h0M1436.5 1495.3h0M1391.3 1512.2h0M1431.8 1503.2h0M1399.4 1499.7h0M1406.0 1503.6h0M1405.1 1500.8h0M1418.0 1520.4h0M1426.3 1506.0h0M1409.2 1505.9h0M1433.5 1517.1h0M1407.4 1500.4h0M1425.1 1509.9h0M1422.2 1495.9h0M1413.8 1505.5h0M1413.1 1505.0h0M1418.0 1523.1h0M1419.7 1536.8h0M1417.8 1488.5h0M1393.5 1507.8h0M1418.1 1506.7h0M1409.9 1517.3h0M1399.8 1498.2h0M1412.4 1504.4h0M1414.9 1515.6h0M1387.9 1523.1h0M1407.3 1503.0h0M1427.9 1500.5h0M1424.6 1484.9h0M1431.9 1506.7h0M1400.8 1515.7h0M1423.3 1516.6h0M1411.4 1530.8h0M1426.8 1506.2h0M1417.1 1517.1h0M1393.9 1525.5h0M1418.7 1502.7h0M1403.4 1501.0h0M1430.1 1520.3h0M1417.0 1513.3h0M1405.5 1532.1h0M1423.8 1503.1h0M1415.9 1504.9h0M1405.8 1518.5h0M1416.5 1532.9h0M1407.8 1523.6h0M1418.4 1522.2h0M1407.6 1511.6h0M1397.8 1507.8h0M1403.8 1528.1h0M1420.8 1522.1h0M1432.3 1518.6h0M1400.9 1514.8h0M1275.9 1649.9h0M1330.6 1634.8h0M1312.1 1647.1h0M1318.9 1655.9h0M1280.6 1655.6h0M1292.0 1653.4h0M1333.1 1659.7h0M1281.7 1659.4h0M1278.0 1648.8h0M1298.2 1661.7h0M1317.5 1658.9h0M1266.3 1658.0h0M1316.7 1655.3h0M1326.4 1638.9h0M1314.0 1650.8h0M1289.1 1650.2h0M1271.1 1651.7h0M1320.8 1655.2h0M1329.4 1657.8h0M1279.6 1656.6h0M1285.6 1655.6h0M1292.2 1654.5h0M1284.7 1652.8h0M1267.3 1651.1h0M1265.5 1655.3h0M1316.0 1654.3h0M1279.9 1648.0h0M1286.8 1649.9h0M1298.1 1654.8h0M1269.6 1657.5h0M1307.9 1656.4h0M1282.6 1647.2h0M1341.7 1652.2h0M1267.4 1646.7h0M1277.7 1648.9h0M1271.2 1652.3h0M1284.4 1654.1h0M1306.9 1651.8h0M1332.7 1648.2h0M1280.6 1644.0h0M1285.9 1651.7h0M1265.4 1661.6h0M1320.0 1649.7h0M1302.5 1657.1h0M1317.1 1652.0h0M1300.3 1651.7h0M1343.1 1656.1h0M1303.4 1661.6h0M1352.6 1650.1h0M1309.6 1657.6h0M1336.1 1653.8h0M1319.9 1651.2h0M1292.4 1652.0h0M1349.7 1653.7h0M1279.8 1661.5h0M1292.3 1654.3h0M1267.5 1648.3h0M1284.9 1656.8h0M1304.7 1651.5h0M1295.8 1657.6h0M1314.8 1651.1h0M1296.1 1649.1h0M1286.0 1646.5h0M1328.7 1655.5h0M1286.9 1661.0h0M1354.8 1597.3h0M1347.0 1613.8h0M1332.4 1567.5h0M1267.7 1574.8h0M1329.9 1586.7h0M1319.7 1530.7h0M1362.7 1606.8h0M1343.2 1595.1h0M1330.4 1564.4h0M1321.7 1554.8h0M1329.1 1599.4h0M1341.7 1584.3h0M1329.8 1553.6h0M1271.2 1478.3h0M1328.5 1601.6h0M1340.7 1484.5h0M1333.2 1557.8h0M1342.3 1620.1h0M1323.2 1563.6h0M1321.0 1594.0h0M1264.9 1519.1h0M1340.0 1561.3h0M1331.8 1577.6h0M1359.0 1585.2h0M1361.2 1530.9h0M1336.8 1541.5h0M1265.7 1581.0h0M1339.9 1628.2h0M1337.9 1581.2h0M1369.7 1547.5h0M1369.7 1555.8h0M1320.8 1540.7h0M1341.0 1575.4h0M1335.4 1593.8h0M1346.5 1610.1h0M1326.4 1649.5h0M1291.7 1658.8h0M1319.2 1650.9h0M1265.2 1576.3h0M1327.0 1648.4h0M1318.2 1660.4h0M1328.9 1660.4h0M1350.4 1660.6h0M1324.1 1647.9h0M1380.5 1638.5h0M1286.7 1656.8h0M1270.4 1649.9h0M1344.9 1652.3h0M1327.9 1629.7h0M1325.0 1603.9h0M1287.6 1651.6h0M1337.8 1601.4h0M1366.3 1608.0h0M1345.1 1646.8h0M1267.1 1598.2h0M1310.1 1644.8h0M1345.5 1637.9h0M1311.6 1652.6h0M1338.6 1661.3h0M1325.9 1570.8h0M1354.5 1608.0h0M1329.2 1621.3h0M1279.9 1647.9h0M1332.9 1610.6h0M1281.8 1644.6h0M1402.6 1625.0h0M1302.2 1656.9h0M1353.1 1623.4h0M1326.0 1628.1h0M1362.1 1597.8h0M1267.7 1660.2h0M1347.3 1610.5h0M1337.6 1630.6h0" stroke="#3a5cff" stroke-opacity="0.85" stroke-width="1.4" stroke-linecap="square"/>
<g filter="url(#jet)">
<rect x="1252.7" y="1367.2" width="294.8" height="307.7" fill="#000"/>
<g filter="url(#nz)">
<path d="M1269.7 1500.2 L1276.7 1490.2 L1294.7 1486.2 L1314.7 1487.2 L1324.7 1493.2 L1327.7 1505.2 L1324.7 1519.2 L1319.7 1529.2 L1318.7 1559.2 L1318.7 1589.2 L1322.7 1599.2 L1326.7 1619.2 L1324.7 1637.2 L1312.7 1643.2 L1289.7 1645.2 L1270.7 1639.2 L1266.7 1624.2 L1267.7 1599.2 L1268.7 1559.2 L1267.7 1529.2Z" fill="#fff" fill-opacity="0.13" filter="url(#eb6)"/>
<path d="M1319.7 1493.2 L1354.7 1499.2 L1349.7 1524.2 L1324.7 1544.2 L1319.7 1529.2Z" fill="#fff" fill-opacity="0.04" filter="url(#eb3)"/>
<path d="M1269.7 1637.2 L1326.7 1635.2 L1322.7 1669.2 L1272.7 1669.2Z" fill="#fff" fill-opacity="0.06" filter="url(#eb3)"/>
</g>
<path d="M1269.7 1500.2 L1276.7 1490.2 L1294.7 1486.2 L1314.7 1487.2 L1324.7 1493.2 L1327.7 1505.2 L1324.7 1519.2 L1319.7 1529.2 L1318.7 1559.2 L1318.7 1589.2 L1322.7 1599.2 L1326.7 1619.2 L1324.7 1637.2 L1312.7 1643.2 L1289.7 1645.2 L1270.7 1639.2 L1266.7 1624.2 L1267.7 1599.2 L1268.7 1559.2 L1267.7 1529.2Z" fill="#333" filter="url(#eb)" style="mix-blend-mode:lighten"/>
<ellipse cx="1302.5" cy="1504.2" rx="16" ry="18" fill="url(#rg)" fill-opacity="0.22"/>
<ellipse cx="1298.4" cy="1608.2" rx="18" ry="30" fill="url(#rg)" fill-opacity="0.2"/>
<ellipse cx="1298.4" cy="1619.2" rx="22" ry="22" fill="url(#rg)" fill-opacity="0.6"/>
<ellipse cx="1298.4" cy="1619.2" rx="9" ry="9" fill="url(#rg)" fill-opacity="1.0"/>
</g></g>
<rect x="1264.7" y="1379.2" width="270.8" height="283.7" fill="none" stroke="#555" stroke-width="1.3"/>
<path d="M1261.7 1531.4h3M1261.7 1519.3h3M1261.7 1510.7h3M1261.7 1504h3M1261.7 1498.6h3M1261.7 1493.9h3M1261.7 1490h3M1261.7 1486.4h3M1261.7 1464.5h3M1261.7 1453.5h3M1261.7 1445.7h3M1261.7 1439.6h3M1261.7 1434.7h3M1261.7 1430.5h3M1261.7 1426.9h3M1261.7 1423.7h3M1261.7 1402h3M1261.7 1391h3M1261.7 1383.2h3M1261.2 1628.4h3.5M1261.2 1625.3h3.5M1261.2 1623.8h3.5M1261.2 1622.3h3.5M1261.2 1620.8h3.5M1261.2 1619.3h3.5M1261.2 1616.2h3.5M1391.5 1662.9v3M1402.8 1662.9v3M1410.8 1662.9v3M1417 1662.9v3M1422.1 1662.9v3M1426.4 1662.9v3M1430.1 1662.9v3M1433.4 1662.9v3M1454.4 1662.9v3M1464.9 1662.9v3M1472.4 1662.9v3M1478.2 1662.9v3M1483 1662.9v3M1487 1662.9v3M1490.5 1662.9v3M1493.5 1662.9v3M1514.3 1662.9v3M1524.9 1662.9v3M1532.4 1662.9v3M1275.7 1662.9v3M1277.7 1662.9v3M1287.7 1662.9v3M1289.7 1662.9v3M1291.8 1662.9v3M1293.8 1662.9v3M1295.8 1662.9v3M1297.8 1662.9v3M1298.8 1662.9v3M1299.8 1662.9v3M1300.8 1662.9v3M1301.8 1662.9v3M1303.8 1662.9v3M1305.8 1662.9v3M1307.9 1662.9v3M1309.9 1662.9v3M1311.9 1662.9v3M1313.9 1662.9v3M1315.9 1662.9v3M1317.9 1662.9v3M1325.5 1662.9v3M1337.3 1662.9v3M1345.6 1662.9v3M1352.1 1662.9v3M1357.4 1662.9v3M1361.9 1662.9v3M1365.8 1662.9v3M1369.2 1662.9v3M1261.7 1597.3h3M1261.7 1585.9h3M1261.7 1577.8h3M1261.7 1571.6h3M1261.7 1566.5h3M1261.7 1562.1h3M1261.7 1558.4h3M1261.7 1555.1h3" stroke="#111" stroke-width="1" fill="none"/>
<path d="M1258.2 1622.3h6.5M1258.2 1552.1h6.5M1258.2 1483.3h6.5M1258.2 1420.8h6.5M1298.6 1662.9v6M1299.8 1662.9v6M1301 1662.9v6M1286.3 1662.9v5M1314.3 1662.9v5M1259.7 1644.1h5M1259.7 1607.7h5M1265.3 1662.9v6M1372.2 1662.9v6M1436.3 1662.9v6M1496.3 1662.9v6" stroke="#000" stroke-width="2" fill="none"/>
<text x="1255.7" y="1626.3" font-family="Liberation Sans, Arial, sans-serif" font-weight="700" font-size="11" text-anchor="end">0</text>
<text x="1256.7" y="1556.1" font-family="Liberation Sans, Arial, sans-serif" font-weight="700" font-size="11" text-anchor="end">10<tspan font-size="7" dy="-4.5">4</tspan></text>
<text x="1256.7" y="1487.3" font-family="Liberation Sans, Arial, sans-serif" font-weight="700" font-size="11" text-anchor="end">10<tspan font-size="7" dy="-4.5">5</tspan></text>
<text x="1256.7" y="1424.8" font-family="Liberation Sans, Arial, sans-serif" font-weight="700" font-size="11" text-anchor="end">10<tspan font-size="7" dy="-4.5">6</tspan></text>
<text x="1299.8" y="1684.9" font-family="Liberation Sans, Arial, sans-serif" font-weight="700" font-size="11" text-anchor="middle">0</text>
<text x="1374.2" y="1684.9" font-family="Liberation Sans, Arial, sans-serif" font-weight="700" font-size="11" text-anchor="middle">10<tspan font-size="7" dy="-4.5">4</tspan></text>
<text x="1438.3" y="1684.9" font-family="Liberation Sans, Arial, sans-serif" font-weight="700" font-size="11" text-anchor="middle">10<tspan font-size="7" dy="-4.5">5</tspan></text>
<text x="1498.3" y="1684.9" font-family="Liberation Sans, Arial, sans-serif" font-weight="700" font-size="11" text-anchor="middle">10<tspan font-size="7" dy="-4.5">6</tspan></text>
<rect x="1393.2" y="1476.9" width="62.7" height="79.1" fill="none" stroke="#111" stroke-width="2.2"/>
<text x="1293" y="1445" font-family="Liberation Sans, Arial, sans-serif" font-size="15" textLength="211.7" lengthAdjust="spacingAndGlyphs">% CD8 multimer (TTD)+ cells</text>
<text x="1389.1" y="1582.7" font-family="Liberation Sans, Arial, sans-serif" font-size="22" textLength="69.2" lengthAdjust="spacingAndGlyphs">0.38%</text>
<text transform="translate(1232.5,1560.1) rotate(-90)" font-family="Liberation Sans, Arial, sans-serif" font-weight="700" font-size="16" textLength="98.6" lengthAdjust="spacingAndGlyphs">CD8 BV750-A</text>
<text x="1327.7" y="1710" font-family="Liberation Sans, Arial, sans-serif" font-size="16" font-weight="700" textLength="147.3" lengthAdjust="spacingAndGlyphs">CD8-Tetramer PE-A</text>
</svg>
</body></html>
